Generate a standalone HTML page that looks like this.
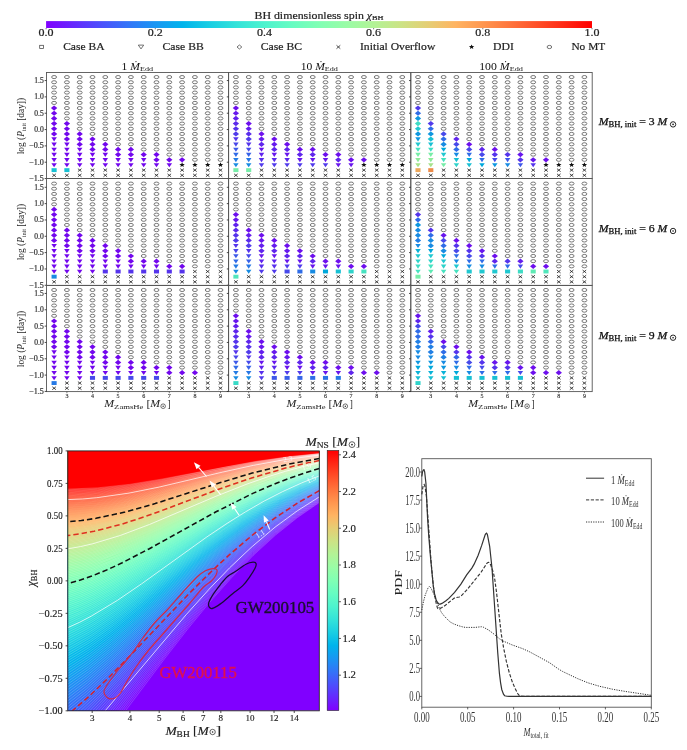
<!DOCTYPE html><html><head><meta charset="utf-8"><style>html,body{margin:0;padding:0;background:#fff;}svg{display:block;font-family:'Liberation Serif', serif;will-change:transform;} .hv text{stroke:#222;stroke-width:0.18;} .hv2 text{stroke:#222;stroke-width:0.15;}</style></head><body>
<svg width="687" height="750" viewBox="0 0 687 750">
<rect width="687" height="750" fill="#fff"/>
<g class="hv">
<defs><linearGradient id="rb" x1="0" x2="1" y1="0" y2="0">
<stop offset="0.000" stop-color="#8000ff"/>
<stop offset="0.050" stop-color="#6628fe"/>
<stop offset="0.100" stop-color="#4c4ffc"/>
<stop offset="0.150" stop-color="#3374f8"/>
<stop offset="0.200" stop-color="#1996f3"/>
<stop offset="0.250" stop-color="#00b4ec"/>
<stop offset="0.300" stop-color="#19cee3"/>
<stop offset="0.350" stop-color="#33e3d9"/>
<stop offset="0.400" stop-color="#4df3ce"/>
<stop offset="0.450" stop-color="#66fcc2"/>
<stop offset="0.500" stop-color="#80ffb4"/>
<stop offset="0.550" stop-color="#99fca6"/>
<stop offset="0.600" stop-color="#b2f396"/>
<stop offset="0.650" stop-color="#cce385"/>
<stop offset="0.700" stop-color="#e5ce74"/>
<stop offset="0.750" stop-color="#ffb462"/>
<stop offset="0.800" stop-color="#ff964f"/>
<stop offset="0.850" stop-color="#ff743c"/>
<stop offset="0.900" stop-color="#ff4f28"/>
<stop offset="0.950" stop-color="#ff2814"/>
<stop offset="1.000" stop-color="#ff0000"/>
</linearGradient></defs>
<rect x="46.10" y="21.1" width="545.90" height="6.9" fill="url(#rb)"/>
<line x1="46.10" y1="28" x2="46.10" y2="29.3" stroke="#222" stroke-width="0.6"/>
<text x="46.10" y="36.30" font-size="9.30" text-anchor="middle" fill="#222" font-weight="normal" textLength="15.00" lengthAdjust="spacingAndGlyphs">0.0</text>
<line x1="155.28" y1="28" x2="155.28" y2="29.3" stroke="#222" stroke-width="0.6"/>
<text x="155.28" y="36.30" font-size="9.30" text-anchor="middle" fill="#222" font-weight="normal" textLength="15.00" lengthAdjust="spacingAndGlyphs">0.2</text>
<line x1="264.46" y1="28" x2="264.46" y2="29.3" stroke="#222" stroke-width="0.6"/>
<text x="264.46" y="36.30" font-size="9.30" text-anchor="middle" fill="#222" font-weight="normal" textLength="15.00" lengthAdjust="spacingAndGlyphs">0.4</text>
<line x1="373.64" y1="28" x2="373.64" y2="29.3" stroke="#222" stroke-width="0.6"/>
<text x="373.64" y="36.30" font-size="9.30" text-anchor="middle" fill="#222" font-weight="normal" textLength="15.00" lengthAdjust="spacingAndGlyphs">0.6</text>
<line x1="482.82" y1="28" x2="482.82" y2="29.3" stroke="#222" stroke-width="0.6"/>
<text x="482.82" y="36.30" font-size="9.30" text-anchor="middle" fill="#222" font-weight="normal" textLength="15.00" lengthAdjust="spacingAndGlyphs">0.8</text>
<line x1="592.00" y1="28" x2="592.00" y2="29.3" stroke="#222" stroke-width="0.6"/>
<text x="592.00" y="36.30" font-size="9.30" text-anchor="middle" fill="#222" font-weight="normal" textLength="15.00" lengthAdjust="spacingAndGlyphs">1.0</text>
<text x="254.50" y="18.70" font-size="9.80" text-anchor="start" fill="#222" font-weight="normal" textLength="129.00" lengthAdjust="spacingAndGlyphs">BH dimensionless spin <tspan font-style="italic">χ</tspan><tspan font-size="6.8" dy="1.6">BH</tspan></text>
<rect x="39.7" y="45.3" width="3.8" height="3.3" fill="none" stroke="#444" stroke-width="0.75"/>
<path d="M138.3,45.1 L143.7,45.1 L141,48.9 Z" fill="none" stroke="#444" stroke-width="0.75"/>
<path d="M237.0,47 L239.4,45.0 L241.8,47 L239.4,49.0 Z" fill="none" stroke="#444" stroke-width="0.75"/>
<path d="M336.5,45.3 L340.3,48.7 M340.3,45.3 L336.5,48.7" stroke="#222" stroke-width="0.8"/>
<path d="M471.60,44.40 L472.36,45.99 L474.33,46.13 L472.83,47.25 L473.29,48.92 L471.60,48.02 L469.91,48.92 L470.37,47.25 L468.87,46.13 L470.84,45.99Z" fill="#111"/>
<ellipse cx="549.4" cy="47" rx="2.3" ry="1.6" fill="none" stroke="#444" stroke-width="0.75"/>
<text x="63.20" y="49.80" font-size="9.90" text-anchor="start" fill="#222" font-weight="normal" textLength="41.30" lengthAdjust="spacingAndGlyphs">Case BA</text>
<text x="162.60" y="49.80" font-size="9.90" text-anchor="start" fill="#222" font-weight="normal" textLength="41.10" lengthAdjust="spacingAndGlyphs">Case BB</text>
<text x="260.80" y="49.80" font-size="9.90" text-anchor="start" fill="#222" font-weight="normal" textLength="41.20" lengthAdjust="spacingAndGlyphs">Case BC</text>
<text x="360.00" y="49.80" font-size="9.90" text-anchor="start" fill="#222" font-weight="normal" textLength="75.30" lengthAdjust="spacingAndGlyphs">Initial Overflow</text>
<text x="493.00" y="49.80" font-size="9.90" text-anchor="start" fill="#222" font-weight="normal" textLength="20.80" lengthAdjust="spacingAndGlyphs">DDI</text>
<text x="571.40" y="49.80" font-size="9.90" text-anchor="start" fill="#222" font-weight="normal" textLength="33.80" lengthAdjust="spacingAndGlyphs">No MT</text>
</g>
<defs>
<ellipse id="mc" rx="2.45" ry="1.55" fill="none" stroke="#555" stroke-width="0.8"/>
<path id="md" d="M-3.15,0 L0,-2.6 L3.15,0 L0,2.6 Z"/>
<path id="mt" d="M-2.75,-1.75 L2.75,-1.75 L0,2.35 Z"/>
<path id="ms" d="M-2.55,-1.95 h5.1 v3.9 h-5.1 Z"/>
<path id="mx" d="M-1.8,-1.45 L1.8,1.45 M1.8,-1.45 L-1.8,1.45" stroke="#1a1a1a" stroke-width="0.8" fill="none"/>
</defs>
<use href="#mc" x="54.1" y="77.07"/>
<use href="#mc" x="54.1" y="82.24"/>
<use href="#mc" x="54.1" y="87.41"/>
<use href="#mc" x="54.1" y="92.58"/>
<use href="#mc" x="54.1" y="97.75"/>
<use href="#mc" x="54.1" y="102.92"/>
<use href="#mc" x="66.9" y="77.07"/>
<use href="#mc" x="66.9" y="82.24"/>
<use href="#mc" x="66.9" y="87.41"/>
<use href="#mc" x="66.9" y="92.58"/>
<use href="#mc" x="66.9" y="97.75"/>
<use href="#mc" x="66.9" y="102.92"/>
<use href="#mc" x="66.9" y="108.09"/>
<use href="#mc" x="66.9" y="113.26"/>
<use href="#mc" x="66.9" y="118.43"/>
<use href="#mc" x="79.7" y="77.07"/>
<use href="#mc" x="79.7" y="82.24"/>
<use href="#mc" x="79.7" y="87.41"/>
<use href="#mc" x="79.7" y="92.58"/>
<use href="#mc" x="79.7" y="97.75"/>
<use href="#mc" x="79.7" y="102.92"/>
<use href="#mc" x="79.7" y="108.09"/>
<use href="#mc" x="79.7" y="113.26"/>
<use href="#mc" x="79.7" y="118.43"/>
<use href="#mc" x="79.7" y="123.60"/>
<use href="#mc" x="79.7" y="128.77"/>
<use href="#mc" x="92.5" y="77.07"/>
<use href="#mc" x="92.5" y="82.24"/>
<use href="#mc" x="92.5" y="87.41"/>
<use href="#mc" x="92.5" y="92.58"/>
<use href="#mc" x="92.5" y="97.75"/>
<use href="#mc" x="92.5" y="102.92"/>
<use href="#mc" x="92.5" y="108.09"/>
<use href="#mc" x="92.5" y="113.26"/>
<use href="#mc" x="92.5" y="118.43"/>
<use href="#mc" x="92.5" y="123.60"/>
<use href="#mc" x="92.5" y="128.77"/>
<use href="#mc" x="92.5" y="133.94"/>
<use href="#mc" x="105.3" y="77.07"/>
<use href="#mc" x="105.3" y="82.24"/>
<use href="#mc" x="105.3" y="87.41"/>
<use href="#mc" x="105.3" y="92.58"/>
<use href="#mc" x="105.3" y="97.75"/>
<use href="#mc" x="105.3" y="102.92"/>
<use href="#mc" x="105.3" y="108.09"/>
<use href="#mc" x="105.3" y="113.26"/>
<use href="#mc" x="105.3" y="118.43"/>
<use href="#mc" x="105.3" y="123.60"/>
<use href="#mc" x="105.3" y="128.77"/>
<use href="#mc" x="105.3" y="133.94"/>
<use href="#mc" x="105.3" y="139.11"/>
<use href="#mc" x="118.1" y="77.07"/>
<use href="#mc" x="118.1" y="82.24"/>
<use href="#mc" x="118.1" y="87.41"/>
<use href="#mc" x="118.1" y="92.58"/>
<use href="#mc" x="118.1" y="97.75"/>
<use href="#mc" x="118.1" y="102.92"/>
<use href="#mc" x="118.1" y="108.09"/>
<use href="#mc" x="118.1" y="113.26"/>
<use href="#mc" x="118.1" y="118.43"/>
<use href="#mc" x="118.1" y="123.60"/>
<use href="#mc" x="118.1" y="128.77"/>
<use href="#mc" x="118.1" y="133.94"/>
<use href="#mc" x="118.1" y="139.11"/>
<use href="#mc" x="118.1" y="144.28"/>
<use href="#mc" x="130.9" y="77.07"/>
<use href="#mc" x="130.9" y="82.24"/>
<use href="#mc" x="130.9" y="87.41"/>
<use href="#mc" x="130.9" y="92.58"/>
<use href="#mc" x="130.9" y="97.75"/>
<use href="#mc" x="130.9" y="102.92"/>
<use href="#mc" x="130.9" y="108.09"/>
<use href="#mc" x="130.9" y="113.26"/>
<use href="#mc" x="130.9" y="118.43"/>
<use href="#mc" x="130.9" y="123.60"/>
<use href="#mc" x="130.9" y="128.77"/>
<use href="#mc" x="130.9" y="133.94"/>
<use href="#mc" x="130.9" y="139.11"/>
<use href="#mc" x="130.9" y="144.28"/>
<use href="#mc" x="143.7" y="77.07"/>
<use href="#mc" x="143.7" y="82.24"/>
<use href="#mc" x="143.7" y="87.41"/>
<use href="#mc" x="143.7" y="92.58"/>
<use href="#mc" x="143.7" y="97.75"/>
<use href="#mc" x="143.7" y="102.92"/>
<use href="#mc" x="143.7" y="108.09"/>
<use href="#mc" x="143.7" y="113.26"/>
<use href="#mc" x="143.7" y="118.43"/>
<use href="#mc" x="143.7" y="123.60"/>
<use href="#mc" x="143.7" y="128.77"/>
<use href="#mc" x="143.7" y="133.94"/>
<use href="#mc" x="143.7" y="139.11"/>
<use href="#mc" x="143.7" y="144.28"/>
<use href="#mc" x="143.7" y="149.45"/>
<use href="#mc" x="156.5" y="77.07"/>
<use href="#mc" x="156.5" y="82.24"/>
<use href="#mc" x="156.5" y="87.41"/>
<use href="#mc" x="156.5" y="92.58"/>
<use href="#mc" x="156.5" y="97.75"/>
<use href="#mc" x="156.5" y="102.92"/>
<use href="#mc" x="156.5" y="108.09"/>
<use href="#mc" x="156.5" y="113.26"/>
<use href="#mc" x="156.5" y="118.43"/>
<use href="#mc" x="156.5" y="123.60"/>
<use href="#mc" x="156.5" y="128.77"/>
<use href="#mc" x="156.5" y="133.94"/>
<use href="#mc" x="156.5" y="139.11"/>
<use href="#mc" x="156.5" y="144.28"/>
<use href="#mc" x="156.5" y="149.45"/>
<use href="#mc" x="169.3" y="77.07"/>
<use href="#mc" x="169.3" y="82.24"/>
<use href="#mc" x="169.3" y="87.41"/>
<use href="#mc" x="169.3" y="92.58"/>
<use href="#mc" x="169.3" y="97.75"/>
<use href="#mc" x="169.3" y="102.92"/>
<use href="#mc" x="169.3" y="108.09"/>
<use href="#mc" x="169.3" y="113.26"/>
<use href="#mc" x="169.3" y="118.43"/>
<use href="#mc" x="169.3" y="123.60"/>
<use href="#mc" x="169.3" y="128.77"/>
<use href="#mc" x="169.3" y="133.94"/>
<use href="#mc" x="169.3" y="139.11"/>
<use href="#mc" x="169.3" y="144.28"/>
<use href="#mc" x="169.3" y="149.45"/>
<use href="#mc" x="169.3" y="154.62"/>
<use href="#mc" x="182.1" y="77.07"/>
<use href="#mc" x="182.1" y="82.24"/>
<use href="#mc" x="182.1" y="87.41"/>
<use href="#mc" x="182.1" y="92.58"/>
<use href="#mc" x="182.1" y="97.75"/>
<use href="#mc" x="182.1" y="102.92"/>
<use href="#mc" x="182.1" y="108.09"/>
<use href="#mc" x="182.1" y="113.26"/>
<use href="#mc" x="182.1" y="118.43"/>
<use href="#mc" x="182.1" y="123.60"/>
<use href="#mc" x="182.1" y="128.77"/>
<use href="#mc" x="182.1" y="133.94"/>
<use href="#mc" x="182.1" y="139.11"/>
<use href="#mc" x="182.1" y="144.28"/>
<use href="#mc" x="182.1" y="149.45"/>
<use href="#mc" x="182.1" y="154.62"/>
<use href="#mc" x="194.9" y="77.07"/>
<use href="#mc" x="194.9" y="82.24"/>
<use href="#mc" x="194.9" y="87.41"/>
<use href="#mc" x="194.9" y="92.58"/>
<use href="#mc" x="194.9" y="97.75"/>
<use href="#mc" x="194.9" y="102.92"/>
<use href="#mc" x="194.9" y="108.09"/>
<use href="#mc" x="194.9" y="113.26"/>
<use href="#mc" x="194.9" y="118.43"/>
<use href="#mc" x="194.9" y="123.60"/>
<use href="#mc" x="194.9" y="128.77"/>
<use href="#mc" x="194.9" y="133.94"/>
<use href="#mc" x="194.9" y="139.11"/>
<use href="#mc" x="194.9" y="144.28"/>
<use href="#mc" x="194.9" y="149.45"/>
<use href="#mc" x="194.9" y="154.62"/>
<use href="#mc" x="194.9" y="159.79"/>
<use href="#mc" x="207.7" y="77.07"/>
<use href="#mc" x="207.7" y="82.24"/>
<use href="#mc" x="207.7" y="87.41"/>
<use href="#mc" x="207.7" y="92.58"/>
<use href="#mc" x="207.7" y="97.75"/>
<use href="#mc" x="207.7" y="102.92"/>
<use href="#mc" x="207.7" y="108.09"/>
<use href="#mc" x="207.7" y="113.26"/>
<use href="#mc" x="207.7" y="118.43"/>
<use href="#mc" x="207.7" y="123.60"/>
<use href="#mc" x="207.7" y="128.77"/>
<use href="#mc" x="207.7" y="133.94"/>
<use href="#mc" x="207.7" y="139.11"/>
<use href="#mc" x="207.7" y="144.28"/>
<use href="#mc" x="207.7" y="149.45"/>
<use href="#mc" x="207.7" y="154.62"/>
<use href="#mc" x="207.7" y="159.79"/>
<use href="#mc" x="220.5" y="77.07"/>
<use href="#mc" x="220.5" y="82.24"/>
<use href="#mc" x="220.5" y="87.41"/>
<use href="#mc" x="220.5" y="92.58"/>
<use href="#mc" x="220.5" y="97.75"/>
<use href="#mc" x="220.5" y="102.92"/>
<use href="#mc" x="220.5" y="108.09"/>
<use href="#mc" x="220.5" y="113.26"/>
<use href="#mc" x="220.5" y="118.43"/>
<use href="#mc" x="220.5" y="123.60"/>
<use href="#mc" x="220.5" y="128.77"/>
<use href="#mc" x="220.5" y="133.94"/>
<use href="#mc" x="220.5" y="139.11"/>
<use href="#mc" x="220.5" y="144.28"/>
<use href="#mc" x="220.5" y="149.45"/>
<use href="#mc" x="220.5" y="154.62"/>
<use href="#mc" x="220.5" y="159.79"/>
<use href="#md" x="54.1" y="108.09" fill="#7207ed"/>
<use href="#md" x="54.1" y="113.26" fill="#7207ed"/>
<use href="#md" x="54.1" y="118.43" fill="#7207ed"/>
<use href="#md" x="54.1" y="123.60" fill="#7207ed"/>
<use href="#md" x="54.1" y="128.77" fill="#7207ed"/>
<use href="#md" x="54.1" y="133.94" fill="#7207ed"/>
<use href="#mt" x="54.1" y="139.11" fill="#7207ed"/>
<use href="#mt" x="54.1" y="144.28" fill="#7207ed"/>
<use href="#mt" x="54.1" y="149.45" fill="#7207ed"/>
<use href="#mt" x="54.1" y="154.62" fill="#7207ed"/>
<use href="#mt" x="54.1" y="159.79" fill="#7207ed"/>
<use href="#mt" x="54.1" y="164.96" fill="#7207ed"/>
<use href="#ms" x="54.1" y="170.13" fill="#18c0d3"/>
<use href="#md" x="66.9" y="123.60" fill="#7207ed"/>
<use href="#md" x="66.9" y="128.77" fill="#7207ed"/>
<use href="#md" x="66.9" y="133.94" fill="#7207ed"/>
<use href="#md" x="66.9" y="139.11" fill="#7207ed"/>
<use href="#mt" x="66.9" y="144.28" fill="#7207ed"/>
<use href="#mt" x="66.9" y="149.45" fill="#7207ed"/>
<use href="#mt" x="66.9" y="154.62" fill="#7207ed"/>
<use href="#mt" x="66.9" y="159.79" fill="#7207ed"/>
<use href="#mt" x="66.9" y="164.96" fill="#7207ed"/>
<use href="#ms" x="66.9" y="170.13" fill="#18c0d3"/>
<use href="#md" x="79.7" y="133.94" fill="#7207ed"/>
<use href="#md" x="79.7" y="139.11" fill="#7207ed"/>
<use href="#md" x="79.7" y="144.28" fill="#7207ed"/>
<use href="#mt" x="79.7" y="149.45" fill="#7207ed"/>
<use href="#mt" x="79.7" y="154.62" fill="#7207ed"/>
<use href="#mt" x="79.7" y="159.79" fill="#7207ed"/>
<use href="#mt" x="79.7" y="164.96" fill="#7207ed"/>
<use href="#md" x="92.5" y="139.11" fill="#7207ed"/>
<use href="#md" x="92.5" y="144.28" fill="#7207ed"/>
<use href="#md" x="92.5" y="149.45" fill="#7207ed"/>
<use href="#mt" x="92.5" y="154.62" fill="#7207ed"/>
<use href="#mt" x="92.5" y="159.79" fill="#7207ed"/>
<use href="#mt" x="92.5" y="164.96" fill="#7207ed"/>
<use href="#md" x="105.3" y="144.28" fill="#7207ed"/>
<use href="#md" x="105.3" y="149.45" fill="#7207ed"/>
<use href="#mt" x="105.3" y="154.62" fill="#7207ed"/>
<use href="#mt" x="105.3" y="159.79" fill="#7207ed"/>
<use href="#mt" x="105.3" y="164.96" fill="#7207ed"/>
<use href="#md" x="118.1" y="149.45" fill="#7207ed"/>
<use href="#md" x="118.1" y="154.62" fill="#7207ed"/>
<use href="#mt" x="118.1" y="159.79" fill="#7207ed"/>
<use href="#mt" x="118.1" y="164.96" fill="#7207ed"/>
<use href="#md" x="130.9" y="149.45" fill="#7207ed"/>
<use href="#md" x="130.9" y="154.62" fill="#7207ed"/>
<use href="#mt" x="130.9" y="159.79" fill="#7207ed"/>
<use href="#mt" x="130.9" y="164.96" fill="#7207ed"/>
<use href="#md" x="143.7" y="154.62" fill="#7207ed"/>
<use href="#mt" x="143.7" y="159.79" fill="#7207ed"/>
<use href="#mt" x="143.7" y="164.96" fill="#7207ed"/>
<use href="#md" x="156.5" y="154.62" fill="#7207ed"/>
<use href="#md" x="156.5" y="159.79" fill="#7207ed"/>
<use href="#mt" x="156.5" y="164.96" fill="#7207ed"/>
<use href="#md" x="169.3" y="159.79" fill="#7207ed"/>
<use href="#mt" x="169.3" y="164.96" fill="#7207ed"/>
<use href="#md" x="182.1" y="159.79" fill="#7207ed"/>
<use href="#mx" x="54.1" y="175.30"/>
<use href="#mx" x="66.9" y="175.30"/>
<use href="#mx" x="79.7" y="170.13"/>
<use href="#mx" x="79.7" y="175.30"/>
<use href="#mx" x="92.5" y="170.13"/>
<use href="#mx" x="92.5" y="175.30"/>
<use href="#mx" x="105.3" y="170.13"/>
<use href="#mx" x="105.3" y="175.30"/>
<use href="#mx" x="118.1" y="170.13"/>
<use href="#mx" x="118.1" y="175.30"/>
<use href="#mx" x="130.9" y="170.13"/>
<use href="#mx" x="130.9" y="175.30"/>
<use href="#mx" x="143.7" y="170.13"/>
<use href="#mx" x="143.7" y="175.30"/>
<use href="#mx" x="156.5" y="170.13"/>
<use href="#mx" x="156.5" y="175.30"/>
<use href="#mx" x="169.3" y="170.13"/>
<use href="#mx" x="169.3" y="175.30"/>
<use href="#mx" x="182.1" y="170.13"/>
<use href="#mx" x="182.1" y="175.30"/>
<use href="#mx" x="194.9" y="170.13"/>
<use href="#mx" x="194.9" y="175.30"/>
<use href="#mx" x="207.7" y="170.13"/>
<use href="#mx" x="207.7" y="175.30"/>
<use href="#mx" x="220.5" y="170.13"/>
<use href="#mx" x="220.5" y="175.30"/>
<path d="M182.10,162.36 L182.86,163.95 L184.83,164.09 L183.33,165.21 L183.79,166.88 L182.10,165.98 L180.41,166.88 L180.87,165.21 L179.37,164.09 L181.34,163.95Z" fill="#111"/>
<path d="M194.90,162.36 L195.66,163.95 L197.63,164.09 L196.13,165.21 L196.59,166.88 L194.90,165.98 L193.21,166.88 L193.67,165.21 L192.17,164.09 L194.14,163.95Z" fill="#111"/>
<path d="M207.70,162.36 L208.46,163.95 L210.43,164.09 L208.93,165.21 L209.39,166.88 L207.70,165.98 L206.01,166.88 L206.47,165.21 L204.97,164.09 L206.94,163.95Z" fill="#111"/>
<path d="M220.50,162.36 L221.26,163.95 L223.23,164.09 L221.73,165.21 L222.19,166.88 L220.50,165.98 L218.81,166.88 L219.27,165.21 L217.77,164.09 L219.74,163.95Z" fill="#111"/>
<use href="#mc" x="235.9" y="77.07"/>
<use href="#mc" x="235.9" y="82.24"/>
<use href="#mc" x="235.9" y="87.41"/>
<use href="#mc" x="235.9" y="92.58"/>
<use href="#mc" x="235.9" y="97.75"/>
<use href="#mc" x="235.9" y="102.92"/>
<use href="#mc" x="248.7" y="77.07"/>
<use href="#mc" x="248.7" y="82.24"/>
<use href="#mc" x="248.7" y="87.41"/>
<use href="#mc" x="248.7" y="92.58"/>
<use href="#mc" x="248.7" y="97.75"/>
<use href="#mc" x="248.7" y="102.92"/>
<use href="#mc" x="248.7" y="108.09"/>
<use href="#mc" x="248.7" y="113.26"/>
<use href="#mc" x="248.7" y="118.43"/>
<use href="#mc" x="261.5" y="77.07"/>
<use href="#mc" x="261.5" y="82.24"/>
<use href="#mc" x="261.5" y="87.41"/>
<use href="#mc" x="261.5" y="92.58"/>
<use href="#mc" x="261.5" y="97.75"/>
<use href="#mc" x="261.5" y="102.92"/>
<use href="#mc" x="261.5" y="108.09"/>
<use href="#mc" x="261.5" y="113.26"/>
<use href="#mc" x="261.5" y="118.43"/>
<use href="#mc" x="261.5" y="123.60"/>
<use href="#mc" x="261.5" y="128.77"/>
<use href="#mc" x="274.3" y="77.07"/>
<use href="#mc" x="274.3" y="82.24"/>
<use href="#mc" x="274.3" y="87.41"/>
<use href="#mc" x="274.3" y="92.58"/>
<use href="#mc" x="274.3" y="97.75"/>
<use href="#mc" x="274.3" y="102.92"/>
<use href="#mc" x="274.3" y="108.09"/>
<use href="#mc" x="274.3" y="113.26"/>
<use href="#mc" x="274.3" y="118.43"/>
<use href="#mc" x="274.3" y="123.60"/>
<use href="#mc" x="274.3" y="128.77"/>
<use href="#mc" x="274.3" y="133.94"/>
<use href="#mc" x="287.1" y="77.07"/>
<use href="#mc" x="287.1" y="82.24"/>
<use href="#mc" x="287.1" y="87.41"/>
<use href="#mc" x="287.1" y="92.58"/>
<use href="#mc" x="287.1" y="97.75"/>
<use href="#mc" x="287.1" y="102.92"/>
<use href="#mc" x="287.1" y="108.09"/>
<use href="#mc" x="287.1" y="113.26"/>
<use href="#mc" x="287.1" y="118.43"/>
<use href="#mc" x="287.1" y="123.60"/>
<use href="#mc" x="287.1" y="128.77"/>
<use href="#mc" x="287.1" y="133.94"/>
<use href="#mc" x="287.1" y="139.11"/>
<use href="#mc" x="299.9" y="77.07"/>
<use href="#mc" x="299.9" y="82.24"/>
<use href="#mc" x="299.9" y="87.41"/>
<use href="#mc" x="299.9" y="92.58"/>
<use href="#mc" x="299.9" y="97.75"/>
<use href="#mc" x="299.9" y="102.92"/>
<use href="#mc" x="299.9" y="108.09"/>
<use href="#mc" x="299.9" y="113.26"/>
<use href="#mc" x="299.9" y="118.43"/>
<use href="#mc" x="299.9" y="123.60"/>
<use href="#mc" x="299.9" y="128.77"/>
<use href="#mc" x="299.9" y="133.94"/>
<use href="#mc" x="299.9" y="139.11"/>
<use href="#mc" x="299.9" y="144.28"/>
<use href="#mc" x="312.7" y="77.07"/>
<use href="#mc" x="312.7" y="82.24"/>
<use href="#mc" x="312.7" y="87.41"/>
<use href="#mc" x="312.7" y="92.58"/>
<use href="#mc" x="312.7" y="97.75"/>
<use href="#mc" x="312.7" y="102.92"/>
<use href="#mc" x="312.7" y="108.09"/>
<use href="#mc" x="312.7" y="113.26"/>
<use href="#mc" x="312.7" y="118.43"/>
<use href="#mc" x="312.7" y="123.60"/>
<use href="#mc" x="312.7" y="128.77"/>
<use href="#mc" x="312.7" y="133.94"/>
<use href="#mc" x="312.7" y="139.11"/>
<use href="#mc" x="312.7" y="144.28"/>
<use href="#mc" x="325.5" y="77.07"/>
<use href="#mc" x="325.5" y="82.24"/>
<use href="#mc" x="325.5" y="87.41"/>
<use href="#mc" x="325.5" y="92.58"/>
<use href="#mc" x="325.5" y="97.75"/>
<use href="#mc" x="325.5" y="102.92"/>
<use href="#mc" x="325.5" y="108.09"/>
<use href="#mc" x="325.5" y="113.26"/>
<use href="#mc" x="325.5" y="118.43"/>
<use href="#mc" x="325.5" y="123.60"/>
<use href="#mc" x="325.5" y="128.77"/>
<use href="#mc" x="325.5" y="133.94"/>
<use href="#mc" x="325.5" y="139.11"/>
<use href="#mc" x="325.5" y="144.28"/>
<use href="#mc" x="325.5" y="149.45"/>
<use href="#mc" x="338.3" y="77.07"/>
<use href="#mc" x="338.3" y="82.24"/>
<use href="#mc" x="338.3" y="87.41"/>
<use href="#mc" x="338.3" y="92.58"/>
<use href="#mc" x="338.3" y="97.75"/>
<use href="#mc" x="338.3" y="102.92"/>
<use href="#mc" x="338.3" y="108.09"/>
<use href="#mc" x="338.3" y="113.26"/>
<use href="#mc" x="338.3" y="118.43"/>
<use href="#mc" x="338.3" y="123.60"/>
<use href="#mc" x="338.3" y="128.77"/>
<use href="#mc" x="338.3" y="133.94"/>
<use href="#mc" x="338.3" y="139.11"/>
<use href="#mc" x="338.3" y="144.28"/>
<use href="#mc" x="338.3" y="149.45"/>
<use href="#mc" x="351.1" y="77.07"/>
<use href="#mc" x="351.1" y="82.24"/>
<use href="#mc" x="351.1" y="87.41"/>
<use href="#mc" x="351.1" y="92.58"/>
<use href="#mc" x="351.1" y="97.75"/>
<use href="#mc" x="351.1" y="102.92"/>
<use href="#mc" x="351.1" y="108.09"/>
<use href="#mc" x="351.1" y="113.26"/>
<use href="#mc" x="351.1" y="118.43"/>
<use href="#mc" x="351.1" y="123.60"/>
<use href="#mc" x="351.1" y="128.77"/>
<use href="#mc" x="351.1" y="133.94"/>
<use href="#mc" x="351.1" y="139.11"/>
<use href="#mc" x="351.1" y="144.28"/>
<use href="#mc" x="351.1" y="149.45"/>
<use href="#mc" x="351.1" y="154.62"/>
<use href="#mc" x="363.9" y="77.07"/>
<use href="#mc" x="363.9" y="82.24"/>
<use href="#mc" x="363.9" y="87.41"/>
<use href="#mc" x="363.9" y="92.58"/>
<use href="#mc" x="363.9" y="97.75"/>
<use href="#mc" x="363.9" y="102.92"/>
<use href="#mc" x="363.9" y="108.09"/>
<use href="#mc" x="363.9" y="113.26"/>
<use href="#mc" x="363.9" y="118.43"/>
<use href="#mc" x="363.9" y="123.60"/>
<use href="#mc" x="363.9" y="128.77"/>
<use href="#mc" x="363.9" y="133.94"/>
<use href="#mc" x="363.9" y="139.11"/>
<use href="#mc" x="363.9" y="144.28"/>
<use href="#mc" x="363.9" y="149.45"/>
<use href="#mc" x="363.9" y="154.62"/>
<use href="#mc" x="376.7" y="77.07"/>
<use href="#mc" x="376.7" y="82.24"/>
<use href="#mc" x="376.7" y="87.41"/>
<use href="#mc" x="376.7" y="92.58"/>
<use href="#mc" x="376.7" y="97.75"/>
<use href="#mc" x="376.7" y="102.92"/>
<use href="#mc" x="376.7" y="108.09"/>
<use href="#mc" x="376.7" y="113.26"/>
<use href="#mc" x="376.7" y="118.43"/>
<use href="#mc" x="376.7" y="123.60"/>
<use href="#mc" x="376.7" y="128.77"/>
<use href="#mc" x="376.7" y="133.94"/>
<use href="#mc" x="376.7" y="139.11"/>
<use href="#mc" x="376.7" y="144.28"/>
<use href="#mc" x="376.7" y="149.45"/>
<use href="#mc" x="376.7" y="154.62"/>
<use href="#mc" x="376.7" y="159.79"/>
<use href="#mc" x="389.5" y="77.07"/>
<use href="#mc" x="389.5" y="82.24"/>
<use href="#mc" x="389.5" y="87.41"/>
<use href="#mc" x="389.5" y="92.58"/>
<use href="#mc" x="389.5" y="97.75"/>
<use href="#mc" x="389.5" y="102.92"/>
<use href="#mc" x="389.5" y="108.09"/>
<use href="#mc" x="389.5" y="113.26"/>
<use href="#mc" x="389.5" y="118.43"/>
<use href="#mc" x="389.5" y="123.60"/>
<use href="#mc" x="389.5" y="128.77"/>
<use href="#mc" x="389.5" y="133.94"/>
<use href="#mc" x="389.5" y="139.11"/>
<use href="#mc" x="389.5" y="144.28"/>
<use href="#mc" x="389.5" y="149.45"/>
<use href="#mc" x="389.5" y="154.62"/>
<use href="#mc" x="389.5" y="159.79"/>
<use href="#mc" x="402.3" y="77.07"/>
<use href="#mc" x="402.3" y="82.24"/>
<use href="#mc" x="402.3" y="87.41"/>
<use href="#mc" x="402.3" y="92.58"/>
<use href="#mc" x="402.3" y="97.75"/>
<use href="#mc" x="402.3" y="102.92"/>
<use href="#mc" x="402.3" y="108.09"/>
<use href="#mc" x="402.3" y="113.26"/>
<use href="#mc" x="402.3" y="118.43"/>
<use href="#mc" x="402.3" y="123.60"/>
<use href="#mc" x="402.3" y="128.77"/>
<use href="#mc" x="402.3" y="133.94"/>
<use href="#mc" x="402.3" y="139.11"/>
<use href="#mc" x="402.3" y="144.28"/>
<use href="#mc" x="402.3" y="149.45"/>
<use href="#mc" x="402.3" y="154.62"/>
<use href="#mc" x="402.3" y="159.79"/>
<use href="#md" x="235.9" y="108.09" fill="#6d0fed"/>
<use href="#md" x="235.9" y="113.26" fill="#6718ed"/>
<use href="#md" x="235.9" y="118.43" fill="#6221ed"/>
<use href="#md" x="235.9" y="123.60" fill="#5c2aec"/>
<use href="#md" x="235.9" y="128.77" fill="#5632ec"/>
<use href="#md" x="235.9" y="133.94" fill="#513beb"/>
<use href="#mt" x="235.9" y="139.11" fill="#5534ec"/>
<use href="#mt" x="235.9" y="144.28" fill="#4946ea"/>
<use href="#mt" x="235.9" y="149.45" fill="#3d59e9"/>
<use href="#mt" x="235.9" y="154.62" fill="#306ae7"/>
<use href="#mt" x="235.9" y="159.79" fill="#247be4"/>
<use href="#mt" x="235.9" y="164.96" fill="#188be2"/>
<use href="#ms" x="235.9" y="170.13" fill="#77eda8"/>
<use href="#md" x="248.7" y="123.60" fill="#6d0fed"/>
<use href="#md" x="248.7" y="128.77" fill="#641eed"/>
<use href="#md" x="248.7" y="133.94" fill="#5a2cec"/>
<use href="#md" x="248.7" y="139.11" fill="#513beb"/>
<use href="#mt" x="248.7" y="144.28" fill="#5534ec"/>
<use href="#mt" x="248.7" y="149.45" fill="#464bea"/>
<use href="#mt" x="248.7" y="154.62" fill="#3762e8"/>
<use href="#mt" x="248.7" y="159.79" fill="#2777e5"/>
<use href="#mt" x="248.7" y="164.96" fill="#188be2"/>
<use href="#ms" x="248.7" y="170.13" fill="#77eda8"/>
<use href="#md" x="261.5" y="133.94" fill="#6d0fed"/>
<use href="#md" x="261.5" y="139.11" fill="#661aed"/>
<use href="#md" x="261.5" y="144.28" fill="#5f25ec"/>
<use href="#mt" x="261.5" y="149.45" fill="#6816ed"/>
<use href="#mt" x="261.5" y="154.62" fill="#6023ed"/>
<use href="#mt" x="261.5" y="159.79" fill="#592fec"/>
<use href="#mt" x="261.5" y="164.96" fill="#513beb"/>
<use href="#md" x="274.3" y="139.11" fill="#6d0fed"/>
<use href="#md" x="274.3" y="144.28" fill="#661aed"/>
<use href="#md" x="274.3" y="149.45" fill="#5f25ec"/>
<use href="#mt" x="274.3" y="154.62" fill="#6816ed"/>
<use href="#mt" x="274.3" y="159.79" fill="#5c29ec"/>
<use href="#mt" x="274.3" y="164.96" fill="#513beb"/>
<use href="#md" x="287.1" y="144.28" fill="#6d0fed"/>
<use href="#md" x="287.1" y="149.45" fill="#5f25ec"/>
<use href="#mt" x="287.1" y="154.62" fill="#6816ed"/>
<use href="#mt" x="287.1" y="159.79" fill="#5c29ec"/>
<use href="#mt" x="287.1" y="164.96" fill="#513beb"/>
<use href="#md" x="299.9" y="149.45" fill="#6d0fed"/>
<use href="#md" x="299.9" y="154.62" fill="#5f25ec"/>
<use href="#mt" x="299.9" y="159.79" fill="#6816ed"/>
<use href="#mt" x="299.9" y="164.96" fill="#513beb"/>
<use href="#md" x="312.7" y="149.45" fill="#6d0fed"/>
<use href="#md" x="312.7" y="154.62" fill="#5f25ec"/>
<use href="#mt" x="312.7" y="159.79" fill="#6816ed"/>
<use href="#mt" x="312.7" y="164.96" fill="#513beb"/>
<use href="#md" x="325.5" y="154.62" fill="#6d0fed"/>
<use href="#mt" x="325.5" y="159.79" fill="#6816ed"/>
<use href="#mt" x="325.5" y="164.96" fill="#513beb"/>
<use href="#md" x="338.3" y="154.62" fill="#6d0fed"/>
<use href="#md" x="338.3" y="159.79" fill="#5f25ec"/>
<use href="#mt" x="338.3" y="164.96" fill="#6816ed"/>
<use href="#md" x="351.1" y="159.79" fill="#6d0fed"/>
<use href="#mt" x="351.1" y="164.96" fill="#6816ed"/>
<use href="#md" x="363.9" y="159.79" fill="#6d0fed"/>
<use href="#mx" x="235.9" y="175.30"/>
<use href="#mx" x="248.7" y="175.30"/>
<use href="#mx" x="261.5" y="170.13"/>
<use href="#mx" x="261.5" y="175.30"/>
<use href="#mx" x="274.3" y="170.13"/>
<use href="#mx" x="274.3" y="175.30"/>
<use href="#mx" x="287.1" y="170.13"/>
<use href="#mx" x="287.1" y="175.30"/>
<use href="#mx" x="299.9" y="170.13"/>
<use href="#mx" x="299.9" y="175.30"/>
<use href="#mx" x="312.7" y="170.13"/>
<use href="#mx" x="312.7" y="175.30"/>
<use href="#mx" x="325.5" y="170.13"/>
<use href="#mx" x="325.5" y="175.30"/>
<use href="#mx" x="338.3" y="170.13"/>
<use href="#mx" x="338.3" y="175.30"/>
<use href="#mx" x="351.1" y="170.13"/>
<use href="#mx" x="351.1" y="175.30"/>
<use href="#mx" x="363.9" y="170.13"/>
<use href="#mx" x="363.9" y="175.30"/>
<use href="#mx" x="376.7" y="170.13"/>
<use href="#mx" x="376.7" y="175.30"/>
<use href="#mx" x="389.5" y="170.13"/>
<use href="#mx" x="389.5" y="175.30"/>
<use href="#mx" x="402.3" y="170.13"/>
<use href="#mx" x="402.3" y="175.30"/>
<path d="M363.90,162.36 L364.66,163.95 L366.63,164.09 L365.13,165.21 L365.59,166.88 L363.90,165.98 L362.21,166.88 L362.67,165.21 L361.17,164.09 L363.14,163.95Z" fill="#111"/>
<path d="M376.70,162.36 L377.46,163.95 L379.43,164.09 L377.93,165.21 L378.39,166.88 L376.70,165.98 L375.01,166.88 L375.47,165.21 L373.97,164.09 L375.94,163.95Z" fill="#111"/>
<path d="M389.50,162.36 L390.26,163.95 L392.23,164.09 L390.73,165.21 L391.19,166.88 L389.50,165.98 L387.81,166.88 L388.27,165.21 L386.77,164.09 L388.74,163.95Z" fill="#111"/>
<path d="M402.30,162.36 L403.06,163.95 L405.03,164.09 L403.53,165.21 L403.99,166.88 L402.30,165.98 L400.61,166.88 L401.07,165.21 L399.57,164.09 L401.54,163.95Z" fill="#111"/>
<use href="#mc" x="418.0" y="77.07"/>
<use href="#mc" x="418.0" y="82.24"/>
<use href="#mc" x="418.0" y="87.41"/>
<use href="#mc" x="418.0" y="92.58"/>
<use href="#mc" x="418.0" y="97.75"/>
<use href="#mc" x="418.0" y="102.92"/>
<use href="#mc" x="430.8" y="77.07"/>
<use href="#mc" x="430.8" y="82.24"/>
<use href="#mc" x="430.8" y="87.41"/>
<use href="#mc" x="430.8" y="92.58"/>
<use href="#mc" x="430.8" y="97.75"/>
<use href="#mc" x="430.8" y="102.92"/>
<use href="#mc" x="430.8" y="108.09"/>
<use href="#mc" x="430.8" y="113.26"/>
<use href="#mc" x="430.8" y="118.43"/>
<use href="#mc" x="443.6" y="77.07"/>
<use href="#mc" x="443.6" y="82.24"/>
<use href="#mc" x="443.6" y="87.41"/>
<use href="#mc" x="443.6" y="92.58"/>
<use href="#mc" x="443.6" y="97.75"/>
<use href="#mc" x="443.6" y="102.92"/>
<use href="#mc" x="443.6" y="108.09"/>
<use href="#mc" x="443.6" y="113.26"/>
<use href="#mc" x="443.6" y="118.43"/>
<use href="#mc" x="443.6" y="123.60"/>
<use href="#mc" x="443.6" y="128.77"/>
<use href="#mc" x="456.4" y="77.07"/>
<use href="#mc" x="456.4" y="82.24"/>
<use href="#mc" x="456.4" y="87.41"/>
<use href="#mc" x="456.4" y="92.58"/>
<use href="#mc" x="456.4" y="97.75"/>
<use href="#mc" x="456.4" y="102.92"/>
<use href="#mc" x="456.4" y="108.09"/>
<use href="#mc" x="456.4" y="113.26"/>
<use href="#mc" x="456.4" y="118.43"/>
<use href="#mc" x="456.4" y="123.60"/>
<use href="#mc" x="456.4" y="128.77"/>
<use href="#mc" x="456.4" y="133.94"/>
<use href="#mc" x="469.2" y="77.07"/>
<use href="#mc" x="469.2" y="82.24"/>
<use href="#mc" x="469.2" y="87.41"/>
<use href="#mc" x="469.2" y="92.58"/>
<use href="#mc" x="469.2" y="97.75"/>
<use href="#mc" x="469.2" y="102.92"/>
<use href="#mc" x="469.2" y="108.09"/>
<use href="#mc" x="469.2" y="113.26"/>
<use href="#mc" x="469.2" y="118.43"/>
<use href="#mc" x="469.2" y="123.60"/>
<use href="#mc" x="469.2" y="128.77"/>
<use href="#mc" x="469.2" y="133.94"/>
<use href="#mc" x="469.2" y="139.11"/>
<use href="#mc" x="482.0" y="77.07"/>
<use href="#mc" x="482.0" y="82.24"/>
<use href="#mc" x="482.0" y="87.41"/>
<use href="#mc" x="482.0" y="92.58"/>
<use href="#mc" x="482.0" y="97.75"/>
<use href="#mc" x="482.0" y="102.92"/>
<use href="#mc" x="482.0" y="108.09"/>
<use href="#mc" x="482.0" y="113.26"/>
<use href="#mc" x="482.0" y="118.43"/>
<use href="#mc" x="482.0" y="123.60"/>
<use href="#mc" x="482.0" y="128.77"/>
<use href="#mc" x="482.0" y="133.94"/>
<use href="#mc" x="482.0" y="139.11"/>
<use href="#mc" x="482.0" y="144.28"/>
<use href="#mc" x="494.8" y="77.07"/>
<use href="#mc" x="494.8" y="82.24"/>
<use href="#mc" x="494.8" y="87.41"/>
<use href="#mc" x="494.8" y="92.58"/>
<use href="#mc" x="494.8" y="97.75"/>
<use href="#mc" x="494.8" y="102.92"/>
<use href="#mc" x="494.8" y="108.09"/>
<use href="#mc" x="494.8" y="113.26"/>
<use href="#mc" x="494.8" y="118.43"/>
<use href="#mc" x="494.8" y="123.60"/>
<use href="#mc" x="494.8" y="128.77"/>
<use href="#mc" x="494.8" y="133.94"/>
<use href="#mc" x="494.8" y="139.11"/>
<use href="#mc" x="494.8" y="144.28"/>
<use href="#mc" x="507.6" y="77.07"/>
<use href="#mc" x="507.6" y="82.24"/>
<use href="#mc" x="507.6" y="87.41"/>
<use href="#mc" x="507.6" y="92.58"/>
<use href="#mc" x="507.6" y="97.75"/>
<use href="#mc" x="507.6" y="102.92"/>
<use href="#mc" x="507.6" y="108.09"/>
<use href="#mc" x="507.6" y="113.26"/>
<use href="#mc" x="507.6" y="118.43"/>
<use href="#mc" x="507.6" y="123.60"/>
<use href="#mc" x="507.6" y="128.77"/>
<use href="#mc" x="507.6" y="133.94"/>
<use href="#mc" x="507.6" y="139.11"/>
<use href="#mc" x="507.6" y="144.28"/>
<use href="#mc" x="507.6" y="149.45"/>
<use href="#mc" x="520.4" y="77.07"/>
<use href="#mc" x="520.4" y="82.24"/>
<use href="#mc" x="520.4" y="87.41"/>
<use href="#mc" x="520.4" y="92.58"/>
<use href="#mc" x="520.4" y="97.75"/>
<use href="#mc" x="520.4" y="102.92"/>
<use href="#mc" x="520.4" y="108.09"/>
<use href="#mc" x="520.4" y="113.26"/>
<use href="#mc" x="520.4" y="118.43"/>
<use href="#mc" x="520.4" y="123.60"/>
<use href="#mc" x="520.4" y="128.77"/>
<use href="#mc" x="520.4" y="133.94"/>
<use href="#mc" x="520.4" y="139.11"/>
<use href="#mc" x="520.4" y="144.28"/>
<use href="#mc" x="520.4" y="149.45"/>
<use href="#mc" x="533.2" y="77.07"/>
<use href="#mc" x="533.2" y="82.24"/>
<use href="#mc" x="533.2" y="87.41"/>
<use href="#mc" x="533.2" y="92.58"/>
<use href="#mc" x="533.2" y="97.75"/>
<use href="#mc" x="533.2" y="102.92"/>
<use href="#mc" x="533.2" y="108.09"/>
<use href="#mc" x="533.2" y="113.26"/>
<use href="#mc" x="533.2" y="118.43"/>
<use href="#mc" x="533.2" y="123.60"/>
<use href="#mc" x="533.2" y="128.77"/>
<use href="#mc" x="533.2" y="133.94"/>
<use href="#mc" x="533.2" y="139.11"/>
<use href="#mc" x="533.2" y="144.28"/>
<use href="#mc" x="533.2" y="149.45"/>
<use href="#mc" x="533.2" y="154.62"/>
<use href="#mc" x="546.0" y="77.07"/>
<use href="#mc" x="546.0" y="82.24"/>
<use href="#mc" x="546.0" y="87.41"/>
<use href="#mc" x="546.0" y="92.58"/>
<use href="#mc" x="546.0" y="97.75"/>
<use href="#mc" x="546.0" y="102.92"/>
<use href="#mc" x="546.0" y="108.09"/>
<use href="#mc" x="546.0" y="113.26"/>
<use href="#mc" x="546.0" y="118.43"/>
<use href="#mc" x="546.0" y="123.60"/>
<use href="#mc" x="546.0" y="128.77"/>
<use href="#mc" x="546.0" y="133.94"/>
<use href="#mc" x="546.0" y="139.11"/>
<use href="#mc" x="546.0" y="144.28"/>
<use href="#mc" x="546.0" y="149.45"/>
<use href="#mc" x="546.0" y="154.62"/>
<use href="#mc" x="558.8" y="77.07"/>
<use href="#mc" x="558.8" y="82.24"/>
<use href="#mc" x="558.8" y="87.41"/>
<use href="#mc" x="558.8" y="92.58"/>
<use href="#mc" x="558.8" y="97.75"/>
<use href="#mc" x="558.8" y="102.92"/>
<use href="#mc" x="558.8" y="108.09"/>
<use href="#mc" x="558.8" y="113.26"/>
<use href="#mc" x="558.8" y="118.43"/>
<use href="#mc" x="558.8" y="123.60"/>
<use href="#mc" x="558.8" y="128.77"/>
<use href="#mc" x="558.8" y="133.94"/>
<use href="#mc" x="558.8" y="139.11"/>
<use href="#mc" x="558.8" y="144.28"/>
<use href="#mc" x="558.8" y="149.45"/>
<use href="#mc" x="558.8" y="154.62"/>
<use href="#mc" x="558.8" y="159.79"/>
<use href="#mc" x="571.6" y="77.07"/>
<use href="#mc" x="571.6" y="82.24"/>
<use href="#mc" x="571.6" y="87.41"/>
<use href="#mc" x="571.6" y="92.58"/>
<use href="#mc" x="571.6" y="97.75"/>
<use href="#mc" x="571.6" y="102.92"/>
<use href="#mc" x="571.6" y="108.09"/>
<use href="#mc" x="571.6" y="113.26"/>
<use href="#mc" x="571.6" y="118.43"/>
<use href="#mc" x="571.6" y="123.60"/>
<use href="#mc" x="571.6" y="128.77"/>
<use href="#mc" x="571.6" y="133.94"/>
<use href="#mc" x="571.6" y="139.11"/>
<use href="#mc" x="571.6" y="144.28"/>
<use href="#mc" x="571.6" y="149.45"/>
<use href="#mc" x="571.6" y="154.62"/>
<use href="#mc" x="571.6" y="159.79"/>
<use href="#mc" x="584.4" y="77.07"/>
<use href="#mc" x="584.4" y="82.24"/>
<use href="#mc" x="584.4" y="87.41"/>
<use href="#mc" x="584.4" y="92.58"/>
<use href="#mc" x="584.4" y="97.75"/>
<use href="#mc" x="584.4" y="102.92"/>
<use href="#mc" x="584.4" y="108.09"/>
<use href="#mc" x="584.4" y="113.26"/>
<use href="#mc" x="584.4" y="118.43"/>
<use href="#mc" x="584.4" y="123.60"/>
<use href="#mc" x="584.4" y="128.77"/>
<use href="#mc" x="584.4" y="133.94"/>
<use href="#mc" x="584.4" y="139.11"/>
<use href="#mc" x="584.4" y="144.28"/>
<use href="#mc" x="584.4" y="149.45"/>
<use href="#mc" x="584.4" y="154.62"/>
<use href="#mc" x="584.4" y="159.79"/>
<use href="#md" x="418.0" y="108.09" fill="#513beb"/>
<use href="#md" x="418.0" y="113.26" fill="#2f6ce7"/>
<use href="#md" x="418.0" y="118.43" fill="#0e97df"/>
<use href="#md" x="418.0" y="123.60" fill="#3edcc4"/>
<use href="#md" x="418.0" y="128.77" fill="#21c8d0"/>
<use href="#md" x="418.0" y="133.94" fill="#0e97df"/>
<use href="#mt" x="418.0" y="139.11" fill="#0e97df"/>
<use href="#mt" x="418.0" y="144.28" fill="#21c8d0"/>
<use href="#mt" x="418.0" y="149.45" fill="#47e2c0"/>
<use href="#mt" x="418.0" y="154.62" fill="#77eda8"/>
<use href="#mt" x="418.0" y="159.79" fill="#8eea9a"/>
<use href="#mt" x="418.0" y="164.96" fill="#a6e28b"/>
<use href="#ms" x="418.0" y="170.13" fill="#eda85b"/>
<use href="#md" x="430.8" y="123.60" fill="#513beb"/>
<use href="#md" x="430.8" y="128.77" fill="#2f6ce7"/>
<use href="#md" x="430.8" y="133.94" fill="#0e97df"/>
<use href="#md" x="430.8" y="139.11" fill="#18c0d3"/>
<use href="#mt" x="430.8" y="144.28" fill="#18c0d3"/>
<use href="#mt" x="430.8" y="149.45" fill="#3edcc4"/>
<use href="#mt" x="430.8" y="154.62" fill="#77eda8"/>
<use href="#mt" x="430.8" y="159.79" fill="#8eea9a"/>
<use href="#mt" x="430.8" y="164.96" fill="#a6e28b"/>
<use href="#ms" x="430.8" y="170.13" fill="#ed8b49"/>
<use href="#md" x="443.6" y="133.94" fill="#4749ea"/>
<use href="#md" x="443.6" y="139.11" fill="#2f6ce7"/>
<use href="#md" x="443.6" y="144.28" fill="#188be2"/>
<use href="#mt" x="443.6" y="149.45" fill="#00a8db"/>
<use href="#mt" x="443.6" y="154.62" fill="#21c8d0"/>
<use href="#mt" x="443.6" y="159.79" fill="#47e2c0"/>
<use href="#mt" x="443.6" y="164.96" fill="#77eda8"/>
<use href="#md" x="456.4" y="139.11" fill="#5f25ec"/>
<use href="#md" x="456.4" y="144.28" fill="#4749ea"/>
<use href="#md" x="456.4" y="149.45" fill="#2f6ce7"/>
<use href="#mt" x="456.4" y="154.62" fill="#188be2"/>
<use href="#mt" x="456.4" y="159.79" fill="#18c0d3"/>
<use href="#mt" x="456.4" y="164.96" fill="#2fd3ca"/>
<use href="#md" x="469.2" y="144.28" fill="#6d0fed"/>
<use href="#md" x="469.2" y="149.45" fill="#4749ea"/>
<use href="#mt" x="469.2" y="154.62" fill="#2f6ce7"/>
<use href="#mt" x="469.2" y="159.79" fill="#00a8db"/>
<use href="#mt" x="469.2" y="164.96" fill="#18c0d3"/>
<use href="#md" x="482.0" y="149.45" fill="#5f25ec"/>
<use href="#md" x="482.0" y="154.62" fill="#4749ea"/>
<use href="#mt" x="482.0" y="159.79" fill="#2f6ce7"/>
<use href="#mt" x="482.0" y="164.96" fill="#00a8db"/>
<use href="#md" x="494.8" y="149.45" fill="#6d0fed"/>
<use href="#md" x="494.8" y="154.62" fill="#5534ec"/>
<use href="#mt" x="494.8" y="159.79" fill="#4749ea"/>
<use href="#mt" x="494.8" y="164.96" fill="#0e97df"/>
<use href="#md" x="507.6" y="154.62" fill="#5534ec"/>
<use href="#mt" x="507.6" y="159.79" fill="#3e57e9"/>
<use href="#mt" x="507.6" y="164.96" fill="#188be2"/>
<use href="#md" x="520.4" y="154.62" fill="#6816ed"/>
<use href="#md" x="520.4" y="159.79" fill="#5534ec"/>
<use href="#mt" x="520.4" y="164.96" fill="#3e57e9"/>
<use href="#md" x="533.2" y="159.79" fill="#6816ed"/>
<use href="#mt" x="533.2" y="164.96" fill="#5534ec"/>
<use href="#md" x="546.0" y="159.79" fill="#6d0fed"/>
<use href="#mx" x="418.0" y="175.30"/>
<use href="#mx" x="430.8" y="175.30"/>
<use href="#mx" x="443.6" y="170.13"/>
<use href="#mx" x="443.6" y="175.30"/>
<use href="#mx" x="456.4" y="170.13"/>
<use href="#mx" x="456.4" y="175.30"/>
<use href="#mx" x="469.2" y="170.13"/>
<use href="#mx" x="469.2" y="175.30"/>
<use href="#mx" x="482.0" y="170.13"/>
<use href="#mx" x="482.0" y="175.30"/>
<use href="#mx" x="494.8" y="170.13"/>
<use href="#mx" x="494.8" y="175.30"/>
<use href="#mx" x="507.6" y="170.13"/>
<use href="#mx" x="507.6" y="175.30"/>
<use href="#mx" x="520.4" y="170.13"/>
<use href="#mx" x="520.4" y="175.30"/>
<use href="#mx" x="533.2" y="170.13"/>
<use href="#mx" x="533.2" y="175.30"/>
<use href="#mx" x="546.0" y="170.13"/>
<use href="#mx" x="546.0" y="175.30"/>
<use href="#mx" x="558.8" y="170.13"/>
<use href="#mx" x="558.8" y="175.30"/>
<use href="#mx" x="571.6" y="170.13"/>
<use href="#mx" x="571.6" y="175.30"/>
<use href="#mx" x="584.4" y="170.13"/>
<use href="#mx" x="584.4" y="175.30"/>
<path d="M546.00,162.36 L546.76,163.95 L548.73,164.09 L547.23,165.21 L547.69,166.88 L546.00,165.98 L544.31,166.88 L544.77,165.21 L543.27,164.09 L545.24,163.95Z" fill="#111"/>
<path d="M558.80,162.36 L559.56,163.95 L561.53,164.09 L560.03,165.21 L560.49,166.88 L558.80,165.98 L557.11,166.88 L557.57,165.21 L556.07,164.09 L558.04,163.95Z" fill="#111"/>
<path d="M571.60,162.36 L572.36,163.95 L574.33,164.09 L572.83,165.21 L573.29,166.88 L571.60,165.98 L569.91,166.88 L570.37,165.21 L568.87,164.09 L570.84,163.95Z" fill="#111"/>
<path d="M584.40,162.36 L585.16,163.95 L587.13,164.09 L585.63,165.21 L586.09,166.88 L584.40,165.98 L582.71,166.88 L583.17,165.21 L581.67,164.09 L583.64,163.95Z" fill="#111"/>
<use href="#mc" x="54.1" y="183.60"/>
<use href="#mc" x="54.1" y="188.77"/>
<use href="#mc" x="54.1" y="193.94"/>
<use href="#mc" x="54.1" y="199.11"/>
<use href="#mc" x="54.1" y="204.28"/>
<use href="#mc" x="66.9" y="183.60"/>
<use href="#mc" x="66.9" y="188.77"/>
<use href="#mc" x="66.9" y="193.94"/>
<use href="#mc" x="66.9" y="199.11"/>
<use href="#mc" x="66.9" y="204.28"/>
<use href="#mc" x="66.9" y="209.45"/>
<use href="#mc" x="66.9" y="214.62"/>
<use href="#mc" x="66.9" y="219.79"/>
<use href="#mc" x="66.9" y="224.96"/>
<use href="#mc" x="79.7" y="183.60"/>
<use href="#mc" x="79.7" y="188.77"/>
<use href="#mc" x="79.7" y="193.94"/>
<use href="#mc" x="79.7" y="199.11"/>
<use href="#mc" x="79.7" y="204.28"/>
<use href="#mc" x="79.7" y="209.45"/>
<use href="#mc" x="79.7" y="214.62"/>
<use href="#mc" x="79.7" y="219.79"/>
<use href="#mc" x="79.7" y="224.96"/>
<use href="#mc" x="79.7" y="230.13"/>
<use href="#mc" x="92.5" y="183.60"/>
<use href="#mc" x="92.5" y="188.77"/>
<use href="#mc" x="92.5" y="193.94"/>
<use href="#mc" x="92.5" y="199.11"/>
<use href="#mc" x="92.5" y="204.28"/>
<use href="#mc" x="92.5" y="209.45"/>
<use href="#mc" x="92.5" y="214.62"/>
<use href="#mc" x="92.5" y="219.79"/>
<use href="#mc" x="92.5" y="224.96"/>
<use href="#mc" x="92.5" y="230.13"/>
<use href="#mc" x="92.5" y="235.30"/>
<use href="#mc" x="105.3" y="183.60"/>
<use href="#mc" x="105.3" y="188.77"/>
<use href="#mc" x="105.3" y="193.94"/>
<use href="#mc" x="105.3" y="199.11"/>
<use href="#mc" x="105.3" y="204.28"/>
<use href="#mc" x="105.3" y="209.45"/>
<use href="#mc" x="105.3" y="214.62"/>
<use href="#mc" x="105.3" y="219.79"/>
<use href="#mc" x="105.3" y="224.96"/>
<use href="#mc" x="105.3" y="230.13"/>
<use href="#mc" x="105.3" y="235.30"/>
<use href="#mc" x="105.3" y="240.47"/>
<use href="#mc" x="118.1" y="183.60"/>
<use href="#mc" x="118.1" y="188.77"/>
<use href="#mc" x="118.1" y="193.94"/>
<use href="#mc" x="118.1" y="199.11"/>
<use href="#mc" x="118.1" y="204.28"/>
<use href="#mc" x="118.1" y="209.45"/>
<use href="#mc" x="118.1" y="214.62"/>
<use href="#mc" x="118.1" y="219.79"/>
<use href="#mc" x="118.1" y="224.96"/>
<use href="#mc" x="118.1" y="230.13"/>
<use href="#mc" x="118.1" y="235.30"/>
<use href="#mc" x="118.1" y="240.47"/>
<use href="#mc" x="118.1" y="245.64"/>
<use href="#mc" x="130.9" y="183.60"/>
<use href="#mc" x="130.9" y="188.77"/>
<use href="#mc" x="130.9" y="193.94"/>
<use href="#mc" x="130.9" y="199.11"/>
<use href="#mc" x="130.9" y="204.28"/>
<use href="#mc" x="130.9" y="209.45"/>
<use href="#mc" x="130.9" y="214.62"/>
<use href="#mc" x="130.9" y="219.79"/>
<use href="#mc" x="130.9" y="224.96"/>
<use href="#mc" x="130.9" y="230.13"/>
<use href="#mc" x="130.9" y="235.30"/>
<use href="#mc" x="130.9" y="240.47"/>
<use href="#mc" x="130.9" y="245.64"/>
<use href="#mc" x="130.9" y="250.81"/>
<use href="#mc" x="143.7" y="183.60"/>
<use href="#mc" x="143.7" y="188.77"/>
<use href="#mc" x="143.7" y="193.94"/>
<use href="#mc" x="143.7" y="199.11"/>
<use href="#mc" x="143.7" y="204.28"/>
<use href="#mc" x="143.7" y="209.45"/>
<use href="#mc" x="143.7" y="214.62"/>
<use href="#mc" x="143.7" y="219.79"/>
<use href="#mc" x="143.7" y="224.96"/>
<use href="#mc" x="143.7" y="230.13"/>
<use href="#mc" x="143.7" y="235.30"/>
<use href="#mc" x="143.7" y="240.47"/>
<use href="#mc" x="143.7" y="245.64"/>
<use href="#mc" x="143.7" y="250.81"/>
<use href="#mc" x="143.7" y="255.98"/>
<use href="#mc" x="156.5" y="183.60"/>
<use href="#mc" x="156.5" y="188.77"/>
<use href="#mc" x="156.5" y="193.94"/>
<use href="#mc" x="156.5" y="199.11"/>
<use href="#mc" x="156.5" y="204.28"/>
<use href="#mc" x="156.5" y="209.45"/>
<use href="#mc" x="156.5" y="214.62"/>
<use href="#mc" x="156.5" y="219.79"/>
<use href="#mc" x="156.5" y="224.96"/>
<use href="#mc" x="156.5" y="230.13"/>
<use href="#mc" x="156.5" y="235.30"/>
<use href="#mc" x="156.5" y="240.47"/>
<use href="#mc" x="156.5" y="245.64"/>
<use href="#mc" x="156.5" y="250.81"/>
<use href="#mc" x="156.5" y="255.98"/>
<use href="#mc" x="169.3" y="183.60"/>
<use href="#mc" x="169.3" y="188.77"/>
<use href="#mc" x="169.3" y="193.94"/>
<use href="#mc" x="169.3" y="199.11"/>
<use href="#mc" x="169.3" y="204.28"/>
<use href="#mc" x="169.3" y="209.45"/>
<use href="#mc" x="169.3" y="214.62"/>
<use href="#mc" x="169.3" y="219.79"/>
<use href="#mc" x="169.3" y="224.96"/>
<use href="#mc" x="169.3" y="230.13"/>
<use href="#mc" x="169.3" y="235.30"/>
<use href="#mc" x="169.3" y="240.47"/>
<use href="#mc" x="169.3" y="245.64"/>
<use href="#mc" x="169.3" y="250.81"/>
<use href="#mc" x="169.3" y="255.98"/>
<use href="#mc" x="169.3" y="261.15"/>
<use href="#mc" x="182.1" y="183.60"/>
<use href="#mc" x="182.1" y="188.77"/>
<use href="#mc" x="182.1" y="193.94"/>
<use href="#mc" x="182.1" y="199.11"/>
<use href="#mc" x="182.1" y="204.28"/>
<use href="#mc" x="182.1" y="209.45"/>
<use href="#mc" x="182.1" y="214.62"/>
<use href="#mc" x="182.1" y="219.79"/>
<use href="#mc" x="182.1" y="224.96"/>
<use href="#mc" x="182.1" y="230.13"/>
<use href="#mc" x="182.1" y="235.30"/>
<use href="#mc" x="182.1" y="240.47"/>
<use href="#mc" x="182.1" y="245.64"/>
<use href="#mc" x="182.1" y="250.81"/>
<use href="#mc" x="182.1" y="255.98"/>
<use href="#mc" x="182.1" y="261.15"/>
<use href="#mc" x="194.9" y="183.60"/>
<use href="#mc" x="194.9" y="188.77"/>
<use href="#mc" x="194.9" y="193.94"/>
<use href="#mc" x="194.9" y="199.11"/>
<use href="#mc" x="194.9" y="204.28"/>
<use href="#mc" x="194.9" y="209.45"/>
<use href="#mc" x="194.9" y="214.62"/>
<use href="#mc" x="194.9" y="219.79"/>
<use href="#mc" x="194.9" y="224.96"/>
<use href="#mc" x="194.9" y="230.13"/>
<use href="#mc" x="194.9" y="235.30"/>
<use href="#mc" x="194.9" y="240.47"/>
<use href="#mc" x="194.9" y="245.64"/>
<use href="#mc" x="194.9" y="250.81"/>
<use href="#mc" x="194.9" y="255.98"/>
<use href="#mc" x="194.9" y="261.15"/>
<use href="#mc" x="194.9" y="266.32"/>
<use href="#mc" x="207.7" y="183.60"/>
<use href="#mc" x="207.7" y="188.77"/>
<use href="#mc" x="207.7" y="193.94"/>
<use href="#mc" x="207.7" y="199.11"/>
<use href="#mc" x="207.7" y="204.28"/>
<use href="#mc" x="207.7" y="209.45"/>
<use href="#mc" x="207.7" y="214.62"/>
<use href="#mc" x="207.7" y="219.79"/>
<use href="#mc" x="207.7" y="224.96"/>
<use href="#mc" x="207.7" y="230.13"/>
<use href="#mc" x="207.7" y="235.30"/>
<use href="#mc" x="207.7" y="240.47"/>
<use href="#mc" x="207.7" y="245.64"/>
<use href="#mc" x="207.7" y="250.81"/>
<use href="#mc" x="207.7" y="255.98"/>
<use href="#mc" x="207.7" y="261.15"/>
<use href="#mc" x="207.7" y="266.32"/>
<use href="#mc" x="220.5" y="183.60"/>
<use href="#mc" x="220.5" y="188.77"/>
<use href="#mc" x="220.5" y="193.94"/>
<use href="#mc" x="220.5" y="199.11"/>
<use href="#mc" x="220.5" y="204.28"/>
<use href="#mc" x="220.5" y="209.45"/>
<use href="#mc" x="220.5" y="214.62"/>
<use href="#mc" x="220.5" y="219.79"/>
<use href="#mc" x="220.5" y="224.96"/>
<use href="#mc" x="220.5" y="230.13"/>
<use href="#mc" x="220.5" y="235.30"/>
<use href="#mc" x="220.5" y="240.47"/>
<use href="#mc" x="220.5" y="245.64"/>
<use href="#mc" x="220.5" y="250.81"/>
<use href="#mc" x="220.5" y="255.98"/>
<use href="#mc" x="220.5" y="261.15"/>
<use href="#mc" x="220.5" y="266.32"/>
<use href="#md" x="54.1" y="209.45" fill="#7207ed"/>
<use href="#md" x="54.1" y="214.62" fill="#7207ed"/>
<use href="#md" x="54.1" y="219.79" fill="#7207ed"/>
<use href="#md" x="54.1" y="224.96" fill="#7207ed"/>
<use href="#md" x="54.1" y="230.13" fill="#7207ed"/>
<use href="#md" x="54.1" y="235.30" fill="#7207ed"/>
<use href="#md" x="54.1" y="240.47" fill="#7207ed"/>
<use href="#mt" x="54.1" y="245.64" fill="#7207ed"/>
<use href="#mt" x="54.1" y="250.81" fill="#7207ed"/>
<use href="#mt" x="54.1" y="255.98" fill="#7207ed"/>
<use href="#mt" x="54.1" y="261.15" fill="#7207ed"/>
<use href="#mt" x="54.1" y="266.32" fill="#7207ed"/>
<use href="#mt" x="54.1" y="271.49" fill="#7207ed"/>
<use href="#ms" x="54.1" y="276.66" fill="#188be2"/>
<use href="#md" x="66.9" y="230.13" fill="#7207ed"/>
<use href="#md" x="66.9" y="235.30" fill="#7207ed"/>
<use href="#md" x="66.9" y="240.47" fill="#7207ed"/>
<use href="#md" x="66.9" y="245.64" fill="#7207ed"/>
<use href="#mt" x="66.9" y="250.81" fill="#7207ed"/>
<use href="#mt" x="66.9" y="255.98" fill="#7207ed"/>
<use href="#mt" x="66.9" y="261.15" fill="#7207ed"/>
<use href="#mt" x="66.9" y="266.32" fill="#7207ed"/>
<use href="#mt" x="66.9" y="271.49" fill="#7207ed"/>
<use href="#md" x="79.7" y="235.30" fill="#7207ed"/>
<use href="#md" x="79.7" y="240.47" fill="#7207ed"/>
<use href="#md" x="79.7" y="245.64" fill="#7207ed"/>
<use href="#md" x="79.7" y="250.81" fill="#7207ed"/>
<use href="#mt" x="79.7" y="255.98" fill="#7207ed"/>
<use href="#mt" x="79.7" y="261.15" fill="#7207ed"/>
<use href="#mt" x="79.7" y="266.32" fill="#7207ed"/>
<use href="#mt" x="79.7" y="271.49" fill="#7207ed"/>
<use href="#md" x="92.5" y="240.47" fill="#7207ed"/>
<use href="#md" x="92.5" y="245.64" fill="#7207ed"/>
<use href="#md" x="92.5" y="250.81" fill="#7207ed"/>
<use href="#mt" x="92.5" y="255.98" fill="#7207ed"/>
<use href="#mt" x="92.5" y="261.15" fill="#7207ed"/>
<use href="#mt" x="92.5" y="266.32" fill="#7207ed"/>
<use href="#mt" x="92.5" y="271.49" fill="#7207ed"/>
<use href="#md" x="105.3" y="245.64" fill="#7207ed"/>
<use href="#md" x="105.3" y="250.81" fill="#7207ed"/>
<use href="#md" x="105.3" y="255.98" fill="#7207ed"/>
<use href="#mt" x="105.3" y="261.15" fill="#7207ed"/>
<use href="#mt" x="105.3" y="266.32" fill="#7207ed"/>
<use href="#ms" x="105.3" y="271.49" fill="#5534ec"/>
<use href="#md" x="118.1" y="250.81" fill="#7207ed"/>
<use href="#md" x="118.1" y="255.98" fill="#7207ed"/>
<use href="#mt" x="118.1" y="261.15" fill="#7207ed"/>
<use href="#mt" x="118.1" y="266.32" fill="#7207ed"/>
<use href="#ms" x="118.1" y="271.49" fill="#5534ec"/>
<use href="#md" x="130.9" y="255.98" fill="#7207ed"/>
<use href="#md" x="130.9" y="261.15" fill="#7207ed"/>
<use href="#mt" x="130.9" y="266.32" fill="#7207ed"/>
<use href="#ms" x="130.9" y="271.49" fill="#5534ec"/>
<use href="#md" x="143.7" y="261.15" fill="#7207ed"/>
<use href="#mt" x="143.7" y="266.32" fill="#7207ed"/>
<use href="#ms" x="143.7" y="271.49" fill="#5534ec"/>
<use href="#md" x="156.5" y="261.15" fill="#7207ed"/>
<use href="#mt" x="156.5" y="266.32" fill="#7207ed"/>
<use href="#ms" x="156.5" y="271.49" fill="#5534ec"/>
<use href="#md" x="169.3" y="266.32" fill="#7207ed"/>
<use href="#ms" x="169.3" y="271.49" fill="#5534ec"/>
<use href="#md" x="182.1" y="266.32" fill="#7207ed"/>
<use href="#ms" x="182.1" y="271.49" fill="#5534ec"/>
<use href="#mx" x="54.1" y="281.83"/>
<use href="#mx" x="66.9" y="276.66"/>
<use href="#mx" x="66.9" y="281.83"/>
<use href="#mx" x="79.7" y="276.66"/>
<use href="#mx" x="79.7" y="281.83"/>
<use href="#mx" x="92.5" y="276.66"/>
<use href="#mx" x="92.5" y="281.83"/>
<use href="#mx" x="105.3" y="276.66"/>
<use href="#mx" x="105.3" y="281.83"/>
<use href="#mx" x="118.1" y="276.66"/>
<use href="#mx" x="118.1" y="281.83"/>
<use href="#mx" x="130.9" y="276.66"/>
<use href="#mx" x="130.9" y="281.83"/>
<use href="#mx" x="143.7" y="276.66"/>
<use href="#mx" x="143.7" y="281.83"/>
<use href="#mx" x="156.5" y="276.66"/>
<use href="#mx" x="156.5" y="281.83"/>
<use href="#mx" x="169.3" y="276.66"/>
<use href="#mx" x="169.3" y="281.83"/>
<use href="#mx" x="182.1" y="276.66"/>
<use href="#mx" x="182.1" y="281.83"/>
<use href="#mx" x="194.9" y="271.49"/>
<use href="#mx" x="194.9" y="276.66"/>
<use href="#mx" x="194.9" y="281.83"/>
<use href="#mx" x="207.7" y="271.49"/>
<use href="#mx" x="207.7" y="276.66"/>
<use href="#mx" x="207.7" y="281.83"/>
<use href="#mx" x="220.5" y="271.49"/>
<use href="#mx" x="220.5" y="276.66"/>
<use href="#mx" x="220.5" y="281.83"/>
<use href="#mc" x="235.9" y="183.60"/>
<use href="#mc" x="235.9" y="188.77"/>
<use href="#mc" x="235.9" y="193.94"/>
<use href="#mc" x="235.9" y="199.11"/>
<use href="#mc" x="235.9" y="204.28"/>
<use href="#mc" x="235.9" y="209.45"/>
<use href="#mc" x="248.7" y="183.60"/>
<use href="#mc" x="248.7" y="188.77"/>
<use href="#mc" x="248.7" y="193.94"/>
<use href="#mc" x="248.7" y="199.11"/>
<use href="#mc" x="248.7" y="204.28"/>
<use href="#mc" x="248.7" y="209.45"/>
<use href="#mc" x="248.7" y="214.62"/>
<use href="#mc" x="248.7" y="219.79"/>
<use href="#mc" x="248.7" y="224.96"/>
<use href="#mc" x="261.5" y="183.60"/>
<use href="#mc" x="261.5" y="188.77"/>
<use href="#mc" x="261.5" y="193.94"/>
<use href="#mc" x="261.5" y="199.11"/>
<use href="#mc" x="261.5" y="204.28"/>
<use href="#mc" x="261.5" y="209.45"/>
<use href="#mc" x="261.5" y="214.62"/>
<use href="#mc" x="261.5" y="219.79"/>
<use href="#mc" x="261.5" y="224.96"/>
<use href="#mc" x="261.5" y="230.13"/>
<use href="#mc" x="274.3" y="183.60"/>
<use href="#mc" x="274.3" y="188.77"/>
<use href="#mc" x="274.3" y="193.94"/>
<use href="#mc" x="274.3" y="199.11"/>
<use href="#mc" x="274.3" y="204.28"/>
<use href="#mc" x="274.3" y="209.45"/>
<use href="#mc" x="274.3" y="214.62"/>
<use href="#mc" x="274.3" y="219.79"/>
<use href="#mc" x="274.3" y="224.96"/>
<use href="#mc" x="274.3" y="230.13"/>
<use href="#mc" x="274.3" y="235.30"/>
<use href="#mc" x="287.1" y="183.60"/>
<use href="#mc" x="287.1" y="188.77"/>
<use href="#mc" x="287.1" y="193.94"/>
<use href="#mc" x="287.1" y="199.11"/>
<use href="#mc" x="287.1" y="204.28"/>
<use href="#mc" x="287.1" y="209.45"/>
<use href="#mc" x="287.1" y="214.62"/>
<use href="#mc" x="287.1" y="219.79"/>
<use href="#mc" x="287.1" y="224.96"/>
<use href="#mc" x="287.1" y="230.13"/>
<use href="#mc" x="287.1" y="235.30"/>
<use href="#mc" x="287.1" y="240.47"/>
<use href="#mc" x="299.9" y="183.60"/>
<use href="#mc" x="299.9" y="188.77"/>
<use href="#mc" x="299.9" y="193.94"/>
<use href="#mc" x="299.9" y="199.11"/>
<use href="#mc" x="299.9" y="204.28"/>
<use href="#mc" x="299.9" y="209.45"/>
<use href="#mc" x="299.9" y="214.62"/>
<use href="#mc" x="299.9" y="219.79"/>
<use href="#mc" x="299.9" y="224.96"/>
<use href="#mc" x="299.9" y="230.13"/>
<use href="#mc" x="299.9" y="235.30"/>
<use href="#mc" x="299.9" y="240.47"/>
<use href="#mc" x="299.9" y="245.64"/>
<use href="#mc" x="312.7" y="183.60"/>
<use href="#mc" x="312.7" y="188.77"/>
<use href="#mc" x="312.7" y="193.94"/>
<use href="#mc" x="312.7" y="199.11"/>
<use href="#mc" x="312.7" y="204.28"/>
<use href="#mc" x="312.7" y="209.45"/>
<use href="#mc" x="312.7" y="214.62"/>
<use href="#mc" x="312.7" y="219.79"/>
<use href="#mc" x="312.7" y="224.96"/>
<use href="#mc" x="312.7" y="230.13"/>
<use href="#mc" x="312.7" y="235.30"/>
<use href="#mc" x="312.7" y="240.47"/>
<use href="#mc" x="312.7" y="245.64"/>
<use href="#mc" x="312.7" y="250.81"/>
<use href="#mc" x="325.5" y="183.60"/>
<use href="#mc" x="325.5" y="188.77"/>
<use href="#mc" x="325.5" y="193.94"/>
<use href="#mc" x="325.5" y="199.11"/>
<use href="#mc" x="325.5" y="204.28"/>
<use href="#mc" x="325.5" y="209.45"/>
<use href="#mc" x="325.5" y="214.62"/>
<use href="#mc" x="325.5" y="219.79"/>
<use href="#mc" x="325.5" y="224.96"/>
<use href="#mc" x="325.5" y="230.13"/>
<use href="#mc" x="325.5" y="235.30"/>
<use href="#mc" x="325.5" y="240.47"/>
<use href="#mc" x="325.5" y="245.64"/>
<use href="#mc" x="325.5" y="250.81"/>
<use href="#mc" x="325.5" y="255.98"/>
<use href="#mc" x="338.3" y="183.60"/>
<use href="#mc" x="338.3" y="188.77"/>
<use href="#mc" x="338.3" y="193.94"/>
<use href="#mc" x="338.3" y="199.11"/>
<use href="#mc" x="338.3" y="204.28"/>
<use href="#mc" x="338.3" y="209.45"/>
<use href="#mc" x="338.3" y="214.62"/>
<use href="#mc" x="338.3" y="219.79"/>
<use href="#mc" x="338.3" y="224.96"/>
<use href="#mc" x="338.3" y="230.13"/>
<use href="#mc" x="338.3" y="235.30"/>
<use href="#mc" x="338.3" y="240.47"/>
<use href="#mc" x="338.3" y="245.64"/>
<use href="#mc" x="338.3" y="250.81"/>
<use href="#mc" x="338.3" y="255.98"/>
<use href="#mc" x="351.1" y="183.60"/>
<use href="#mc" x="351.1" y="188.77"/>
<use href="#mc" x="351.1" y="193.94"/>
<use href="#mc" x="351.1" y="199.11"/>
<use href="#mc" x="351.1" y="204.28"/>
<use href="#mc" x="351.1" y="209.45"/>
<use href="#mc" x="351.1" y="214.62"/>
<use href="#mc" x="351.1" y="219.79"/>
<use href="#mc" x="351.1" y="224.96"/>
<use href="#mc" x="351.1" y="230.13"/>
<use href="#mc" x="351.1" y="235.30"/>
<use href="#mc" x="351.1" y="240.47"/>
<use href="#mc" x="351.1" y="245.64"/>
<use href="#mc" x="351.1" y="250.81"/>
<use href="#mc" x="351.1" y="255.98"/>
<use href="#mc" x="351.1" y="261.15"/>
<use href="#mc" x="363.9" y="183.60"/>
<use href="#mc" x="363.9" y="188.77"/>
<use href="#mc" x="363.9" y="193.94"/>
<use href="#mc" x="363.9" y="199.11"/>
<use href="#mc" x="363.9" y="204.28"/>
<use href="#mc" x="363.9" y="209.45"/>
<use href="#mc" x="363.9" y="214.62"/>
<use href="#mc" x="363.9" y="219.79"/>
<use href="#mc" x="363.9" y="224.96"/>
<use href="#mc" x="363.9" y="230.13"/>
<use href="#mc" x="363.9" y="235.30"/>
<use href="#mc" x="363.9" y="240.47"/>
<use href="#mc" x="363.9" y="245.64"/>
<use href="#mc" x="363.9" y="250.81"/>
<use href="#mc" x="363.9" y="255.98"/>
<use href="#mc" x="363.9" y="261.15"/>
<use href="#mc" x="376.7" y="183.60"/>
<use href="#mc" x="376.7" y="188.77"/>
<use href="#mc" x="376.7" y="193.94"/>
<use href="#mc" x="376.7" y="199.11"/>
<use href="#mc" x="376.7" y="204.28"/>
<use href="#mc" x="376.7" y="209.45"/>
<use href="#mc" x="376.7" y="214.62"/>
<use href="#mc" x="376.7" y="219.79"/>
<use href="#mc" x="376.7" y="224.96"/>
<use href="#mc" x="376.7" y="230.13"/>
<use href="#mc" x="376.7" y="235.30"/>
<use href="#mc" x="376.7" y="240.47"/>
<use href="#mc" x="376.7" y="245.64"/>
<use href="#mc" x="376.7" y="250.81"/>
<use href="#mc" x="376.7" y="255.98"/>
<use href="#mc" x="376.7" y="261.15"/>
<use href="#mc" x="376.7" y="266.32"/>
<use href="#mc" x="389.5" y="183.60"/>
<use href="#mc" x="389.5" y="188.77"/>
<use href="#mc" x="389.5" y="193.94"/>
<use href="#mc" x="389.5" y="199.11"/>
<use href="#mc" x="389.5" y="204.28"/>
<use href="#mc" x="389.5" y="209.45"/>
<use href="#mc" x="389.5" y="214.62"/>
<use href="#mc" x="389.5" y="219.79"/>
<use href="#mc" x="389.5" y="224.96"/>
<use href="#mc" x="389.5" y="230.13"/>
<use href="#mc" x="389.5" y="235.30"/>
<use href="#mc" x="389.5" y="240.47"/>
<use href="#mc" x="389.5" y="245.64"/>
<use href="#mc" x="389.5" y="250.81"/>
<use href="#mc" x="389.5" y="255.98"/>
<use href="#mc" x="389.5" y="261.15"/>
<use href="#mc" x="389.5" y="266.32"/>
<use href="#mc" x="402.3" y="183.60"/>
<use href="#mc" x="402.3" y="188.77"/>
<use href="#mc" x="402.3" y="193.94"/>
<use href="#mc" x="402.3" y="199.11"/>
<use href="#mc" x="402.3" y="204.28"/>
<use href="#mc" x="402.3" y="209.45"/>
<use href="#mc" x="402.3" y="214.62"/>
<use href="#mc" x="402.3" y="219.79"/>
<use href="#mc" x="402.3" y="224.96"/>
<use href="#mc" x="402.3" y="230.13"/>
<use href="#mc" x="402.3" y="235.30"/>
<use href="#mc" x="402.3" y="240.47"/>
<use href="#mc" x="402.3" y="245.64"/>
<use href="#mc" x="402.3" y="250.81"/>
<use href="#mc" x="402.3" y="255.98"/>
<use href="#mc" x="402.3" y="261.15"/>
<use href="#mc" x="402.3" y="266.32"/>
<use href="#md" x="235.9" y="214.62" fill="#6d0fed"/>
<use href="#md" x="235.9" y="219.79" fill="#6718ed"/>
<use href="#md" x="235.9" y="224.96" fill="#6221ed"/>
<use href="#md" x="235.9" y="230.13" fill="#5c2aec"/>
<use href="#md" x="235.9" y="235.30" fill="#5632ec"/>
<use href="#md" x="235.9" y="240.47" fill="#513beb"/>
<use href="#mt" x="235.9" y="245.64" fill="#5534ec"/>
<use href="#mt" x="235.9" y="250.81" fill="#4946ea"/>
<use href="#mt" x="235.9" y="255.98" fill="#3d59e9"/>
<use href="#mt" x="235.9" y="261.15" fill="#306ae7"/>
<use href="#mt" x="235.9" y="266.32" fill="#247be4"/>
<use href="#mt" x="235.9" y="271.49" fill="#188be2"/>
<use href="#ms" x="235.9" y="276.66" fill="#51e6bb"/>
<use href="#md" x="248.7" y="230.13" fill="#6d0fed"/>
<use href="#md" x="248.7" y="235.30" fill="#641eed"/>
<use href="#md" x="248.7" y="240.47" fill="#5a2cec"/>
<use href="#md" x="248.7" y="245.64" fill="#513beb"/>
<use href="#mt" x="248.7" y="250.81" fill="#5534ec"/>
<use href="#mt" x="248.7" y="255.98" fill="#464bea"/>
<use href="#mt" x="248.7" y="261.15" fill="#3762e8"/>
<use href="#mt" x="248.7" y="266.32" fill="#2777e5"/>
<use href="#mt" x="248.7" y="271.49" fill="#188be2"/>
<use href="#md" x="261.5" y="235.30" fill="#6d0fed"/>
<use href="#md" x="261.5" y="240.47" fill="#6816ed"/>
<use href="#md" x="261.5" y="245.64" fill="#641eed"/>
<use href="#md" x="261.5" y="250.81" fill="#5f25ec"/>
<use href="#mt" x="261.5" y="255.98" fill="#6816ed"/>
<use href="#mt" x="261.5" y="261.15" fill="#6023ed"/>
<use href="#mt" x="261.5" y="266.32" fill="#592fec"/>
<use href="#mt" x="261.5" y="271.49" fill="#513beb"/>
<use href="#md" x="274.3" y="240.47" fill="#6d0fed"/>
<use href="#md" x="274.3" y="245.64" fill="#661aed"/>
<use href="#md" x="274.3" y="250.81" fill="#5f25ec"/>
<use href="#mt" x="274.3" y="255.98" fill="#6816ed"/>
<use href="#mt" x="274.3" y="261.15" fill="#6023ed"/>
<use href="#mt" x="274.3" y="266.32" fill="#592fec"/>
<use href="#mt" x="274.3" y="271.49" fill="#513beb"/>
<use href="#md" x="287.1" y="245.64" fill="#6d0fed"/>
<use href="#md" x="287.1" y="250.81" fill="#661aed"/>
<use href="#md" x="287.1" y="255.98" fill="#5f25ec"/>
<use href="#mt" x="287.1" y="261.15" fill="#6816ed"/>
<use href="#mt" x="287.1" y="266.32" fill="#513beb"/>
<use href="#ms" x="287.1" y="271.49" fill="#4749ea"/>
<use href="#md" x="299.9" y="250.81" fill="#6d0fed"/>
<use href="#md" x="299.9" y="255.98" fill="#5f25ec"/>
<use href="#mt" x="299.9" y="261.15" fill="#6816ed"/>
<use href="#mt" x="299.9" y="266.32" fill="#513beb"/>
<use href="#ms" x="299.9" y="271.49" fill="#2f6ce7"/>
<use href="#md" x="312.7" y="255.98" fill="#6d0fed"/>
<use href="#md" x="312.7" y="261.15" fill="#5f25ec"/>
<use href="#mt" x="312.7" y="266.32" fill="#6816ed"/>
<use href="#ms" x="312.7" y="271.49" fill="#188be2"/>
<use href="#md" x="325.5" y="261.15" fill="#6d0fed"/>
<use href="#mt" x="325.5" y="266.32" fill="#6816ed"/>
<use href="#ms" x="325.5" y="271.49" fill="#00a8db"/>
<use href="#md" x="338.3" y="261.15" fill="#6d0fed"/>
<use href="#mt" x="338.3" y="266.32" fill="#6816ed"/>
<use href="#ms" x="338.3" y="271.49" fill="#18c0d3"/>
<use href="#md" x="351.1" y="266.32" fill="#6d0fed"/>
<use href="#ms" x="351.1" y="271.49" fill="#2fd3ca"/>
<use href="#md" x="363.9" y="266.32" fill="#6d0fed"/>
<use href="#ms" x="363.9" y="271.49" fill="#47e2c0"/>
<use href="#mx" x="235.9" y="281.83"/>
<use href="#mx" x="248.7" y="276.66"/>
<use href="#mx" x="248.7" y="281.83"/>
<use href="#mx" x="261.5" y="276.66"/>
<use href="#mx" x="261.5" y="281.83"/>
<use href="#mx" x="274.3" y="276.66"/>
<use href="#mx" x="274.3" y="281.83"/>
<use href="#mx" x="287.1" y="276.66"/>
<use href="#mx" x="287.1" y="281.83"/>
<use href="#mx" x="299.9" y="276.66"/>
<use href="#mx" x="299.9" y="281.83"/>
<use href="#mx" x="312.7" y="276.66"/>
<use href="#mx" x="312.7" y="281.83"/>
<use href="#mx" x="325.5" y="276.66"/>
<use href="#mx" x="325.5" y="281.83"/>
<use href="#mx" x="338.3" y="276.66"/>
<use href="#mx" x="338.3" y="281.83"/>
<use href="#mx" x="351.1" y="276.66"/>
<use href="#mx" x="351.1" y="281.83"/>
<use href="#mx" x="363.9" y="276.66"/>
<use href="#mx" x="363.9" y="281.83"/>
<use href="#mx" x="376.7" y="271.49"/>
<use href="#mx" x="376.7" y="276.66"/>
<use href="#mx" x="376.7" y="281.83"/>
<use href="#mx" x="389.5" y="271.49"/>
<use href="#mx" x="389.5" y="276.66"/>
<use href="#mx" x="389.5" y="281.83"/>
<use href="#mx" x="402.3" y="271.49"/>
<use href="#mx" x="402.3" y="276.66"/>
<use href="#mx" x="402.3" y="281.83"/>
<use href="#mc" x="418.0" y="183.60"/>
<use href="#mc" x="418.0" y="188.77"/>
<use href="#mc" x="418.0" y="193.94"/>
<use href="#mc" x="418.0" y="199.11"/>
<use href="#mc" x="418.0" y="204.28"/>
<use href="#mc" x="418.0" y="209.45"/>
<use href="#mc" x="430.8" y="183.60"/>
<use href="#mc" x="430.8" y="188.77"/>
<use href="#mc" x="430.8" y="193.94"/>
<use href="#mc" x="430.8" y="199.11"/>
<use href="#mc" x="430.8" y="204.28"/>
<use href="#mc" x="430.8" y="209.45"/>
<use href="#mc" x="430.8" y="214.62"/>
<use href="#mc" x="430.8" y="219.79"/>
<use href="#mc" x="430.8" y="224.96"/>
<use href="#mc" x="443.6" y="183.60"/>
<use href="#mc" x="443.6" y="188.77"/>
<use href="#mc" x="443.6" y="193.94"/>
<use href="#mc" x="443.6" y="199.11"/>
<use href="#mc" x="443.6" y="204.28"/>
<use href="#mc" x="443.6" y="209.45"/>
<use href="#mc" x="443.6" y="214.62"/>
<use href="#mc" x="443.6" y="219.79"/>
<use href="#mc" x="443.6" y="224.96"/>
<use href="#mc" x="443.6" y="230.13"/>
<use href="#mc" x="456.4" y="183.60"/>
<use href="#mc" x="456.4" y="188.77"/>
<use href="#mc" x="456.4" y="193.94"/>
<use href="#mc" x="456.4" y="199.11"/>
<use href="#mc" x="456.4" y="204.28"/>
<use href="#mc" x="456.4" y="209.45"/>
<use href="#mc" x="456.4" y="214.62"/>
<use href="#mc" x="456.4" y="219.79"/>
<use href="#mc" x="456.4" y="224.96"/>
<use href="#mc" x="456.4" y="230.13"/>
<use href="#mc" x="456.4" y="235.30"/>
<use href="#mc" x="469.2" y="183.60"/>
<use href="#mc" x="469.2" y="188.77"/>
<use href="#mc" x="469.2" y="193.94"/>
<use href="#mc" x="469.2" y="199.11"/>
<use href="#mc" x="469.2" y="204.28"/>
<use href="#mc" x="469.2" y="209.45"/>
<use href="#mc" x="469.2" y="214.62"/>
<use href="#mc" x="469.2" y="219.79"/>
<use href="#mc" x="469.2" y="224.96"/>
<use href="#mc" x="469.2" y="230.13"/>
<use href="#mc" x="469.2" y="235.30"/>
<use href="#mc" x="469.2" y="240.47"/>
<use href="#mc" x="482.0" y="183.60"/>
<use href="#mc" x="482.0" y="188.77"/>
<use href="#mc" x="482.0" y="193.94"/>
<use href="#mc" x="482.0" y="199.11"/>
<use href="#mc" x="482.0" y="204.28"/>
<use href="#mc" x="482.0" y="209.45"/>
<use href="#mc" x="482.0" y="214.62"/>
<use href="#mc" x="482.0" y="219.79"/>
<use href="#mc" x="482.0" y="224.96"/>
<use href="#mc" x="482.0" y="230.13"/>
<use href="#mc" x="482.0" y="235.30"/>
<use href="#mc" x="482.0" y="240.47"/>
<use href="#mc" x="482.0" y="245.64"/>
<use href="#mc" x="494.8" y="183.60"/>
<use href="#mc" x="494.8" y="188.77"/>
<use href="#mc" x="494.8" y="193.94"/>
<use href="#mc" x="494.8" y="199.11"/>
<use href="#mc" x="494.8" y="204.28"/>
<use href="#mc" x="494.8" y="209.45"/>
<use href="#mc" x="494.8" y="214.62"/>
<use href="#mc" x="494.8" y="219.79"/>
<use href="#mc" x="494.8" y="224.96"/>
<use href="#mc" x="494.8" y="230.13"/>
<use href="#mc" x="494.8" y="235.30"/>
<use href="#mc" x="494.8" y="240.47"/>
<use href="#mc" x="494.8" y="245.64"/>
<use href="#mc" x="494.8" y="250.81"/>
<use href="#mc" x="507.6" y="183.60"/>
<use href="#mc" x="507.6" y="188.77"/>
<use href="#mc" x="507.6" y="193.94"/>
<use href="#mc" x="507.6" y="199.11"/>
<use href="#mc" x="507.6" y="204.28"/>
<use href="#mc" x="507.6" y="209.45"/>
<use href="#mc" x="507.6" y="214.62"/>
<use href="#mc" x="507.6" y="219.79"/>
<use href="#mc" x="507.6" y="224.96"/>
<use href="#mc" x="507.6" y="230.13"/>
<use href="#mc" x="507.6" y="235.30"/>
<use href="#mc" x="507.6" y="240.47"/>
<use href="#mc" x="507.6" y="245.64"/>
<use href="#mc" x="507.6" y="250.81"/>
<use href="#mc" x="507.6" y="255.98"/>
<use href="#mc" x="520.4" y="183.60"/>
<use href="#mc" x="520.4" y="188.77"/>
<use href="#mc" x="520.4" y="193.94"/>
<use href="#mc" x="520.4" y="199.11"/>
<use href="#mc" x="520.4" y="204.28"/>
<use href="#mc" x="520.4" y="209.45"/>
<use href="#mc" x="520.4" y="214.62"/>
<use href="#mc" x="520.4" y="219.79"/>
<use href="#mc" x="520.4" y="224.96"/>
<use href="#mc" x="520.4" y="230.13"/>
<use href="#mc" x="520.4" y="235.30"/>
<use href="#mc" x="520.4" y="240.47"/>
<use href="#mc" x="520.4" y="245.64"/>
<use href="#mc" x="520.4" y="250.81"/>
<use href="#mc" x="520.4" y="255.98"/>
<use href="#mc" x="533.2" y="183.60"/>
<use href="#mc" x="533.2" y="188.77"/>
<use href="#mc" x="533.2" y="193.94"/>
<use href="#mc" x="533.2" y="199.11"/>
<use href="#mc" x="533.2" y="204.28"/>
<use href="#mc" x="533.2" y="209.45"/>
<use href="#mc" x="533.2" y="214.62"/>
<use href="#mc" x="533.2" y="219.79"/>
<use href="#mc" x="533.2" y="224.96"/>
<use href="#mc" x="533.2" y="230.13"/>
<use href="#mc" x="533.2" y="235.30"/>
<use href="#mc" x="533.2" y="240.47"/>
<use href="#mc" x="533.2" y="245.64"/>
<use href="#mc" x="533.2" y="250.81"/>
<use href="#mc" x="533.2" y="255.98"/>
<use href="#mc" x="533.2" y="261.15"/>
<use href="#mc" x="546.0" y="183.60"/>
<use href="#mc" x="546.0" y="188.77"/>
<use href="#mc" x="546.0" y="193.94"/>
<use href="#mc" x="546.0" y="199.11"/>
<use href="#mc" x="546.0" y="204.28"/>
<use href="#mc" x="546.0" y="209.45"/>
<use href="#mc" x="546.0" y="214.62"/>
<use href="#mc" x="546.0" y="219.79"/>
<use href="#mc" x="546.0" y="224.96"/>
<use href="#mc" x="546.0" y="230.13"/>
<use href="#mc" x="546.0" y="235.30"/>
<use href="#mc" x="546.0" y="240.47"/>
<use href="#mc" x="546.0" y="245.64"/>
<use href="#mc" x="546.0" y="250.81"/>
<use href="#mc" x="546.0" y="255.98"/>
<use href="#mc" x="546.0" y="261.15"/>
<use href="#mc" x="558.8" y="183.60"/>
<use href="#mc" x="558.8" y="188.77"/>
<use href="#mc" x="558.8" y="193.94"/>
<use href="#mc" x="558.8" y="199.11"/>
<use href="#mc" x="558.8" y="204.28"/>
<use href="#mc" x="558.8" y="209.45"/>
<use href="#mc" x="558.8" y="214.62"/>
<use href="#mc" x="558.8" y="219.79"/>
<use href="#mc" x="558.8" y="224.96"/>
<use href="#mc" x="558.8" y="230.13"/>
<use href="#mc" x="558.8" y="235.30"/>
<use href="#mc" x="558.8" y="240.47"/>
<use href="#mc" x="558.8" y="245.64"/>
<use href="#mc" x="558.8" y="250.81"/>
<use href="#mc" x="558.8" y="255.98"/>
<use href="#mc" x="558.8" y="261.15"/>
<use href="#mc" x="558.8" y="266.32"/>
<use href="#mc" x="571.6" y="183.60"/>
<use href="#mc" x="571.6" y="188.77"/>
<use href="#mc" x="571.6" y="193.94"/>
<use href="#mc" x="571.6" y="199.11"/>
<use href="#mc" x="571.6" y="204.28"/>
<use href="#mc" x="571.6" y="209.45"/>
<use href="#mc" x="571.6" y="214.62"/>
<use href="#mc" x="571.6" y="219.79"/>
<use href="#mc" x="571.6" y="224.96"/>
<use href="#mc" x="571.6" y="230.13"/>
<use href="#mc" x="571.6" y="235.30"/>
<use href="#mc" x="571.6" y="240.47"/>
<use href="#mc" x="571.6" y="245.64"/>
<use href="#mc" x="571.6" y="250.81"/>
<use href="#mc" x="571.6" y="255.98"/>
<use href="#mc" x="571.6" y="261.15"/>
<use href="#mc" x="571.6" y="266.32"/>
<use href="#mc" x="584.4" y="183.60"/>
<use href="#mc" x="584.4" y="188.77"/>
<use href="#mc" x="584.4" y="193.94"/>
<use href="#mc" x="584.4" y="199.11"/>
<use href="#mc" x="584.4" y="204.28"/>
<use href="#mc" x="584.4" y="209.45"/>
<use href="#mc" x="584.4" y="214.62"/>
<use href="#mc" x="584.4" y="219.79"/>
<use href="#mc" x="584.4" y="224.96"/>
<use href="#mc" x="584.4" y="230.13"/>
<use href="#mc" x="584.4" y="235.30"/>
<use href="#mc" x="584.4" y="240.47"/>
<use href="#mc" x="584.4" y="245.64"/>
<use href="#mc" x="584.4" y="250.81"/>
<use href="#mc" x="584.4" y="255.98"/>
<use href="#mc" x="584.4" y="261.15"/>
<use href="#mc" x="584.4" y="266.32"/>
<use href="#md" x="418.0" y="214.62" fill="#5534ec"/>
<use href="#md" x="418.0" y="219.79" fill="#2f6ce7"/>
<use href="#md" x="418.0" y="224.96" fill="#0e97df"/>
<use href="#md" x="418.0" y="230.13" fill="#188be2"/>
<use href="#md" x="418.0" y="235.30" fill="#188be2"/>
<use href="#md" x="418.0" y="240.47" fill="#217fe4"/>
<use href="#mt" x="418.0" y="245.64" fill="#188be2"/>
<use href="#mt" x="418.0" y="250.81" fill="#09b2d8"/>
<use href="#mt" x="418.0" y="255.98" fill="#21c8d0"/>
<use href="#mt" x="418.0" y="261.15" fill="#2fd3ca"/>
<use href="#mt" x="418.0" y="266.32" fill="#3edcc4"/>
<use href="#mt" x="418.0" y="271.49" fill="#47e2c0"/>
<use href="#ms" x="418.0" y="276.66" fill="#77eda8"/>
<use href="#md" x="430.8" y="230.13" fill="#5534ec"/>
<use href="#md" x="430.8" y="235.30" fill="#2f6ce7"/>
<use href="#md" x="430.8" y="240.47" fill="#188be2"/>
<use href="#md" x="430.8" y="245.64" fill="#188be2"/>
<use href="#mt" x="430.8" y="250.81" fill="#00a8db"/>
<use href="#mt" x="430.8" y="255.98" fill="#21c8d0"/>
<use href="#mt" x="430.8" y="261.15" fill="#2fd3ca"/>
<use href="#mt" x="430.8" y="266.32" fill="#47e2c0"/>
<use href="#mt" x="430.8" y="271.49" fill="#5feab4"/>
<use href="#md" x="443.6" y="235.30" fill="#6816ed"/>
<use href="#md" x="443.6" y="240.47" fill="#4749ea"/>
<use href="#md" x="443.6" y="245.64" fill="#2f6ce7"/>
<use href="#md" x="443.6" y="250.81" fill="#188be2"/>
<use href="#mt" x="443.6" y="255.98" fill="#00a8db"/>
<use href="#mt" x="443.6" y="261.15" fill="#21c8d0"/>
<use href="#mt" x="443.6" y="266.32" fill="#2fd3ca"/>
<use href="#mt" x="443.6" y="271.49" fill="#47e2c0"/>
<use href="#md" x="456.4" y="240.47" fill="#6d0fed"/>
<use href="#md" x="456.4" y="245.64" fill="#5534ec"/>
<use href="#md" x="456.4" y="250.81" fill="#4749ea"/>
<use href="#mt" x="456.4" y="255.98" fill="#2f6ce7"/>
<use href="#mt" x="456.4" y="261.15" fill="#188be2"/>
<use href="#mt" x="456.4" y="266.32" fill="#21c8d0"/>
<use href="#mt" x="456.4" y="271.49" fill="#47e2c0"/>
<use href="#md" x="469.2" y="245.64" fill="#6d0fed"/>
<use href="#md" x="469.2" y="250.81" fill="#5534ec"/>
<use href="#md" x="469.2" y="255.98" fill="#4749ea"/>
<use href="#mt" x="469.2" y="261.15" fill="#2f6ce7"/>
<use href="#mt" x="469.2" y="266.32" fill="#188be2"/>
<use href="#ms" x="469.2" y="271.49" fill="#21c8d0"/>
<use href="#md" x="482.0" y="250.81" fill="#6816ed"/>
<use href="#md" x="482.0" y="255.98" fill="#5534ec"/>
<use href="#mt" x="482.0" y="261.15" fill="#2f6ce7"/>
<use href="#mt" x="482.0" y="266.32" fill="#188be2"/>
<use href="#ms" x="482.0" y="271.49" fill="#21c8d0"/>
<use href="#md" x="494.8" y="255.98" fill="#6d0fed"/>
<use href="#md" x="494.8" y="261.15" fill="#5f25ec"/>
<use href="#mt" x="494.8" y="266.32" fill="#2f6ce7"/>
<use href="#ms" x="494.8" y="271.49" fill="#21c8d0"/>
<use href="#md" x="507.6" y="261.15" fill="#5534ec"/>
<use href="#mt" x="507.6" y="266.32" fill="#2f6ce7"/>
<use href="#ms" x="507.6" y="271.49" fill="#21c8d0"/>
<use href="#md" x="520.4" y="261.15" fill="#641eed"/>
<use href="#mt" x="520.4" y="266.32" fill="#4749ea"/>
<use href="#ms" x="520.4" y="271.49" fill="#3edcc4"/>
<use href="#md" x="533.2" y="266.32" fill="#6d0fed"/>
<use href="#ms" x="533.2" y="271.49" fill="#5feab4"/>
<use href="#md" x="546.0" y="266.32" fill="#6d0fed"/>
<use href="#ms" x="546.0" y="271.49" fill="#51e6bb"/>
<use href="#mx" x="418.0" y="281.83"/>
<use href="#mx" x="430.8" y="276.66"/>
<use href="#mx" x="430.8" y="281.83"/>
<use href="#mx" x="443.6" y="276.66"/>
<use href="#mx" x="443.6" y="281.83"/>
<use href="#mx" x="456.4" y="276.66"/>
<use href="#mx" x="456.4" y="281.83"/>
<use href="#mx" x="469.2" y="276.66"/>
<use href="#mx" x="469.2" y="281.83"/>
<use href="#mx" x="482.0" y="276.66"/>
<use href="#mx" x="482.0" y="281.83"/>
<use href="#mx" x="494.8" y="276.66"/>
<use href="#mx" x="494.8" y="281.83"/>
<use href="#mx" x="507.6" y="276.66"/>
<use href="#mx" x="507.6" y="281.83"/>
<use href="#mx" x="520.4" y="276.66"/>
<use href="#mx" x="520.4" y="281.83"/>
<use href="#mx" x="533.2" y="276.66"/>
<use href="#mx" x="533.2" y="281.83"/>
<use href="#mx" x="546.0" y="276.66"/>
<use href="#mx" x="546.0" y="281.83"/>
<use href="#mx" x="558.8" y="271.49"/>
<use href="#mx" x="558.8" y="276.66"/>
<use href="#mx" x="558.8" y="281.83"/>
<use href="#mx" x="571.6" y="271.49"/>
<use href="#mx" x="571.6" y="276.66"/>
<use href="#mx" x="571.6" y="281.83"/>
<use href="#mx" x="584.4" y="271.49"/>
<use href="#mx" x="584.4" y="276.66"/>
<use href="#mx" x="584.4" y="281.83"/>
<use href="#mc" x="54.1" y="290.00"/>
<use href="#mc" x="54.1" y="295.17"/>
<use href="#mc" x="54.1" y="300.34"/>
<use href="#mc" x="54.1" y="305.51"/>
<use href="#mc" x="54.1" y="310.68"/>
<use href="#mc" x="54.1" y="315.85"/>
<use href="#mc" x="66.9" y="290.00"/>
<use href="#mc" x="66.9" y="295.17"/>
<use href="#mc" x="66.9" y="300.34"/>
<use href="#mc" x="66.9" y="305.51"/>
<use href="#mc" x="66.9" y="310.68"/>
<use href="#mc" x="66.9" y="315.85"/>
<use href="#mc" x="66.9" y="321.02"/>
<use href="#mc" x="66.9" y="326.19"/>
<use href="#mc" x="79.7" y="290.00"/>
<use href="#mc" x="79.7" y="295.17"/>
<use href="#mc" x="79.7" y="300.34"/>
<use href="#mc" x="79.7" y="305.51"/>
<use href="#mc" x="79.7" y="310.68"/>
<use href="#mc" x="79.7" y="315.85"/>
<use href="#mc" x="79.7" y="321.02"/>
<use href="#mc" x="79.7" y="326.19"/>
<use href="#mc" x="79.7" y="331.36"/>
<use href="#mc" x="79.7" y="336.53"/>
<use href="#mc" x="92.5" y="290.00"/>
<use href="#mc" x="92.5" y="295.17"/>
<use href="#mc" x="92.5" y="300.34"/>
<use href="#mc" x="92.5" y="305.51"/>
<use href="#mc" x="92.5" y="310.68"/>
<use href="#mc" x="92.5" y="315.85"/>
<use href="#mc" x="92.5" y="321.02"/>
<use href="#mc" x="92.5" y="326.19"/>
<use href="#mc" x="92.5" y="331.36"/>
<use href="#mc" x="92.5" y="336.53"/>
<use href="#mc" x="92.5" y="341.70"/>
<use href="#mc" x="105.3" y="290.00"/>
<use href="#mc" x="105.3" y="295.17"/>
<use href="#mc" x="105.3" y="300.34"/>
<use href="#mc" x="105.3" y="305.51"/>
<use href="#mc" x="105.3" y="310.68"/>
<use href="#mc" x="105.3" y="315.85"/>
<use href="#mc" x="105.3" y="321.02"/>
<use href="#mc" x="105.3" y="326.19"/>
<use href="#mc" x="105.3" y="331.36"/>
<use href="#mc" x="105.3" y="336.53"/>
<use href="#mc" x="105.3" y="341.70"/>
<use href="#mc" x="105.3" y="346.87"/>
<use href="#mc" x="118.1" y="290.00"/>
<use href="#mc" x="118.1" y="295.17"/>
<use href="#mc" x="118.1" y="300.34"/>
<use href="#mc" x="118.1" y="305.51"/>
<use href="#mc" x="118.1" y="310.68"/>
<use href="#mc" x="118.1" y="315.85"/>
<use href="#mc" x="118.1" y="321.02"/>
<use href="#mc" x="118.1" y="326.19"/>
<use href="#mc" x="118.1" y="331.36"/>
<use href="#mc" x="118.1" y="336.53"/>
<use href="#mc" x="118.1" y="341.70"/>
<use href="#mc" x="118.1" y="346.87"/>
<use href="#mc" x="118.1" y="352.04"/>
<use href="#mc" x="130.9" y="290.00"/>
<use href="#mc" x="130.9" y="295.17"/>
<use href="#mc" x="130.9" y="300.34"/>
<use href="#mc" x="130.9" y="305.51"/>
<use href="#mc" x="130.9" y="310.68"/>
<use href="#mc" x="130.9" y="315.85"/>
<use href="#mc" x="130.9" y="321.02"/>
<use href="#mc" x="130.9" y="326.19"/>
<use href="#mc" x="130.9" y="331.36"/>
<use href="#mc" x="130.9" y="336.53"/>
<use href="#mc" x="130.9" y="341.70"/>
<use href="#mc" x="130.9" y="346.87"/>
<use href="#mc" x="130.9" y="352.04"/>
<use href="#mc" x="130.9" y="357.21"/>
<use href="#mc" x="143.7" y="290.00"/>
<use href="#mc" x="143.7" y="295.17"/>
<use href="#mc" x="143.7" y="300.34"/>
<use href="#mc" x="143.7" y="305.51"/>
<use href="#mc" x="143.7" y="310.68"/>
<use href="#mc" x="143.7" y="315.85"/>
<use href="#mc" x="143.7" y="321.02"/>
<use href="#mc" x="143.7" y="326.19"/>
<use href="#mc" x="143.7" y="331.36"/>
<use href="#mc" x="143.7" y="336.53"/>
<use href="#mc" x="143.7" y="341.70"/>
<use href="#mc" x="143.7" y="346.87"/>
<use href="#mc" x="143.7" y="352.04"/>
<use href="#mc" x="143.7" y="357.21"/>
<use href="#mc" x="156.5" y="290.00"/>
<use href="#mc" x="156.5" y="295.17"/>
<use href="#mc" x="156.5" y="300.34"/>
<use href="#mc" x="156.5" y="305.51"/>
<use href="#mc" x="156.5" y="310.68"/>
<use href="#mc" x="156.5" y="315.85"/>
<use href="#mc" x="156.5" y="321.02"/>
<use href="#mc" x="156.5" y="326.19"/>
<use href="#mc" x="156.5" y="331.36"/>
<use href="#mc" x="156.5" y="336.53"/>
<use href="#mc" x="156.5" y="341.70"/>
<use href="#mc" x="156.5" y="346.87"/>
<use href="#mc" x="156.5" y="352.04"/>
<use href="#mc" x="156.5" y="357.21"/>
<use href="#mc" x="156.5" y="362.38"/>
<use href="#mc" x="169.3" y="290.00"/>
<use href="#mc" x="169.3" y="295.17"/>
<use href="#mc" x="169.3" y="300.34"/>
<use href="#mc" x="169.3" y="305.51"/>
<use href="#mc" x="169.3" y="310.68"/>
<use href="#mc" x="169.3" y="315.85"/>
<use href="#mc" x="169.3" y="321.02"/>
<use href="#mc" x="169.3" y="326.19"/>
<use href="#mc" x="169.3" y="331.36"/>
<use href="#mc" x="169.3" y="336.53"/>
<use href="#mc" x="169.3" y="341.70"/>
<use href="#mc" x="169.3" y="346.87"/>
<use href="#mc" x="169.3" y="352.04"/>
<use href="#mc" x="169.3" y="357.21"/>
<use href="#mc" x="169.3" y="362.38"/>
<use href="#mc" x="182.1" y="290.00"/>
<use href="#mc" x="182.1" y="295.17"/>
<use href="#mc" x="182.1" y="300.34"/>
<use href="#mc" x="182.1" y="305.51"/>
<use href="#mc" x="182.1" y="310.68"/>
<use href="#mc" x="182.1" y="315.85"/>
<use href="#mc" x="182.1" y="321.02"/>
<use href="#mc" x="182.1" y="326.19"/>
<use href="#mc" x="182.1" y="331.36"/>
<use href="#mc" x="182.1" y="336.53"/>
<use href="#mc" x="182.1" y="341.70"/>
<use href="#mc" x="182.1" y="346.87"/>
<use href="#mc" x="182.1" y="352.04"/>
<use href="#mc" x="182.1" y="357.21"/>
<use href="#mc" x="182.1" y="362.38"/>
<use href="#mc" x="182.1" y="367.55"/>
<use href="#mc" x="194.9" y="290.00"/>
<use href="#mc" x="194.9" y="295.17"/>
<use href="#mc" x="194.9" y="300.34"/>
<use href="#mc" x="194.9" y="305.51"/>
<use href="#mc" x="194.9" y="310.68"/>
<use href="#mc" x="194.9" y="315.85"/>
<use href="#mc" x="194.9" y="321.02"/>
<use href="#mc" x="194.9" y="326.19"/>
<use href="#mc" x="194.9" y="331.36"/>
<use href="#mc" x="194.9" y="336.53"/>
<use href="#mc" x="194.9" y="341.70"/>
<use href="#mc" x="194.9" y="346.87"/>
<use href="#mc" x="194.9" y="352.04"/>
<use href="#mc" x="194.9" y="357.21"/>
<use href="#mc" x="194.9" y="362.38"/>
<use href="#mc" x="194.9" y="367.55"/>
<use href="#mc" x="207.7" y="290.00"/>
<use href="#mc" x="207.7" y="295.17"/>
<use href="#mc" x="207.7" y="300.34"/>
<use href="#mc" x="207.7" y="305.51"/>
<use href="#mc" x="207.7" y="310.68"/>
<use href="#mc" x="207.7" y="315.85"/>
<use href="#mc" x="207.7" y="321.02"/>
<use href="#mc" x="207.7" y="326.19"/>
<use href="#mc" x="207.7" y="331.36"/>
<use href="#mc" x="207.7" y="336.53"/>
<use href="#mc" x="207.7" y="341.70"/>
<use href="#mc" x="207.7" y="346.87"/>
<use href="#mc" x="207.7" y="352.04"/>
<use href="#mc" x="207.7" y="357.21"/>
<use href="#mc" x="207.7" y="362.38"/>
<use href="#mc" x="207.7" y="367.55"/>
<use href="#mc" x="207.7" y="372.72"/>
<use href="#mc" x="220.5" y="290.00"/>
<use href="#mc" x="220.5" y="295.17"/>
<use href="#mc" x="220.5" y="300.34"/>
<use href="#mc" x="220.5" y="305.51"/>
<use href="#mc" x="220.5" y="310.68"/>
<use href="#mc" x="220.5" y="315.85"/>
<use href="#mc" x="220.5" y="321.02"/>
<use href="#mc" x="220.5" y="326.19"/>
<use href="#mc" x="220.5" y="331.36"/>
<use href="#mc" x="220.5" y="336.53"/>
<use href="#mc" x="220.5" y="341.70"/>
<use href="#mc" x="220.5" y="346.87"/>
<use href="#mc" x="220.5" y="352.04"/>
<use href="#mc" x="220.5" y="357.21"/>
<use href="#mc" x="220.5" y="362.38"/>
<use href="#mc" x="220.5" y="367.55"/>
<use href="#mc" x="220.5" y="372.72"/>
<use href="#md" x="54.1" y="321.02" fill="#7207ed"/>
<use href="#md" x="54.1" y="326.19" fill="#7207ed"/>
<use href="#md" x="54.1" y="331.36" fill="#7207ed"/>
<use href="#md" x="54.1" y="336.53" fill="#7207ed"/>
<use href="#md" x="54.1" y="341.70" fill="#7207ed"/>
<use href="#md" x="54.1" y="346.87" fill="#7207ed"/>
<use href="#mt" x="54.1" y="352.04" fill="#7207ed"/>
<use href="#mt" x="54.1" y="357.21" fill="#7207ed"/>
<use href="#mt" x="54.1" y="362.38" fill="#7207ed"/>
<use href="#mt" x="54.1" y="367.55" fill="#7207ed"/>
<use href="#mt" x="54.1" y="372.72" fill="#7207ed"/>
<use href="#mt" x="54.1" y="377.89" fill="#7207ed"/>
<use href="#ms" x="54.1" y="383.06" fill="#2679e5"/>
<use href="#md" x="66.9" y="331.36" fill="#7207ed"/>
<use href="#md" x="66.9" y="336.53" fill="#7207ed"/>
<use href="#md" x="66.9" y="341.70" fill="#7207ed"/>
<use href="#md" x="66.9" y="346.87" fill="#7207ed"/>
<use href="#md" x="66.9" y="352.04" fill="#7207ed"/>
<use href="#mt" x="66.9" y="357.21" fill="#7207ed"/>
<use href="#mt" x="66.9" y="362.38" fill="#7207ed"/>
<use href="#mt" x="66.9" y="367.55" fill="#7207ed"/>
<use href="#mt" x="66.9" y="372.72" fill="#7207ed"/>
<use href="#mt" x="66.9" y="377.89" fill="#7207ed"/>
<use href="#md" x="79.7" y="341.70" fill="#7207ed"/>
<use href="#md" x="79.7" y="346.87" fill="#7207ed"/>
<use href="#md" x="79.7" y="352.04" fill="#7207ed"/>
<use href="#md" x="79.7" y="357.21" fill="#7207ed"/>
<use href="#mt" x="79.7" y="362.38" fill="#7207ed"/>
<use href="#mt" x="79.7" y="367.55" fill="#7207ed"/>
<use href="#mt" x="79.7" y="372.72" fill="#7207ed"/>
<use href="#mt" x="79.7" y="377.89" fill="#7207ed"/>
<use href="#md" x="92.5" y="346.87" fill="#7207ed"/>
<use href="#md" x="92.5" y="352.04" fill="#7207ed"/>
<use href="#md" x="92.5" y="357.21" fill="#7207ed"/>
<use href="#mt" x="92.5" y="362.38" fill="#7207ed"/>
<use href="#mt" x="92.5" y="367.55" fill="#7207ed"/>
<use href="#mt" x="92.5" y="372.72" fill="#7207ed"/>
<use href="#ms" x="92.5" y="377.89" fill="#4749ea"/>
<use href="#md" x="105.3" y="352.04" fill="#7207ed"/>
<use href="#md" x="105.3" y="357.21" fill="#7207ed"/>
<use href="#md" x="105.3" y="362.38" fill="#7207ed"/>
<use href="#mt" x="105.3" y="367.55" fill="#7207ed"/>
<use href="#mt" x="105.3" y="372.72" fill="#7207ed"/>
<use href="#ms" x="105.3" y="377.89" fill="#4749ea"/>
<use href="#md" x="118.1" y="357.21" fill="#7207ed"/>
<use href="#md" x="118.1" y="362.38" fill="#7207ed"/>
<use href="#mt" x="118.1" y="367.55" fill="#7207ed"/>
<use href="#mt" x="118.1" y="372.72" fill="#7207ed"/>
<use href="#ms" x="118.1" y="377.89" fill="#4749ea"/>
<use href="#md" x="130.9" y="362.38" fill="#7207ed"/>
<use href="#md" x="130.9" y="367.55" fill="#7207ed"/>
<use href="#mt" x="130.9" y="372.72" fill="#7207ed"/>
<use href="#ms" x="130.9" y="377.89" fill="#4749ea"/>
<use href="#md" x="143.7" y="362.38" fill="#7207ed"/>
<use href="#md" x="143.7" y="367.55" fill="#7207ed"/>
<use href="#mt" x="143.7" y="372.72" fill="#7207ed"/>
<use href="#ms" x="143.7" y="377.89" fill="#4749ea"/>
<use href="#md" x="156.5" y="367.55" fill="#7207ed"/>
<use href="#mt" x="156.5" y="372.72" fill="#7207ed"/>
<use href="#ms" x="156.5" y="377.89" fill="#4749ea"/>
<use href="#md" x="169.3" y="367.55" fill="#7207ed"/>
<use href="#md" x="169.3" y="372.72" fill="#7207ed"/>
<use href="#md" x="182.1" y="372.72" fill="#7207ed"/>
<use href="#md" x="194.9" y="372.72" fill="#7207ed"/>
<use href="#mx" x="54.1" y="388.23"/>
<use href="#mx" x="66.9" y="383.06"/>
<use href="#mx" x="66.9" y="388.23"/>
<use href="#mx" x="79.7" y="383.06"/>
<use href="#mx" x="79.7" y="388.23"/>
<use href="#mx" x="92.5" y="383.06"/>
<use href="#mx" x="92.5" y="388.23"/>
<use href="#mx" x="105.3" y="383.06"/>
<use href="#mx" x="105.3" y="388.23"/>
<use href="#mx" x="118.1" y="383.06"/>
<use href="#mx" x="118.1" y="388.23"/>
<use href="#mx" x="130.9" y="383.06"/>
<use href="#mx" x="130.9" y="388.23"/>
<use href="#mx" x="143.7" y="383.06"/>
<use href="#mx" x="143.7" y="388.23"/>
<use href="#mx" x="156.5" y="383.06"/>
<use href="#mx" x="156.5" y="388.23"/>
<use href="#mx" x="169.3" y="377.89"/>
<use href="#mx" x="169.3" y="383.06"/>
<use href="#mx" x="169.3" y="388.23"/>
<use href="#mx" x="182.1" y="377.89"/>
<use href="#mx" x="182.1" y="383.06"/>
<use href="#mx" x="182.1" y="388.23"/>
<use href="#mx" x="194.9" y="377.89"/>
<use href="#mx" x="194.9" y="383.06"/>
<use href="#mx" x="194.9" y="388.23"/>
<use href="#mx" x="207.7" y="377.89"/>
<use href="#mx" x="207.7" y="383.06"/>
<use href="#mx" x="207.7" y="388.23"/>
<use href="#mx" x="220.5" y="377.89"/>
<use href="#mx" x="220.5" y="383.06"/>
<use href="#mx" x="220.5" y="388.23"/>
<use href="#mc" x="235.9" y="290.00"/>
<use href="#mc" x="235.9" y="295.17"/>
<use href="#mc" x="235.9" y="300.34"/>
<use href="#mc" x="235.9" y="305.51"/>
<use href="#mc" x="235.9" y="310.68"/>
<use href="#mc" x="248.7" y="290.00"/>
<use href="#mc" x="248.7" y="295.17"/>
<use href="#mc" x="248.7" y="300.34"/>
<use href="#mc" x="248.7" y="305.51"/>
<use href="#mc" x="248.7" y="310.68"/>
<use href="#mc" x="248.7" y="315.85"/>
<use href="#mc" x="248.7" y="321.02"/>
<use href="#mc" x="248.7" y="326.19"/>
<use href="#mc" x="261.5" y="290.00"/>
<use href="#mc" x="261.5" y="295.17"/>
<use href="#mc" x="261.5" y="300.34"/>
<use href="#mc" x="261.5" y="305.51"/>
<use href="#mc" x="261.5" y="310.68"/>
<use href="#mc" x="261.5" y="315.85"/>
<use href="#mc" x="261.5" y="321.02"/>
<use href="#mc" x="261.5" y="326.19"/>
<use href="#mc" x="261.5" y="331.36"/>
<use href="#mc" x="261.5" y="336.53"/>
<use href="#mc" x="274.3" y="290.00"/>
<use href="#mc" x="274.3" y="295.17"/>
<use href="#mc" x="274.3" y="300.34"/>
<use href="#mc" x="274.3" y="305.51"/>
<use href="#mc" x="274.3" y="310.68"/>
<use href="#mc" x="274.3" y="315.85"/>
<use href="#mc" x="274.3" y="321.02"/>
<use href="#mc" x="274.3" y="326.19"/>
<use href="#mc" x="274.3" y="331.36"/>
<use href="#mc" x="274.3" y="336.53"/>
<use href="#mc" x="274.3" y="341.70"/>
<use href="#mc" x="287.1" y="290.00"/>
<use href="#mc" x="287.1" y="295.17"/>
<use href="#mc" x="287.1" y="300.34"/>
<use href="#mc" x="287.1" y="305.51"/>
<use href="#mc" x="287.1" y="310.68"/>
<use href="#mc" x="287.1" y="315.85"/>
<use href="#mc" x="287.1" y="321.02"/>
<use href="#mc" x="287.1" y="326.19"/>
<use href="#mc" x="287.1" y="331.36"/>
<use href="#mc" x="287.1" y="336.53"/>
<use href="#mc" x="287.1" y="341.70"/>
<use href="#mc" x="287.1" y="346.87"/>
<use href="#mc" x="299.9" y="290.00"/>
<use href="#mc" x="299.9" y="295.17"/>
<use href="#mc" x="299.9" y="300.34"/>
<use href="#mc" x="299.9" y="305.51"/>
<use href="#mc" x="299.9" y="310.68"/>
<use href="#mc" x="299.9" y="315.85"/>
<use href="#mc" x="299.9" y="321.02"/>
<use href="#mc" x="299.9" y="326.19"/>
<use href="#mc" x="299.9" y="331.36"/>
<use href="#mc" x="299.9" y="336.53"/>
<use href="#mc" x="299.9" y="341.70"/>
<use href="#mc" x="299.9" y="346.87"/>
<use href="#mc" x="299.9" y="352.04"/>
<use href="#mc" x="312.7" y="290.00"/>
<use href="#mc" x="312.7" y="295.17"/>
<use href="#mc" x="312.7" y="300.34"/>
<use href="#mc" x="312.7" y="305.51"/>
<use href="#mc" x="312.7" y="310.68"/>
<use href="#mc" x="312.7" y="315.85"/>
<use href="#mc" x="312.7" y="321.02"/>
<use href="#mc" x="312.7" y="326.19"/>
<use href="#mc" x="312.7" y="331.36"/>
<use href="#mc" x="312.7" y="336.53"/>
<use href="#mc" x="312.7" y="341.70"/>
<use href="#mc" x="312.7" y="346.87"/>
<use href="#mc" x="312.7" y="352.04"/>
<use href="#mc" x="312.7" y="357.21"/>
<use href="#mc" x="325.5" y="290.00"/>
<use href="#mc" x="325.5" y="295.17"/>
<use href="#mc" x="325.5" y="300.34"/>
<use href="#mc" x="325.5" y="305.51"/>
<use href="#mc" x="325.5" y="310.68"/>
<use href="#mc" x="325.5" y="315.85"/>
<use href="#mc" x="325.5" y="321.02"/>
<use href="#mc" x="325.5" y="326.19"/>
<use href="#mc" x="325.5" y="331.36"/>
<use href="#mc" x="325.5" y="336.53"/>
<use href="#mc" x="325.5" y="341.70"/>
<use href="#mc" x="325.5" y="346.87"/>
<use href="#mc" x="325.5" y="352.04"/>
<use href="#mc" x="325.5" y="357.21"/>
<use href="#mc" x="338.3" y="290.00"/>
<use href="#mc" x="338.3" y="295.17"/>
<use href="#mc" x="338.3" y="300.34"/>
<use href="#mc" x="338.3" y="305.51"/>
<use href="#mc" x="338.3" y="310.68"/>
<use href="#mc" x="338.3" y="315.85"/>
<use href="#mc" x="338.3" y="321.02"/>
<use href="#mc" x="338.3" y="326.19"/>
<use href="#mc" x="338.3" y="331.36"/>
<use href="#mc" x="338.3" y="336.53"/>
<use href="#mc" x="338.3" y="341.70"/>
<use href="#mc" x="338.3" y="346.87"/>
<use href="#mc" x="338.3" y="352.04"/>
<use href="#mc" x="338.3" y="357.21"/>
<use href="#mc" x="338.3" y="362.38"/>
<use href="#mc" x="351.1" y="290.00"/>
<use href="#mc" x="351.1" y="295.17"/>
<use href="#mc" x="351.1" y="300.34"/>
<use href="#mc" x="351.1" y="305.51"/>
<use href="#mc" x="351.1" y="310.68"/>
<use href="#mc" x="351.1" y="315.85"/>
<use href="#mc" x="351.1" y="321.02"/>
<use href="#mc" x="351.1" y="326.19"/>
<use href="#mc" x="351.1" y="331.36"/>
<use href="#mc" x="351.1" y="336.53"/>
<use href="#mc" x="351.1" y="341.70"/>
<use href="#mc" x="351.1" y="346.87"/>
<use href="#mc" x="351.1" y="352.04"/>
<use href="#mc" x="351.1" y="357.21"/>
<use href="#mc" x="351.1" y="362.38"/>
<use href="#mc" x="363.9" y="290.00"/>
<use href="#mc" x="363.9" y="295.17"/>
<use href="#mc" x="363.9" y="300.34"/>
<use href="#mc" x="363.9" y="305.51"/>
<use href="#mc" x="363.9" y="310.68"/>
<use href="#mc" x="363.9" y="315.85"/>
<use href="#mc" x="363.9" y="321.02"/>
<use href="#mc" x="363.9" y="326.19"/>
<use href="#mc" x="363.9" y="331.36"/>
<use href="#mc" x="363.9" y="336.53"/>
<use href="#mc" x="363.9" y="341.70"/>
<use href="#mc" x="363.9" y="346.87"/>
<use href="#mc" x="363.9" y="352.04"/>
<use href="#mc" x="363.9" y="357.21"/>
<use href="#mc" x="363.9" y="362.38"/>
<use href="#mc" x="363.9" y="367.55"/>
<use href="#mc" x="376.7" y="290.00"/>
<use href="#mc" x="376.7" y="295.17"/>
<use href="#mc" x="376.7" y="300.34"/>
<use href="#mc" x="376.7" y="305.51"/>
<use href="#mc" x="376.7" y="310.68"/>
<use href="#mc" x="376.7" y="315.85"/>
<use href="#mc" x="376.7" y="321.02"/>
<use href="#mc" x="376.7" y="326.19"/>
<use href="#mc" x="376.7" y="331.36"/>
<use href="#mc" x="376.7" y="336.53"/>
<use href="#mc" x="376.7" y="341.70"/>
<use href="#mc" x="376.7" y="346.87"/>
<use href="#mc" x="376.7" y="352.04"/>
<use href="#mc" x="376.7" y="357.21"/>
<use href="#mc" x="376.7" y="362.38"/>
<use href="#mc" x="376.7" y="367.55"/>
<use href="#mc" x="389.5" y="290.00"/>
<use href="#mc" x="389.5" y="295.17"/>
<use href="#mc" x="389.5" y="300.34"/>
<use href="#mc" x="389.5" y="305.51"/>
<use href="#mc" x="389.5" y="310.68"/>
<use href="#mc" x="389.5" y="315.85"/>
<use href="#mc" x="389.5" y="321.02"/>
<use href="#mc" x="389.5" y="326.19"/>
<use href="#mc" x="389.5" y="331.36"/>
<use href="#mc" x="389.5" y="336.53"/>
<use href="#mc" x="389.5" y="341.70"/>
<use href="#mc" x="389.5" y="346.87"/>
<use href="#mc" x="389.5" y="352.04"/>
<use href="#mc" x="389.5" y="357.21"/>
<use href="#mc" x="389.5" y="362.38"/>
<use href="#mc" x="389.5" y="367.55"/>
<use href="#mc" x="389.5" y="372.72"/>
<use href="#mc" x="402.3" y="290.00"/>
<use href="#mc" x="402.3" y="295.17"/>
<use href="#mc" x="402.3" y="300.34"/>
<use href="#mc" x="402.3" y="305.51"/>
<use href="#mc" x="402.3" y="310.68"/>
<use href="#mc" x="402.3" y="315.85"/>
<use href="#mc" x="402.3" y="321.02"/>
<use href="#mc" x="402.3" y="326.19"/>
<use href="#mc" x="402.3" y="331.36"/>
<use href="#mc" x="402.3" y="336.53"/>
<use href="#mc" x="402.3" y="341.70"/>
<use href="#mc" x="402.3" y="346.87"/>
<use href="#mc" x="402.3" y="352.04"/>
<use href="#mc" x="402.3" y="357.21"/>
<use href="#mc" x="402.3" y="362.38"/>
<use href="#mc" x="402.3" y="367.55"/>
<use href="#mc" x="402.3" y="372.72"/>
<use href="#md" x="235.9" y="315.85" fill="#6d0fed"/>
<use href="#md" x="235.9" y="321.02" fill="#6816ed"/>
<use href="#md" x="235.9" y="326.19" fill="#641eed"/>
<use href="#md" x="235.9" y="331.36" fill="#5f25ec"/>
<use href="#md" x="235.9" y="336.53" fill="#5a2cec"/>
<use href="#md" x="235.9" y="341.70" fill="#5534ec"/>
<use href="#md" x="235.9" y="346.87" fill="#513beb"/>
<use href="#mt" x="235.9" y="352.04" fill="#5534ec"/>
<use href="#mt" x="235.9" y="357.21" fill="#4946ea"/>
<use href="#mt" x="235.9" y="362.38" fill="#3d59e9"/>
<use href="#mt" x="235.9" y="367.55" fill="#306ae7"/>
<use href="#mt" x="235.9" y="372.72" fill="#247be4"/>
<use href="#mt" x="235.9" y="377.89" fill="#188be2"/>
<use href="#ms" x="235.9" y="383.06" fill="#39dac6"/>
<use href="#md" x="248.7" y="331.36" fill="#6d0fed"/>
<use href="#md" x="248.7" y="336.53" fill="#661aed"/>
<use href="#md" x="248.7" y="341.70" fill="#5f25ec"/>
<use href="#md" x="248.7" y="346.87" fill="#5830ec"/>
<use href="#md" x="248.7" y="352.04" fill="#513beb"/>
<use href="#mt" x="248.7" y="357.21" fill="#5534ec"/>
<use href="#mt" x="248.7" y="362.38" fill="#464bea"/>
<use href="#mt" x="248.7" y="367.55" fill="#3762e8"/>
<use href="#mt" x="248.7" y="372.72" fill="#2777e5"/>
<use href="#mt" x="248.7" y="377.89" fill="#188be2"/>
<use href="#md" x="261.5" y="341.70" fill="#6d0fed"/>
<use href="#md" x="261.5" y="346.87" fill="#6816ed"/>
<use href="#md" x="261.5" y="352.04" fill="#641eed"/>
<use href="#md" x="261.5" y="357.21" fill="#5f25ec"/>
<use href="#mt" x="261.5" y="362.38" fill="#6816ed"/>
<use href="#mt" x="261.5" y="367.55" fill="#6023ed"/>
<use href="#mt" x="261.5" y="372.72" fill="#592fec"/>
<use href="#mt" x="261.5" y="377.89" fill="#513beb"/>
<use href="#md" x="274.3" y="346.87" fill="#6d0fed"/>
<use href="#md" x="274.3" y="352.04" fill="#661aed"/>
<use href="#md" x="274.3" y="357.21" fill="#5f25ec"/>
<use href="#mt" x="274.3" y="362.38" fill="#6816ed"/>
<use href="#mt" x="274.3" y="367.55" fill="#5c29ec"/>
<use href="#mt" x="274.3" y="372.72" fill="#513beb"/>
<use href="#ms" x="274.3" y="377.89" fill="#3e57e9"/>
<use href="#md" x="287.1" y="352.04" fill="#6d0fed"/>
<use href="#md" x="287.1" y="357.21" fill="#661aed"/>
<use href="#md" x="287.1" y="362.38" fill="#5f25ec"/>
<use href="#mt" x="287.1" y="367.55" fill="#6816ed"/>
<use href="#mt" x="287.1" y="372.72" fill="#513beb"/>
<use href="#ms" x="287.1" y="377.89" fill="#395ee8"/>
<use href="#md" x="299.9" y="357.21" fill="#6d0fed"/>
<use href="#md" x="299.9" y="362.38" fill="#5f25ec"/>
<use href="#mt" x="299.9" y="367.55" fill="#6816ed"/>
<use href="#mt" x="299.9" y="372.72" fill="#513beb"/>
<use href="#ms" x="299.9" y="377.89" fill="#3465e7"/>
<use href="#md" x="312.7" y="362.38" fill="#6d0fed"/>
<use href="#md" x="312.7" y="367.55" fill="#5f25ec"/>
<use href="#mt" x="312.7" y="372.72" fill="#6816ed"/>
<use href="#ms" x="312.7" y="377.89" fill="#2f6ce7"/>
<use href="#md" x="325.5" y="362.38" fill="#6d0fed"/>
<use href="#md" x="325.5" y="367.55" fill="#5f25ec"/>
<use href="#mt" x="325.5" y="372.72" fill="#6816ed"/>
<use href="#ms" x="325.5" y="377.89" fill="#2b72e6"/>
<use href="#md" x="338.3" y="367.55" fill="#6d0fed"/>
<use href="#mt" x="338.3" y="372.72" fill="#6816ed"/>
<use href="#ms" x="338.3" y="377.89" fill="#2679e5"/>
<use href="#md" x="351.1" y="367.55" fill="#6d0fed"/>
<use href="#md" x="351.1" y="372.72" fill="#5f25ec"/>
<use href="#md" x="363.9" y="372.72" fill="#6d0fed"/>
<use href="#md" x="376.7" y="372.72" fill="#6d0fed"/>
<use href="#mx" x="235.9" y="388.23"/>
<use href="#mx" x="248.7" y="383.06"/>
<use href="#mx" x="248.7" y="388.23"/>
<use href="#mx" x="261.5" y="383.06"/>
<use href="#mx" x="261.5" y="388.23"/>
<use href="#mx" x="274.3" y="383.06"/>
<use href="#mx" x="274.3" y="388.23"/>
<use href="#mx" x="287.1" y="383.06"/>
<use href="#mx" x="287.1" y="388.23"/>
<use href="#mx" x="299.9" y="383.06"/>
<use href="#mx" x="299.9" y="388.23"/>
<use href="#mx" x="312.7" y="383.06"/>
<use href="#mx" x="312.7" y="388.23"/>
<use href="#mx" x="325.5" y="383.06"/>
<use href="#mx" x="325.5" y="388.23"/>
<use href="#mx" x="338.3" y="383.06"/>
<use href="#mx" x="338.3" y="388.23"/>
<use href="#mx" x="351.1" y="377.89"/>
<use href="#mx" x="351.1" y="383.06"/>
<use href="#mx" x="351.1" y="388.23"/>
<use href="#mx" x="363.9" y="377.89"/>
<use href="#mx" x="363.9" y="383.06"/>
<use href="#mx" x="363.9" y="388.23"/>
<use href="#mx" x="376.7" y="377.89"/>
<use href="#mx" x="376.7" y="383.06"/>
<use href="#mx" x="376.7" y="388.23"/>
<use href="#mx" x="389.5" y="377.89"/>
<use href="#mx" x="389.5" y="383.06"/>
<use href="#mx" x="389.5" y="388.23"/>
<use href="#mx" x="402.3" y="377.89"/>
<use href="#mx" x="402.3" y="383.06"/>
<use href="#mx" x="402.3" y="388.23"/>
<use href="#mc" x="418.0" y="290.00"/>
<use href="#mc" x="418.0" y="295.17"/>
<use href="#mc" x="418.0" y="300.34"/>
<use href="#mc" x="418.0" y="305.51"/>
<use href="#mc" x="418.0" y="310.68"/>
<use href="#mc" x="430.8" y="290.00"/>
<use href="#mc" x="430.8" y="295.17"/>
<use href="#mc" x="430.8" y="300.34"/>
<use href="#mc" x="430.8" y="305.51"/>
<use href="#mc" x="430.8" y="310.68"/>
<use href="#mc" x="430.8" y="315.85"/>
<use href="#mc" x="430.8" y="321.02"/>
<use href="#mc" x="430.8" y="326.19"/>
<use href="#mc" x="443.6" y="290.00"/>
<use href="#mc" x="443.6" y="295.17"/>
<use href="#mc" x="443.6" y="300.34"/>
<use href="#mc" x="443.6" y="305.51"/>
<use href="#mc" x="443.6" y="310.68"/>
<use href="#mc" x="443.6" y="315.85"/>
<use href="#mc" x="443.6" y="321.02"/>
<use href="#mc" x="443.6" y="326.19"/>
<use href="#mc" x="443.6" y="331.36"/>
<use href="#mc" x="443.6" y="336.53"/>
<use href="#mc" x="456.4" y="290.00"/>
<use href="#mc" x="456.4" y="295.17"/>
<use href="#mc" x="456.4" y="300.34"/>
<use href="#mc" x="456.4" y="305.51"/>
<use href="#mc" x="456.4" y="310.68"/>
<use href="#mc" x="456.4" y="315.85"/>
<use href="#mc" x="456.4" y="321.02"/>
<use href="#mc" x="456.4" y="326.19"/>
<use href="#mc" x="456.4" y="331.36"/>
<use href="#mc" x="456.4" y="336.53"/>
<use href="#mc" x="456.4" y="341.70"/>
<use href="#mc" x="469.2" y="290.00"/>
<use href="#mc" x="469.2" y="295.17"/>
<use href="#mc" x="469.2" y="300.34"/>
<use href="#mc" x="469.2" y="305.51"/>
<use href="#mc" x="469.2" y="310.68"/>
<use href="#mc" x="469.2" y="315.85"/>
<use href="#mc" x="469.2" y="321.02"/>
<use href="#mc" x="469.2" y="326.19"/>
<use href="#mc" x="469.2" y="331.36"/>
<use href="#mc" x="469.2" y="336.53"/>
<use href="#mc" x="469.2" y="341.70"/>
<use href="#mc" x="469.2" y="346.87"/>
<use href="#mc" x="482.0" y="290.00"/>
<use href="#mc" x="482.0" y="295.17"/>
<use href="#mc" x="482.0" y="300.34"/>
<use href="#mc" x="482.0" y="305.51"/>
<use href="#mc" x="482.0" y="310.68"/>
<use href="#mc" x="482.0" y="315.85"/>
<use href="#mc" x="482.0" y="321.02"/>
<use href="#mc" x="482.0" y="326.19"/>
<use href="#mc" x="482.0" y="331.36"/>
<use href="#mc" x="482.0" y="336.53"/>
<use href="#mc" x="482.0" y="341.70"/>
<use href="#mc" x="482.0" y="346.87"/>
<use href="#mc" x="482.0" y="352.04"/>
<use href="#mc" x="494.8" y="290.00"/>
<use href="#mc" x="494.8" y="295.17"/>
<use href="#mc" x="494.8" y="300.34"/>
<use href="#mc" x="494.8" y="305.51"/>
<use href="#mc" x="494.8" y="310.68"/>
<use href="#mc" x="494.8" y="315.85"/>
<use href="#mc" x="494.8" y="321.02"/>
<use href="#mc" x="494.8" y="326.19"/>
<use href="#mc" x="494.8" y="331.36"/>
<use href="#mc" x="494.8" y="336.53"/>
<use href="#mc" x="494.8" y="341.70"/>
<use href="#mc" x="494.8" y="346.87"/>
<use href="#mc" x="494.8" y="352.04"/>
<use href="#mc" x="494.8" y="357.21"/>
<use href="#mc" x="507.6" y="290.00"/>
<use href="#mc" x="507.6" y="295.17"/>
<use href="#mc" x="507.6" y="300.34"/>
<use href="#mc" x="507.6" y="305.51"/>
<use href="#mc" x="507.6" y="310.68"/>
<use href="#mc" x="507.6" y="315.85"/>
<use href="#mc" x="507.6" y="321.02"/>
<use href="#mc" x="507.6" y="326.19"/>
<use href="#mc" x="507.6" y="331.36"/>
<use href="#mc" x="507.6" y="336.53"/>
<use href="#mc" x="507.6" y="341.70"/>
<use href="#mc" x="507.6" y="346.87"/>
<use href="#mc" x="507.6" y="352.04"/>
<use href="#mc" x="507.6" y="357.21"/>
<use href="#mc" x="520.4" y="290.00"/>
<use href="#mc" x="520.4" y="295.17"/>
<use href="#mc" x="520.4" y="300.34"/>
<use href="#mc" x="520.4" y="305.51"/>
<use href="#mc" x="520.4" y="310.68"/>
<use href="#mc" x="520.4" y="315.85"/>
<use href="#mc" x="520.4" y="321.02"/>
<use href="#mc" x="520.4" y="326.19"/>
<use href="#mc" x="520.4" y="331.36"/>
<use href="#mc" x="520.4" y="336.53"/>
<use href="#mc" x="520.4" y="341.70"/>
<use href="#mc" x="520.4" y="346.87"/>
<use href="#mc" x="520.4" y="352.04"/>
<use href="#mc" x="520.4" y="357.21"/>
<use href="#mc" x="520.4" y="362.38"/>
<use href="#mc" x="533.2" y="290.00"/>
<use href="#mc" x="533.2" y="295.17"/>
<use href="#mc" x="533.2" y="300.34"/>
<use href="#mc" x="533.2" y="305.51"/>
<use href="#mc" x="533.2" y="310.68"/>
<use href="#mc" x="533.2" y="315.85"/>
<use href="#mc" x="533.2" y="321.02"/>
<use href="#mc" x="533.2" y="326.19"/>
<use href="#mc" x="533.2" y="331.36"/>
<use href="#mc" x="533.2" y="336.53"/>
<use href="#mc" x="533.2" y="341.70"/>
<use href="#mc" x="533.2" y="346.87"/>
<use href="#mc" x="533.2" y="352.04"/>
<use href="#mc" x="533.2" y="357.21"/>
<use href="#mc" x="533.2" y="362.38"/>
<use href="#mc" x="546.0" y="290.00"/>
<use href="#mc" x="546.0" y="295.17"/>
<use href="#mc" x="546.0" y="300.34"/>
<use href="#mc" x="546.0" y="305.51"/>
<use href="#mc" x="546.0" y="310.68"/>
<use href="#mc" x="546.0" y="315.85"/>
<use href="#mc" x="546.0" y="321.02"/>
<use href="#mc" x="546.0" y="326.19"/>
<use href="#mc" x="546.0" y="331.36"/>
<use href="#mc" x="546.0" y="336.53"/>
<use href="#mc" x="546.0" y="341.70"/>
<use href="#mc" x="546.0" y="346.87"/>
<use href="#mc" x="546.0" y="352.04"/>
<use href="#mc" x="546.0" y="357.21"/>
<use href="#mc" x="546.0" y="362.38"/>
<use href="#mc" x="546.0" y="367.55"/>
<use href="#mc" x="558.8" y="290.00"/>
<use href="#mc" x="558.8" y="295.17"/>
<use href="#mc" x="558.8" y="300.34"/>
<use href="#mc" x="558.8" y="305.51"/>
<use href="#mc" x="558.8" y="310.68"/>
<use href="#mc" x="558.8" y="315.85"/>
<use href="#mc" x="558.8" y="321.02"/>
<use href="#mc" x="558.8" y="326.19"/>
<use href="#mc" x="558.8" y="331.36"/>
<use href="#mc" x="558.8" y="336.53"/>
<use href="#mc" x="558.8" y="341.70"/>
<use href="#mc" x="558.8" y="346.87"/>
<use href="#mc" x="558.8" y="352.04"/>
<use href="#mc" x="558.8" y="357.21"/>
<use href="#mc" x="558.8" y="362.38"/>
<use href="#mc" x="558.8" y="367.55"/>
<use href="#mc" x="571.6" y="290.00"/>
<use href="#mc" x="571.6" y="295.17"/>
<use href="#mc" x="571.6" y="300.34"/>
<use href="#mc" x="571.6" y="305.51"/>
<use href="#mc" x="571.6" y="310.68"/>
<use href="#mc" x="571.6" y="315.85"/>
<use href="#mc" x="571.6" y="321.02"/>
<use href="#mc" x="571.6" y="326.19"/>
<use href="#mc" x="571.6" y="331.36"/>
<use href="#mc" x="571.6" y="336.53"/>
<use href="#mc" x="571.6" y="341.70"/>
<use href="#mc" x="571.6" y="346.87"/>
<use href="#mc" x="571.6" y="352.04"/>
<use href="#mc" x="571.6" y="357.21"/>
<use href="#mc" x="571.6" y="362.38"/>
<use href="#mc" x="571.6" y="367.55"/>
<use href="#mc" x="571.6" y="372.72"/>
<use href="#mc" x="584.4" y="290.00"/>
<use href="#mc" x="584.4" y="295.17"/>
<use href="#mc" x="584.4" y="300.34"/>
<use href="#mc" x="584.4" y="305.51"/>
<use href="#mc" x="584.4" y="310.68"/>
<use href="#mc" x="584.4" y="315.85"/>
<use href="#mc" x="584.4" y="321.02"/>
<use href="#mc" x="584.4" y="326.19"/>
<use href="#mc" x="584.4" y="331.36"/>
<use href="#mc" x="584.4" y="336.53"/>
<use href="#mc" x="584.4" y="341.70"/>
<use href="#mc" x="584.4" y="346.87"/>
<use href="#mc" x="584.4" y="352.04"/>
<use href="#mc" x="584.4" y="357.21"/>
<use href="#mc" x="584.4" y="362.38"/>
<use href="#mc" x="584.4" y="367.55"/>
<use href="#mc" x="584.4" y="372.72"/>
<use href="#md" x="418.0" y="315.85" fill="#6816ed"/>
<use href="#md" x="418.0" y="321.02" fill="#5f25ec"/>
<use href="#md" x="418.0" y="326.19" fill="#4749ea"/>
<use href="#md" x="418.0" y="331.36" fill="#2f6ce7"/>
<use href="#md" x="418.0" y="336.53" fill="#2f6ce7"/>
<use href="#md" x="418.0" y="341.70" fill="#217fe4"/>
<use href="#md" x="418.0" y="346.87" fill="#217fe4"/>
<use href="#mt" x="418.0" y="352.04" fill="#188be2"/>
<use href="#mt" x="418.0" y="357.21" fill="#188be2"/>
<use href="#mt" x="418.0" y="362.38" fill="#0e97df"/>
<use href="#mt" x="418.0" y="367.55" fill="#00a8db"/>
<use href="#mt" x="418.0" y="372.72" fill="#09b2d8"/>
<use href="#mt" x="418.0" y="377.89" fill="#18c0d3"/>
<use href="#ms" x="418.0" y="383.06" fill="#2fd3ca"/>
<use href="#md" x="430.8" y="331.36" fill="#641eed"/>
<use href="#md" x="430.8" y="336.53" fill="#5534ec"/>
<use href="#md" x="430.8" y="341.70" fill="#2f6ce7"/>
<use href="#md" x="430.8" y="346.87" fill="#217fe4"/>
<use href="#md" x="430.8" y="352.04" fill="#217fe4"/>
<use href="#mt" x="430.8" y="357.21" fill="#188be2"/>
<use href="#mt" x="430.8" y="362.38" fill="#0e97df"/>
<use href="#mt" x="430.8" y="367.55" fill="#00a8db"/>
<use href="#mt" x="430.8" y="372.72" fill="#09b2d8"/>
<use href="#mt" x="430.8" y="377.89" fill="#18c0d3"/>
<use href="#md" x="443.6" y="341.70" fill="#6d0fed"/>
<use href="#md" x="443.6" y="346.87" fill="#4749ea"/>
<use href="#md" x="443.6" y="352.04" fill="#2f6ce7"/>
<use href="#md" x="443.6" y="357.21" fill="#217fe4"/>
<use href="#mt" x="443.6" y="362.38" fill="#188be2"/>
<use href="#mt" x="443.6" y="367.55" fill="#0e97df"/>
<use href="#mt" x="443.6" y="372.72" fill="#09b2d8"/>
<use href="#mt" x="443.6" y="377.89" fill="#18c0d3"/>
<use href="#md" x="456.4" y="346.87" fill="#6d0fed"/>
<use href="#md" x="456.4" y="352.04" fill="#5534ec"/>
<use href="#md" x="456.4" y="357.21" fill="#3465e7"/>
<use href="#mt" x="456.4" y="362.38" fill="#2f6ce7"/>
<use href="#mt" x="456.4" y="367.55" fill="#188be2"/>
<use href="#mt" x="456.4" y="372.72" fill="#00a8db"/>
<use href="#ms" x="456.4" y="377.89" fill="#18c0d3"/>
<use href="#md" x="469.2" y="352.04" fill="#6d0fed"/>
<use href="#md" x="469.2" y="357.21" fill="#5534ec"/>
<use href="#md" x="469.2" y="362.38" fill="#4749ea"/>
<use href="#mt" x="469.2" y="367.55" fill="#2f6ce7"/>
<use href="#mt" x="469.2" y="372.72" fill="#188be2"/>
<use href="#ms" x="469.2" y="377.89" fill="#18c0d3"/>
<use href="#md" x="482.0" y="357.21" fill="#6816ed"/>
<use href="#md" x="482.0" y="362.38" fill="#5534ec"/>
<use href="#mt" x="482.0" y="367.55" fill="#4749ea"/>
<use href="#mt" x="482.0" y="372.72" fill="#2f6ce7"/>
<use href="#ms" x="482.0" y="377.89" fill="#18c0d3"/>
<use href="#md" x="494.8" y="362.38" fill="#6816ed"/>
<use href="#md" x="494.8" y="367.55" fill="#5534ec"/>
<use href="#mt" x="494.8" y="372.72" fill="#2f6ce7"/>
<use href="#ms" x="494.8" y="377.89" fill="#18c0d3"/>
<use href="#md" x="507.6" y="362.38" fill="#6816ed"/>
<use href="#md" x="507.6" y="367.55" fill="#5534ec"/>
<use href="#mt" x="507.6" y="372.72" fill="#2f6ce7"/>
<use href="#ms" x="507.6" y="377.89" fill="#18c0d3"/>
<use href="#md" x="520.4" y="367.55" fill="#6816ed"/>
<use href="#mt" x="520.4" y="372.72" fill="#4749ea"/>
<use href="#ms" x="520.4" y="377.89" fill="#18c0d3"/>
<use href="#md" x="533.2" y="367.55" fill="#6d0fed"/>
<use href="#md" x="533.2" y="372.72" fill="#6d0fed"/>
<use href="#md" x="546.0" y="372.72" fill="#6d0fed"/>
<use href="#md" x="558.8" y="372.72" fill="#6d0fed"/>
<use href="#mx" x="418.0" y="388.23"/>
<use href="#mx" x="430.8" y="383.06"/>
<use href="#mx" x="430.8" y="388.23"/>
<use href="#mx" x="443.6" y="383.06"/>
<use href="#mx" x="443.6" y="388.23"/>
<use href="#mx" x="456.4" y="383.06"/>
<use href="#mx" x="456.4" y="388.23"/>
<use href="#mx" x="469.2" y="383.06"/>
<use href="#mx" x="469.2" y="388.23"/>
<use href="#mx" x="482.0" y="383.06"/>
<use href="#mx" x="482.0" y="388.23"/>
<use href="#mx" x="494.8" y="383.06"/>
<use href="#mx" x="494.8" y="388.23"/>
<use href="#mx" x="507.6" y="383.06"/>
<use href="#mx" x="507.6" y="388.23"/>
<use href="#mx" x="520.4" y="383.06"/>
<use href="#mx" x="520.4" y="388.23"/>
<use href="#mx" x="533.2" y="377.89"/>
<use href="#mx" x="533.2" y="383.06"/>
<use href="#mx" x="533.2" y="388.23"/>
<use href="#mx" x="546.0" y="377.89"/>
<use href="#mx" x="546.0" y="383.06"/>
<use href="#mx" x="546.0" y="388.23"/>
<use href="#mx" x="558.8" y="377.89"/>
<use href="#mx" x="558.8" y="383.06"/>
<use href="#mx" x="558.8" y="388.23"/>
<use href="#mx" x="571.6" y="377.89"/>
<use href="#mx" x="571.6" y="383.06"/>
<use href="#mx" x="571.6" y="388.23"/>
<use href="#mx" x="584.4" y="377.89"/>
<use href="#mx" x="584.4" y="383.06"/>
<use href="#mx" x="584.4" y="388.23"/>
<rect x="46.46" y="72.50" width="182.14" height="105.95" fill="none" stroke="#555" stroke-width="0.9"/>
<line x1="44.66" y1="80.56" x2="46.46" y2="80.56" stroke="#222" stroke-width="0.8"/>
<line x1="44.66" y1="96.89" x2="46.46" y2="96.89" stroke="#222" stroke-width="0.8"/>
<line x1="44.66" y1="113.22" x2="46.46" y2="113.22" stroke="#222" stroke-width="0.8"/>
<line x1="44.66" y1="129.55" x2="46.46" y2="129.55" stroke="#222" stroke-width="0.8"/>
<line x1="44.66" y1="145.88" x2="46.46" y2="145.88" stroke="#222" stroke-width="0.8"/>
<line x1="44.66" y1="162.21" x2="46.46" y2="162.21" stroke="#222" stroke-width="0.8"/>
<line x1="44.66" y1="178.54" x2="46.46" y2="178.54" stroke="#222" stroke-width="0.8"/>
<rect x="228.60" y="72.50" width="182.20" height="105.95" fill="none" stroke="#555" stroke-width="0.9"/>
<line x1="226.80" y1="80.56" x2="228.60" y2="80.56" stroke="#222" stroke-width="0.8"/>
<line x1="226.80" y1="96.89" x2="228.60" y2="96.89" stroke="#222" stroke-width="0.8"/>
<line x1="226.80" y1="113.22" x2="228.60" y2="113.22" stroke="#222" stroke-width="0.8"/>
<line x1="226.80" y1="129.55" x2="228.60" y2="129.55" stroke="#222" stroke-width="0.8"/>
<line x1="226.80" y1="145.88" x2="228.60" y2="145.88" stroke="#222" stroke-width="0.8"/>
<line x1="226.80" y1="162.21" x2="228.60" y2="162.21" stroke="#222" stroke-width="0.8"/>
<line x1="226.80" y1="178.54" x2="228.60" y2="178.54" stroke="#222" stroke-width="0.8"/>
<rect x="410.80" y="72.50" width="181.40" height="105.95" fill="none" stroke="#555" stroke-width="0.9"/>
<line x1="409.00" y1="80.56" x2="410.80" y2="80.56" stroke="#222" stroke-width="0.8"/>
<line x1="409.00" y1="96.89" x2="410.80" y2="96.89" stroke="#222" stroke-width="0.8"/>
<line x1="409.00" y1="113.22" x2="410.80" y2="113.22" stroke="#222" stroke-width="0.8"/>
<line x1="409.00" y1="129.55" x2="410.80" y2="129.55" stroke="#222" stroke-width="0.8"/>
<line x1="409.00" y1="145.88" x2="410.80" y2="145.88" stroke="#222" stroke-width="0.8"/>
<line x1="409.00" y1="162.21" x2="410.80" y2="162.21" stroke="#222" stroke-width="0.8"/>
<line x1="409.00" y1="178.54" x2="410.80" y2="178.54" stroke="#222" stroke-width="0.8"/>
<text x="43.80" y="83.06" font-size="7.30" text-anchor="end" fill="#333" font-weight="normal" textLength="9.50" lengthAdjust="spacingAndGlyphs" style="stroke:#333;stroke-width:0.2">1.5</text>
<text x="43.80" y="99.39" font-size="7.30" text-anchor="end" fill="#333" font-weight="normal" textLength="9.50" lengthAdjust="spacingAndGlyphs" style="stroke:#333;stroke-width:0.2">1.0</text>
<text x="43.80" y="115.72" font-size="7.30" text-anchor="end" fill="#333" font-weight="normal" textLength="9.50" lengthAdjust="spacingAndGlyphs" style="stroke:#333;stroke-width:0.2">0.5</text>
<text x="43.80" y="132.05" font-size="7.30" text-anchor="end" fill="#333" font-weight="normal" textLength="9.50" lengthAdjust="spacingAndGlyphs" style="stroke:#333;stroke-width:0.2">0.0</text>
<text x="43.80" y="148.38" font-size="7.30" text-anchor="end" fill="#333" font-weight="normal" textLength="14.70" lengthAdjust="spacingAndGlyphs" style="stroke:#333;stroke-width:0.2">−0.5</text>
<text x="43.80" y="164.71" font-size="7.30" text-anchor="end" fill="#333" font-weight="normal" textLength="14.70" lengthAdjust="spacingAndGlyphs" style="stroke:#333;stroke-width:0.2">−1.0</text>
<text x="43.80" y="181.04" font-size="7.30" text-anchor="end" fill="#333" font-weight="normal" textLength="14.70" lengthAdjust="spacingAndGlyphs" style="stroke:#333;stroke-width:0.2">−1.5</text>
<text transform="translate(23.9,126.10) rotate(-90)" font-size="10.4" text-anchor="middle" fill="#222" textLength="56.4" lengthAdjust="spacingAndGlyphs">log (<tspan font-style="italic">P</tspan><tspan font-size="6.5" dy="1.8">init</tspan><tspan dy="-1.8"> [day])</tspan></text>
<text x="598.80" y="125.30" font-size="9.80" fill="#111" textLength="68.60" lengthAdjust="spacingAndGlyphs" style="stroke:#111;stroke-width:0.25"><tspan font-style="italic">M</tspan><tspan font-size="7.20" dy="1.90">BH, init</tspan><tspan dy="-1.90"> = 3 </tspan><tspan font-style="italic">M</tspan></text>
<circle cx="673.05" cy="124.40" r="2.70" fill="none" stroke="#111" stroke-width="0.90"/><circle cx="673.05" cy="124.40" r="0.81" fill="#111"/>
<rect x="46.46" y="178.45" width="182.14" height="106.95" fill="none" stroke="#555" stroke-width="0.9"/>
<line x1="44.66" y1="187.30" x2="46.46" y2="187.30" stroke="#222" stroke-width="0.8"/>
<line x1="44.66" y1="203.63" x2="46.46" y2="203.63" stroke="#222" stroke-width="0.8"/>
<line x1="44.66" y1="219.96" x2="46.46" y2="219.96" stroke="#222" stroke-width="0.8"/>
<line x1="44.66" y1="236.29" x2="46.46" y2="236.29" stroke="#222" stroke-width="0.8"/>
<line x1="44.66" y1="252.62" x2="46.46" y2="252.62" stroke="#222" stroke-width="0.8"/>
<line x1="44.66" y1="268.95" x2="46.46" y2="268.95" stroke="#222" stroke-width="0.8"/>
<line x1="44.66" y1="285.28" x2="46.46" y2="285.28" stroke="#222" stroke-width="0.8"/>
<rect x="228.60" y="178.45" width="182.20" height="106.95" fill="none" stroke="#555" stroke-width="0.9"/>
<line x1="226.80" y1="187.30" x2="228.60" y2="187.30" stroke="#222" stroke-width="0.8"/>
<line x1="226.80" y1="203.63" x2="228.60" y2="203.63" stroke="#222" stroke-width="0.8"/>
<line x1="226.80" y1="219.96" x2="228.60" y2="219.96" stroke="#222" stroke-width="0.8"/>
<line x1="226.80" y1="236.29" x2="228.60" y2="236.29" stroke="#222" stroke-width="0.8"/>
<line x1="226.80" y1="252.62" x2="228.60" y2="252.62" stroke="#222" stroke-width="0.8"/>
<line x1="226.80" y1="268.95" x2="228.60" y2="268.95" stroke="#222" stroke-width="0.8"/>
<line x1="226.80" y1="285.28" x2="228.60" y2="285.28" stroke="#222" stroke-width="0.8"/>
<rect x="410.80" y="178.45" width="181.40" height="106.95" fill="none" stroke="#555" stroke-width="0.9"/>
<line x1="409.00" y1="187.30" x2="410.80" y2="187.30" stroke="#222" stroke-width="0.8"/>
<line x1="409.00" y1="203.63" x2="410.80" y2="203.63" stroke="#222" stroke-width="0.8"/>
<line x1="409.00" y1="219.96" x2="410.80" y2="219.96" stroke="#222" stroke-width="0.8"/>
<line x1="409.00" y1="236.29" x2="410.80" y2="236.29" stroke="#222" stroke-width="0.8"/>
<line x1="409.00" y1="252.62" x2="410.80" y2="252.62" stroke="#222" stroke-width="0.8"/>
<line x1="409.00" y1="268.95" x2="410.80" y2="268.95" stroke="#222" stroke-width="0.8"/>
<line x1="409.00" y1="285.28" x2="410.80" y2="285.28" stroke="#222" stroke-width="0.8"/>
<text x="43.80" y="189.80" font-size="7.30" text-anchor="end" fill="#333" font-weight="normal" textLength="9.50" lengthAdjust="spacingAndGlyphs" style="stroke:#333;stroke-width:0.2">1.5</text>
<text x="43.80" y="206.13" font-size="7.30" text-anchor="end" fill="#333" font-weight="normal" textLength="9.50" lengthAdjust="spacingAndGlyphs" style="stroke:#333;stroke-width:0.2">1.0</text>
<text x="43.80" y="222.46" font-size="7.30" text-anchor="end" fill="#333" font-weight="normal" textLength="9.50" lengthAdjust="spacingAndGlyphs" style="stroke:#333;stroke-width:0.2">0.5</text>
<text x="43.80" y="238.79" font-size="7.30" text-anchor="end" fill="#333" font-weight="normal" textLength="9.50" lengthAdjust="spacingAndGlyphs" style="stroke:#333;stroke-width:0.2">0.0</text>
<text x="43.80" y="255.12" font-size="7.30" text-anchor="end" fill="#333" font-weight="normal" textLength="14.70" lengthAdjust="spacingAndGlyphs" style="stroke:#333;stroke-width:0.2">−0.5</text>
<text x="43.80" y="271.45" font-size="7.30" text-anchor="end" fill="#333" font-weight="normal" textLength="14.70" lengthAdjust="spacingAndGlyphs" style="stroke:#333;stroke-width:0.2">−1.0</text>
<text x="43.80" y="287.78" font-size="7.30" text-anchor="end" fill="#333" font-weight="normal" textLength="14.70" lengthAdjust="spacingAndGlyphs" style="stroke:#333;stroke-width:0.2">−1.5</text>
<text transform="translate(23.9,232.05) rotate(-90)" font-size="10.4" text-anchor="middle" fill="#222" textLength="56.4" lengthAdjust="spacingAndGlyphs">log (<tspan font-style="italic">P</tspan><tspan font-size="6.5" dy="1.8">init</tspan><tspan dy="-1.8"> [day])</tspan></text>
<text x="598.80" y="231.90" font-size="9.80" fill="#111" textLength="68.60" lengthAdjust="spacingAndGlyphs" style="stroke:#111;stroke-width:0.25"><tspan font-style="italic">M</tspan><tspan font-size="7.20" dy="1.90">BH, init</tspan><tspan dy="-1.90"> = 6 </tspan><tspan font-style="italic">M</tspan></text>
<circle cx="673.05" cy="231.00" r="2.70" fill="none" stroke="#111" stroke-width="0.90"/><circle cx="673.05" cy="231.00" r="0.81" fill="#111"/>
<rect x="46.46" y="285.40" width="182.14" height="106.20" fill="none" stroke="#555" stroke-width="0.9"/>
<line x1="44.66" y1="293.45" x2="46.46" y2="293.45" stroke="#222" stroke-width="0.8"/>
<line x1="44.66" y1="309.78" x2="46.46" y2="309.78" stroke="#222" stroke-width="0.8"/>
<line x1="44.66" y1="326.11" x2="46.46" y2="326.11" stroke="#222" stroke-width="0.8"/>
<line x1="44.66" y1="342.44" x2="46.46" y2="342.44" stroke="#222" stroke-width="0.8"/>
<line x1="44.66" y1="358.77" x2="46.46" y2="358.77" stroke="#222" stroke-width="0.8"/>
<line x1="44.66" y1="375.10" x2="46.46" y2="375.10" stroke="#222" stroke-width="0.8"/>
<line x1="44.66" y1="391.43" x2="46.46" y2="391.43" stroke="#222" stroke-width="0.8"/>
<rect x="228.60" y="285.40" width="182.20" height="106.20" fill="none" stroke="#555" stroke-width="0.9"/>
<line x1="226.80" y1="293.45" x2="228.60" y2="293.45" stroke="#222" stroke-width="0.8"/>
<line x1="226.80" y1="309.78" x2="228.60" y2="309.78" stroke="#222" stroke-width="0.8"/>
<line x1="226.80" y1="326.11" x2="228.60" y2="326.11" stroke="#222" stroke-width="0.8"/>
<line x1="226.80" y1="342.44" x2="228.60" y2="342.44" stroke="#222" stroke-width="0.8"/>
<line x1="226.80" y1="358.77" x2="228.60" y2="358.77" stroke="#222" stroke-width="0.8"/>
<line x1="226.80" y1="375.10" x2="228.60" y2="375.10" stroke="#222" stroke-width="0.8"/>
<line x1="226.80" y1="391.43" x2="228.60" y2="391.43" stroke="#222" stroke-width="0.8"/>
<rect x="410.80" y="285.40" width="181.40" height="106.20" fill="none" stroke="#555" stroke-width="0.9"/>
<line x1="409.00" y1="293.45" x2="410.80" y2="293.45" stroke="#222" stroke-width="0.8"/>
<line x1="409.00" y1="309.78" x2="410.80" y2="309.78" stroke="#222" stroke-width="0.8"/>
<line x1="409.00" y1="326.11" x2="410.80" y2="326.11" stroke="#222" stroke-width="0.8"/>
<line x1="409.00" y1="342.44" x2="410.80" y2="342.44" stroke="#222" stroke-width="0.8"/>
<line x1="409.00" y1="358.77" x2="410.80" y2="358.77" stroke="#222" stroke-width="0.8"/>
<line x1="409.00" y1="375.10" x2="410.80" y2="375.10" stroke="#222" stroke-width="0.8"/>
<line x1="409.00" y1="391.43" x2="410.80" y2="391.43" stroke="#222" stroke-width="0.8"/>
<text x="43.80" y="295.95" font-size="7.30" text-anchor="end" fill="#333" font-weight="normal" textLength="9.50" lengthAdjust="spacingAndGlyphs" style="stroke:#333;stroke-width:0.2">1.5</text>
<text x="43.80" y="312.28" font-size="7.30" text-anchor="end" fill="#333" font-weight="normal" textLength="9.50" lengthAdjust="spacingAndGlyphs" style="stroke:#333;stroke-width:0.2">1.0</text>
<text x="43.80" y="328.61" font-size="7.30" text-anchor="end" fill="#333" font-weight="normal" textLength="9.50" lengthAdjust="spacingAndGlyphs" style="stroke:#333;stroke-width:0.2">0.5</text>
<text x="43.80" y="344.94" font-size="7.30" text-anchor="end" fill="#333" font-weight="normal" textLength="9.50" lengthAdjust="spacingAndGlyphs" style="stroke:#333;stroke-width:0.2">0.0</text>
<text x="43.80" y="361.27" font-size="7.30" text-anchor="end" fill="#333" font-weight="normal" textLength="14.70" lengthAdjust="spacingAndGlyphs" style="stroke:#333;stroke-width:0.2">−0.5</text>
<text x="43.80" y="377.60" font-size="7.30" text-anchor="end" fill="#333" font-weight="normal" textLength="14.70" lengthAdjust="spacingAndGlyphs" style="stroke:#333;stroke-width:0.2">−1.0</text>
<text x="43.80" y="393.93" font-size="7.30" text-anchor="end" fill="#333" font-weight="normal" textLength="14.70" lengthAdjust="spacingAndGlyphs" style="stroke:#333;stroke-width:0.2">−1.5</text>
<text transform="translate(23.9,339.00) rotate(-90)" font-size="10.4" text-anchor="middle" fill="#222" textLength="56.4" lengthAdjust="spacingAndGlyphs">log (<tspan font-style="italic">P</tspan><tspan font-size="6.5" dy="1.8">init</tspan><tspan dy="-1.8"> [day])</tspan></text>
<text x="598.80" y="338.60" font-size="9.80" fill="#111" textLength="68.60" lengthAdjust="spacingAndGlyphs" style="stroke:#111;stroke-width:0.25"><tspan font-style="italic">M</tspan><tspan font-size="7.20" dy="1.90">BH, init</tspan><tspan dy="-1.90"> = 9 </tspan><tspan font-style="italic">M</tspan></text>
<circle cx="673.05" cy="337.70" r="2.70" fill="none" stroke="#111" stroke-width="0.90"/><circle cx="673.05" cy="337.70" r="0.81" fill="#111"/>
<text x="121.60" y="70.1" font-size="9.6" fill="#111" textLength="31.40" lengthAdjust="spacingAndGlyphs">1 <tspan font-style="italic">Ṁ</tspan><tspan font-size="6.7" dy="1.0">Edd</tspan></text>
<text x="300.70" y="70.1" font-size="9.6" fill="#111" textLength="37.20" lengthAdjust="spacingAndGlyphs">10 <tspan font-style="italic">Ṁ</tspan><tspan font-size="6.7" dy="1.0">Edd</tspan></text>
<text x="479.20" y="70.1" font-size="9.6" fill="#111" textLength="43.70" lengthAdjust="spacingAndGlyphs">100 <tspan font-style="italic">Ṁ</tspan><tspan font-size="6.7" dy="1.0">Edd</tspan></text>
<line x1="66.90" y1="391.6" x2="66.90" y2="393.2" stroke="#222" stroke-width="0.6"/>
<text x="66.90" y="398.00" font-size="6.00" text-anchor="middle" fill="#333" font-weight="normal" style="stroke:#333;stroke-width:0.15">3</text>
<line x1="92.50" y1="391.6" x2="92.50" y2="393.2" stroke="#222" stroke-width="0.6"/>
<text x="92.50" y="398.00" font-size="6.00" text-anchor="middle" fill="#333" font-weight="normal" style="stroke:#333;stroke-width:0.15">4</text>
<line x1="118.10" y1="391.6" x2="118.10" y2="393.2" stroke="#222" stroke-width="0.6"/>
<text x="118.10" y="398.00" font-size="6.00" text-anchor="middle" fill="#333" font-weight="normal" style="stroke:#333;stroke-width:0.15">5</text>
<line x1="143.70" y1="391.6" x2="143.70" y2="393.2" stroke="#222" stroke-width="0.6"/>
<text x="143.70" y="398.00" font-size="6.00" text-anchor="middle" fill="#333" font-weight="normal" style="stroke:#333;stroke-width:0.15">6</text>
<line x1="169.30" y1="391.6" x2="169.30" y2="393.2" stroke="#222" stroke-width="0.6"/>
<text x="169.30" y="398.00" font-size="6.00" text-anchor="middle" fill="#333" font-weight="normal" style="stroke:#333;stroke-width:0.15">7</text>
<line x1="194.90" y1="391.6" x2="194.90" y2="393.2" stroke="#222" stroke-width="0.6"/>
<text x="194.90" y="398.00" font-size="6.00" text-anchor="middle" fill="#333" font-weight="normal" style="stroke:#333;stroke-width:0.15">8</text>
<line x1="220.50" y1="391.6" x2="220.50" y2="393.2" stroke="#222" stroke-width="0.6"/>
<text x="220.50" y="398.00" font-size="6.00" text-anchor="middle" fill="#333" font-weight="normal" style="stroke:#333;stroke-width:0.15">9</text>
<text x="104.33" y="407.10" font-size="9.40" fill="#222" textLength="55.80" lengthAdjust="spacingAndGlyphs"><tspan font-style="italic">M</tspan><tspan font-size="6.90" dy="1.80">ZamsHe</tspan><tspan dy="-1.80"> [</tspan><tspan font-style="italic">M</tspan></text>
<circle cx="163.13" cy="406.20" r="2.30" fill="none" stroke="#222" stroke-width="0.65"/><circle cx="163.13" cy="406.20" r="0.69" fill="#222"/>
<text x="167.53" y="407.10" font-size="9.40" fill="#222" textLength="3.10" lengthAdjust="spacingAndGlyphs">]</text>
<line x1="248.70" y1="391.6" x2="248.70" y2="393.2" stroke="#222" stroke-width="0.6"/>
<text x="248.70" y="398.00" font-size="6.00" text-anchor="middle" fill="#333" font-weight="normal" style="stroke:#333;stroke-width:0.15">3</text>
<line x1="274.30" y1="391.6" x2="274.30" y2="393.2" stroke="#222" stroke-width="0.6"/>
<text x="274.30" y="398.00" font-size="6.00" text-anchor="middle" fill="#333" font-weight="normal" style="stroke:#333;stroke-width:0.15">4</text>
<line x1="299.90" y1="391.6" x2="299.90" y2="393.2" stroke="#222" stroke-width="0.6"/>
<text x="299.90" y="398.00" font-size="6.00" text-anchor="middle" fill="#333" font-weight="normal" style="stroke:#333;stroke-width:0.15">5</text>
<line x1="325.50" y1="391.6" x2="325.50" y2="393.2" stroke="#222" stroke-width="0.6"/>
<text x="325.50" y="398.00" font-size="6.00" text-anchor="middle" fill="#333" font-weight="normal" style="stroke:#333;stroke-width:0.15">6</text>
<line x1="351.10" y1="391.6" x2="351.10" y2="393.2" stroke="#222" stroke-width="0.6"/>
<text x="351.10" y="398.00" font-size="6.00" text-anchor="middle" fill="#333" font-weight="normal" style="stroke:#333;stroke-width:0.15">7</text>
<line x1="376.70" y1="391.6" x2="376.70" y2="393.2" stroke="#222" stroke-width="0.6"/>
<text x="376.70" y="398.00" font-size="6.00" text-anchor="middle" fill="#333" font-weight="normal" style="stroke:#333;stroke-width:0.15">8</text>
<line x1="402.30" y1="391.6" x2="402.30" y2="393.2" stroke="#222" stroke-width="0.6"/>
<text x="402.30" y="398.00" font-size="6.00" text-anchor="middle" fill="#333" font-weight="normal" style="stroke:#333;stroke-width:0.15">9</text>
<text x="286.50" y="407.10" font-size="9.40" fill="#222" textLength="55.80" lengthAdjust="spacingAndGlyphs"><tspan font-style="italic">M</tspan><tspan font-size="6.90" dy="1.80">ZamsHe</tspan><tspan dy="-1.80"> [</tspan><tspan font-style="italic">M</tspan></text>
<circle cx="345.30" cy="406.20" r="2.30" fill="none" stroke="#222" stroke-width="0.65"/><circle cx="345.30" cy="406.20" r="0.69" fill="#222"/>
<text x="349.70" y="407.10" font-size="9.40" fill="#222" textLength="3.10" lengthAdjust="spacingAndGlyphs">]</text>
<line x1="430.80" y1="391.6" x2="430.80" y2="393.2" stroke="#222" stroke-width="0.6"/>
<text x="430.80" y="398.00" font-size="6.00" text-anchor="middle" fill="#333" font-weight="normal" style="stroke:#333;stroke-width:0.15">3</text>
<line x1="456.40" y1="391.6" x2="456.40" y2="393.2" stroke="#222" stroke-width="0.6"/>
<text x="456.40" y="398.00" font-size="6.00" text-anchor="middle" fill="#333" font-weight="normal" style="stroke:#333;stroke-width:0.15">4</text>
<line x1="482.00" y1="391.6" x2="482.00" y2="393.2" stroke="#222" stroke-width="0.6"/>
<text x="482.00" y="398.00" font-size="6.00" text-anchor="middle" fill="#333" font-weight="normal" style="stroke:#333;stroke-width:0.15">5</text>
<line x1="507.60" y1="391.6" x2="507.60" y2="393.2" stroke="#222" stroke-width="0.6"/>
<text x="507.60" y="398.00" font-size="6.00" text-anchor="middle" fill="#333" font-weight="normal" style="stroke:#333;stroke-width:0.15">6</text>
<line x1="533.20" y1="391.6" x2="533.20" y2="393.2" stroke="#222" stroke-width="0.6"/>
<text x="533.20" y="398.00" font-size="6.00" text-anchor="middle" fill="#333" font-weight="normal" style="stroke:#333;stroke-width:0.15">7</text>
<line x1="558.80" y1="391.6" x2="558.80" y2="393.2" stroke="#222" stroke-width="0.6"/>
<text x="558.80" y="398.00" font-size="6.00" text-anchor="middle" fill="#333" font-weight="normal" style="stroke:#333;stroke-width:0.15">8</text>
<line x1="584.40" y1="391.6" x2="584.40" y2="393.2" stroke="#222" stroke-width="0.6"/>
<text x="584.40" y="398.00" font-size="6.00" text-anchor="middle" fill="#333" font-weight="normal" style="stroke:#333;stroke-width:0.15">9</text>
<text x="468.30" y="407.10" font-size="9.40" fill="#222" textLength="55.80" lengthAdjust="spacingAndGlyphs"><tspan font-style="italic">M</tspan><tspan font-size="6.90" dy="1.80">ZamsHe</tspan><tspan dy="-1.80"> [</tspan><tspan font-style="italic">M</tspan></text>
<circle cx="527.10" cy="406.20" r="2.30" fill="none" stroke="#222" stroke-width="0.65"/><circle cx="527.10" cy="406.20" r="0.69" fill="#222"/>
<text x="531.50" y="407.10" font-size="9.40" fill="#222" textLength="3.10" lengthAdjust="spacingAndGlyphs">]</text>
<g class="hv2">
<defs><clipPath id="cp"><rect x="67.8" y="450.9" width="251.5" height="259.9"/></clipPath></defs>
<g clip-path="url(#cp)">
<rect x="67.8" y="450.9" width="251.5" height="259.9" fill="#8000ff"/>
<path d="M68.8,450.9 319.3,450.9 319.3,503.2 307.8,510.8 297.2,518.5 275.6,535.9 254.5,555.2 232.9,577.5 211.5,601.6 188.6,629.6 164.7,660.6 127.4,710.8 67.8,710.8 67.8,450.9Z" fill="#7c06ff"/>
<path d="M68.8,450.9 319.3,450.9 319.3,501.7 297.4,516.6 275.4,534.0 253.9,553.3 231.9,575.5 210.2,599.7 187.6,626.7 164.1,656.7 122.8,710.8 67.8,710.8 67.8,450.9Z" fill="#7511ff"/>
<path d="M68.8,450.9 319.3,450.9 319.3,500.3 297.7,514.7 286.0,523.4 275.2,532.1 253.3,551.4 231.0,573.6 209.7,596.8 186.7,623.8 164.2,651.9 118.0,710.8 67.8,710.8 67.8,450.9Z" fill="#6e1cff"/>
<path d="M68.8,450.9 319.3,450.9 319.3,498.9 308.1,506.0 296.7,513.7 275.1,530.1 252.8,549.4 230.0,571.7 208.4,594.9 185.8,620.9 165.1,646.1 113.0,710.8 67.8,710.8 67.8,450.9Z" fill="#6627fe"/>
<path d="M68.8,450.9 319.3,450.9 319.3,497.6 297.1,511.8 275.0,528.2 252.3,547.5 229.1,569.7 208.0,592.0 185.8,617.1 107.8,710.8 67.8,710.8 67.8,450.9Z" fill="#5f32fe"/>
<path d="M68.8,450.9 319.3,450.9 319.3,496.3 297.6,509.8 275.0,526.3 251.8,545.6 229.2,566.8 208.5,588.1 186.7,612.3 122.2,688.1 102.3,710.8 67.8,710.8 67.8,450.9Z" fill="#583dfd"/>
<path d="M68.8,450.9 319.3,450.9 319.3,495.0 296.6,508.9 275.0,524.3 252.5,542.7 229.4,563.9 210.1,583.3 188.5,606.5 121.2,683.6 96.5,710.8 67.8,710.8 67.8,450.9Z" fill="#5148fc"/>
<path d="M68.8,450.9 319.3,450.9 319.3,493.8 308.1,500.2 295.8,507.9 273.8,523.4 251.0,541.7 228.6,562.0 209.9,580.4 190.6,600.7 170.3,622.9 119.3,680.3 103.7,697.0 90.3,710.8 67.8,710.8 67.8,450.9Z" fill="#4a53fb"/>
<path d="M68.8,450.9 319.3,450.9 319.3,492.5 297.9,505.0 275.2,520.5 253.0,537.9 229.9,558.1 212.7,574.6 193.7,593.9 172.9,616.1 116.4,677.9 98.9,696.0 83.6,710.8 67.8,710.8 67.8,450.9Z" fill="#425efb"/>
<path d="M68.8,450.9 319.3,450.9 319.3,491.3 297.1,504.0 275.4,518.5 252.7,535.9 230.2,555.2 210.7,573.6 190.4,593.9 128.0,660.3 109.6,679.5 92.1,696.6 76.2,710.8 67.8,710.8 67.8,450.9Z" fill="#3b68f9"/>
<path d="M68.8,450.9 319.3,450.9 319.3,490.2 297.9,502.1 275.7,516.6 253.7,533.0 231.7,551.4 212.7,568.8 191.9,589.1 128.0,655.3 107.6,675.8 87.2,694.9 68.1,710.8 67.8,710.8 67.8,450.9Z" fill="#3472f8"/>
<path d="M68.8,450.9 319.3,450.9 319.3,489.0 297.2,501.1 276.0,514.7 254.8,530.1 232.3,548.5 212.8,565.9 192.5,585.2 129.0,649.5 107.6,670.4 86.2,689.7 67.8,704.4 67.8,450.9Z" fill="#2d7cf7"/>
<path d="M68.8,450.9 319.3,450.9 319.3,487.9 298.1,499.2 276.4,512.7 256.0,527.2 234.0,544.6 215.1,561.0 194.2,580.4 129.9,643.8 108.6,664.1 87.2,682.9 67.8,697.9 67.8,450.9Z" fill="#2686f5"/>
<path d="M68.8,450.9 319.3,450.9 319.3,486.8 297.5,498.2 276.9,510.8 256.0,525.3 234.8,541.7 215.4,558.1 195.0,576.5 130.9,638.2 109.6,658.0 87.2,677.1 67.8,691.5 67.8,450.9Z" fill="#1f8ff4"/>
<path d="M68.8,450.9 319.3,450.9 319.3,485.7 298.6,496.3 277.4,508.9 257.4,522.4 235.6,538.8 216.8,554.3 196.0,572.6 132.9,631.9 110.5,652.1 88.2,670.6 77.5,678.6 67.8,685.3 67.8,450.9Z" fill="#1799f2"/>
<path d="M68.8,450.9 319.3,450.9 319.3,484.7 298.0,495.3 278.0,506.9 257.5,520.5 236.5,535.9 217.3,551.4 197.0,568.8 133.8,626.6 111.5,646.3 88.2,665.1 77.5,672.8 67.8,679.2 67.8,450.9Z" fill="#10a1f0"/>
<path d="M68.8,450.9 319.3,450.9 319.3,483.7 299.3,493.4 278.7,505.0 257.7,518.5 237.5,533.0 219.0,547.5 198.2,564.9 133.8,622.3 111.5,641.5 88.2,659.7 77.5,667.1 67.8,673.3 67.8,450.9Z" fill="#09aaee"/>
<path d="M68.8,450.9 319.3,450.9 319.3,482.7 298.8,492.4 279.5,503.1 259.4,515.6 238.7,530.1 219.7,544.6 199.5,561.0 135.8,616.5 112.5,636.0 89.2,653.6 78.5,660.9 67.8,667.5 67.8,450.9Z" fill="#02b2ec"/>
<path d="M68.8,450.9 319.3,450.9 319.3,481.7 298.4,491.5 278.7,502.1 258.3,514.7 238.6,528.2 220.4,541.7 199.8,558.1 136.7,611.6 113.4,630.6 89.2,648.5 78.5,655.4 67.8,661.8 67.8,450.9Z" fill="#05baea"/>
<path d="M68.8,450.9 319.3,450.9 319.3,480.8 299.9,489.5 279.7,500.2 260.2,511.8 239.9,525.3 221.2,538.8 201.3,554.3 136.7,607.6 113.4,626.1 100.8,635.4 89.2,643.4 78.5,650.1 67.8,656.2 67.8,450.9Z" fill="#0dc2e8"/>
<path d="M68.8,450.9 319.3,450.9 319.3,479.8 299.6,488.6 280.7,498.2 260.7,509.8 241.3,522.4 223.5,535.0 203.0,550.4 137.7,603.0 114.4,621.0 90.1,637.8 78.5,644.9 67.8,650.7 67.8,450.9Z" fill="#14c9e5"/>
<path d="M68.8,450.9 319.3,450.9 319.3,478.9 299.3,487.6 280.0,497.3 261.3,507.9 241.4,520.5 223.2,533.0 203.5,547.5 138.7,598.5 115.4,616.0 101.8,625.4 90.1,632.9 78.5,639.8 67.8,645.4 67.8,450.9Z" fill="#1bd0e3"/>
<path d="M68.8,450.9 319.3,450.9 319.3,478.0 301.1,485.7 281.2,495.3 262.0,506.0 243.1,517.6 224.4,530.1 204.2,544.6 139.7,594.0 115.4,611.8 102.8,620.3 90.1,628.2 78.5,634.8 67.8,640.2 67.8,450.9Z" fill="#22d6e0"/>
<path d="M68.8,450.9 319.3,450.9 319.3,477.2 300.9,484.7 282.6,493.4 262.8,504.0 243.4,515.6 225.6,527.2 206.3,540.8 140.6,589.7 116.4,607.0 103.7,615.3 91.1,623.0 79.5,629.4 67.8,635.1 67.8,450.9Z" fill="#29dcdd"/>
<path d="M68.8,450.9 319.3,450.9 319.3,476.3 300.8,483.7 282.0,492.4 263.6,502.1 243.8,513.7 225.6,525.3 207.1,537.9 141.6,585.5 117.3,602.4 103.7,611.0 91.1,618.5 79.5,624.6 67.8,630.1 67.8,450.9Z" fill="#30e1da"/>
<path d="M68.8,450.9 319.3,450.9 319.3,475.5 300.7,482.8 283.6,490.5 264.6,500.2 245.8,510.8 227.1,522.4 208.1,535.0 141.6,582.1 117.3,598.5 103.7,606.9 91.1,614.0 79.5,620.0 67.8,625.2 67.8,450.9Z" fill="#38e6d7"/>
<path d="M68.8,450.9 319.3,450.9 319.3,474.7 300.7,481.8 283.1,489.5 265.6,498.2 246.3,508.9 228.7,519.5 209.2,532.1 142.6,578.1 118.3,594.0 104.7,602.2 92.1,609.2 79.5,615.4 67.8,620.4 67.8,450.9Z" fill="#3febd4"/>
<path d="M68.8,450.9 319.3,450.9 319.3,473.9 300.7,480.9 282.8,488.6 264.9,497.3 247.0,506.9 228.9,517.6 208.9,530.1 143.5,574.2 118.3,590.3 104.7,598.2 92.1,604.9 79.5,610.9 67.8,615.7 67.8,450.9Z" fill="#46efd1"/>
<path d="M68.8,450.9 319.3,450.9 319.3,473.1 300.7,479.9 284.6,486.6 266.1,495.3 247.7,505.0 229.1,515.6 210.3,527.2 144.5,570.4 119.3,586.1 104.7,594.3 92.1,600.8 79.5,606.6 67.8,611.1 67.8,450.9Z" fill="#4df3ce"/>
<path d="M68.8,450.9 319.3,450.9 319.3,472.4 300.9,478.9 284.3,485.7 267.5,493.4 248.5,503.1 231.1,512.7 211.7,524.3 145.5,566.7 120.2,582.0 106.6,589.5 93.0,596.3 80.4,601.9 67.8,606.6 67.8,450.9Z" fill="#54f6cb"/>
<path d="M68.8,450.9 319.3,450.9 319.3,471.6 301.0,478.0 284.1,484.7 266.9,492.4 249.4,501.1 231.6,510.8 213.3,521.4 145.5,563.6 120.2,578.5 106.6,585.8 93.0,592.3 80.4,597.7 67.8,602.3 67.8,450.9Z" fill="#5cf9c7"/>
<path d="M68.8,450.9 319.3,450.9 319.3,470.9 304.0,476.0 286.3,482.8 268.4,490.5 250.4,499.2 232.1,508.9 213.3,519.5 147.4,559.5 120.2,575.1 105.7,582.6 93.0,588.5 80.4,593.6 67.8,598.0 67.8,450.9Z" fill="#63fbc4"/>
<path d="M68.8,450.9 319.3,450.9 319.3,470.2 301.6,476.0 286.2,481.8 270.1,488.6 251.5,497.3 234.5,506.0 215.2,516.6 147.4,556.6 121.2,571.2 106.6,578.6 93.0,584.7 80.4,589.6 67.8,593.8 67.8,450.9Z" fill="#6afdc0"/>
<path d="M68.8,450.9 319.3,450.9 319.3,469.5 302.0,475.1 286.2,480.9 269.8,487.6 252.8,495.3 235.3,504.0 215.4,514.7 147.4,553.8 122.2,567.5 106.6,575.1 93.0,581.0 80.4,585.7 67.8,589.7 67.8,450.9Z" fill="#71febc"/>
<path d="M68.8,450.9 319.3,450.9 319.3,468.8 302.4,474.1 286.2,479.9 269.4,486.6 252.1,494.4 234.2,503.1 215.8,512.7 149.4,550.0 122.2,564.3 107.6,571.2 94.0,577.0 80.4,581.9 67.8,585.7 67.8,450.9Z" fill="#78ffb8"/>
<path d="M68.8,450.9 319.3,450.9 319.3,468.2 303.0,473.1 286.3,478.9 269.1,485.7 253.5,492.4 235.2,501.1 216.2,510.8 150.3,546.8 123.1,560.8 108.6,567.5 94.0,573.4 80.4,578.2 67.8,581.8 67.8,450.9Z" fill="#7fffb4"/>
<path d="M68.8,450.9 319.3,450.9 319.3,467.5 303.6,472.2 286.5,478.0 271.2,483.7 255.1,490.5 238.2,498.2 218.6,507.9 150.3,544.2 123.1,557.7 107.6,564.6 94.0,570.0 80.4,574.5 67.8,578.0 67.8,450.9Z" fill="#87ffb0"/>
<path d="M68.8,450.9 319.3,450.9 319.3,466.9 304.3,471.2 286.7,477.0 271.1,482.8 254.6,489.5 237.3,497.3 219.2,506.0 151.3,541.2 123.1,554.8 107.6,561.5 94.0,566.6 80.4,571.0 67.8,574.2 67.8,450.9Z" fill="#8efeac"/>
<path d="M68.8,450.9 319.3,450.9 319.3,466.3 302.0,471.2 287.0,476.0 271.0,481.8 256.4,487.6 238.6,495.3 220.0,504.0 152.3,538.2 124.1,551.5 108.6,558.0 94.0,563.3 80.4,567.5 67.8,570.6 67.8,450.9Z" fill="#95fda8"/>
<path d="M68.8,450.9 319.3,450.9 319.3,465.7 306.1,469.3 290.3,474.1 273.5,479.9 258.4,485.7 240.0,493.4 220.8,502.1 151.3,536.2 124.1,548.6 108.6,554.9 95.0,559.7 81.4,563.8 67.8,567.0 67.8,450.9Z" fill="#9cfba4"/>
<path d="M68.8,450.9 319.3,450.9 319.3,465.1 303.7,469.3 284.8,475.1 265.6,481.8 248.4,488.6 215.5,503.1 145.5,536.5 116.4,549.0 103.7,553.7 91.1,557.8 79.5,561.0 67.8,563.5 67.8,450.9Z" fill="#a3f99f"/>
<path d="M68.8,450.9 319.3,450.9 319.3,464.6 301.3,469.3 285.3,474.1 268.2,479.9 248.0,487.6 214.3,502.1 146.5,533.7 117.3,545.8 103.7,550.7 91.1,554.6 79.5,557.7 67.8,560.1 67.8,450.9Z" fill="#abf69b"/>
<path d="M68.8,450.9 319.3,450.9 319.3,464.0 302.4,468.3 282.7,474.1 265.5,479.9 247.5,486.6 215.3,500.2 146.5,531.3 117.3,543.1 103.7,547.8 91.1,551.6 79.5,554.5 67.8,556.8 67.8,450.9Z" fill="#b2f396"/>
<path d="M68.8,450.9 319.3,450.9 319.3,463.5 303.5,467.3 286.4,472.2 268.4,478.0 249.6,484.7 216.3,498.2 147.4,528.6 118.3,540.1 104.7,544.6 92.1,548.3 79.5,551.3 67.8,553.5 67.8,450.9Z" fill="#b9ef92"/>
<path d="M68.8,450.9 319.3,450.9 319.3,463.0 301.1,467.3 283.8,472.2 265.7,478.0 249.3,483.7 217.6,496.3 148.4,526.0 119.3,537.1 105.7,541.6 93.0,545.1 80.4,548.1 67.8,550.4 67.8,450.9Z" fill="#c0eb8d"/>
<path d="M68.8,450.9 319.3,450.9 319.3,462.5 302.4,466.4 284.5,471.2 265.8,477.0 249.1,482.8 216.6,495.3 150.3,523.0 120.2,534.2 106.6,538.6 93.0,542.3 80.4,545.1 67.8,547.3 67.8,450.9Z" fill="#c7e688"/>
<path d="M68.8,450.9 319.3,450.9 319.3,462.0 303.9,465.4 285.4,470.2 266.1,476.0 248.8,481.8 218.0,493.4 150.3,520.9 120.2,531.8 105.7,536.2 93.0,539.5 80.4,542.2 67.8,544.2 67.8,450.9Z" fill="#cfe184"/>
<path d="M68.8,450.9 319.3,450.9 319.3,461.5 301.5,465.4 286.3,469.3 269.5,474.1 251.5,479.9 219.6,491.5 150.3,518.8 121.2,529.0 106.6,533.4 94.0,536.6 80.4,539.3 67.8,541.3 67.8,450.9Z" fill="#d6dc7f"/>
<path d="M68.8,450.9 319.3,450.9 319.3,461.0 303.1,464.4 287.3,468.3 270.0,473.1 251.5,478.9 218.8,490.5 151.3,516.4 121.2,526.7 106.6,530.8 93.0,534.1 80.4,536.6 67.8,538.4 67.8,450.9Z" fill="#ddd67a"/>
<path d="M68.8,450.9 319.3,450.9 319.3,460.6 300.6,464.4 284.7,468.3 251.6,478.0 218.0,489.5 152.3,514.1 122.2,524.1 107.6,528.1 94.0,531.3 80.4,533.8 67.8,535.6 67.8,450.9Z" fill="#e4d075"/>
<path d="M68.8,450.9 319.3,450.9 319.3,460.1 302.5,463.5 285.9,467.3 267.8,472.2 251.7,477.0 219.9,487.6 152.3,512.2 122.2,521.8 107.6,525.7 94.0,528.8 80.4,531.2 67.8,532.8 67.8,450.9Z" fill="#ebc970"/>
<path d="M68.8,450.9 319.3,450.9 319.3,459.7 304.6,462.5 287.3,466.4 268.5,471.2 251.9,476.0 219.3,486.6 152.3,510.3 123.1,519.3 108.6,523.1 94.0,526.3 80.4,528.6 67.8,530.1 67.8,450.9Z" fill="#f2c26b"/>
<path d="M68.8,450.9 319.3,450.9 319.3,459.3 302.1,462.5 284.6,466.4 252.1,475.1 221.5,484.7 153.3,508.1 124.1,516.9 108.6,520.9 95.0,523.7 81.4,525.9 67.8,527.5 67.8,450.9Z" fill="#faba65"/>
<path d="M68.8,450.9 319.3,450.9 319.3,458.9 304.5,461.5 286.1,465.4 252.5,474.1 221.0,483.7 153.3,506.3 124.1,514.9 109.6,518.4 95.0,521.4 81.4,523.5 67.8,524.9 67.8,450.9Z" fill="#ffb260"/>
<path d="M68.8,450.9 319.3,450.9 319.3,458.5 287.8,464.4 271.3,468.3 252.9,473.1 220.6,482.8 154.2,504.3 125.1,512.6 109.6,516.2 95.0,519.1 81.4,521.1 67.8,522.4 67.8,450.9Z" fill="#ffaa5b"/>
<path d="M68.8,450.9 319.3,450.9 319.3,458.1 304.6,460.6 285.2,464.4 253.5,472.2 223.4,480.9 155.2,502.3 125.1,510.6 109.6,514.1 95.0,516.8 81.4,518.7 67.8,520.0 67.8,450.9Z" fill="#ffa156"/>
<path d="M68.8,450.9 319.3,450.9 319.3,457.7 287.1,463.5 254.1,471.2 223.1,479.9 155.2,500.6 126.1,508.4 110.5,511.8 96.0,514.5 81.4,516.4 67.8,517.6 67.8,450.9Z" fill="#ff9950"/>
<path d="M68.8,450.9 319.3,450.9 319.3,457.4 289.2,462.5 254.9,470.2 222.9,478.9 156.2,498.7 126.1,506.5 110.5,509.8 96.0,512.3 81.4,514.2 67.8,515.3 67.8,450.9Z" fill="#ff8f4b"/>
<path d="M68.8,450.9 319.3,450.9 319.3,457.0 286.5,462.5 251.9,470.2 222.8,478.0 157.1,496.9 126.1,504.7 110.5,507.8 96.0,510.2 81.4,512.0 67.8,513.0 67.8,450.9Z" fill="#ff8646"/>
<path d="M68.8,450.9 319.3,450.9 319.3,456.7 288.9,461.5 252.7,469.3 222.8,477.0 158.1,495.1 127.0,502.7 111.5,505.7 96.0,508.2 81.4,509.9 67.8,510.8 67.8,450.9Z" fill="#ff7c40"/>
<path d="M68.8,450.9 319.3,450.9 319.3,456.4 286.2,461.5 253.8,468.3 222.9,476.0 157.1,493.8 127.0,500.9 111.5,503.9 96.0,506.2 81.4,507.8 67.8,508.7 67.8,450.9Z" fill="#ff723b"/>
<path d="M68.8,450.9 319.3,450.9 319.3,456.1 288.9,460.6 255.0,467.3 223.0,475.1 158.1,492.1 128.0,499.0 112.5,501.9 96.9,504.2 82.4,505.7 67.8,506.6 67.8,450.9Z" fill="#ff6835"/>
<path d="M68.8,450.9 319.3,450.9 319.3,455.8 286.2,460.6 256.3,466.4 223.2,474.1 157.1,490.9 127.0,497.5 110.5,500.4 96.0,502.4 81.4,503.8 67.8,504.5 67.8,450.9Z" fill="#ff5e30"/>
<path d="M68.8,450.9 319.3,450.9 319.3,455.5 289.2,459.6 253.2,466.4 223.6,473.1 159.1,489.1 128.0,495.7 111.5,498.5 96.9,500.4 82.4,501.8 67.8,502.5 67.8,450.9Z" fill="#ff532a"/>
<path d="M68.8,450.9 319.3,450.9 319.3,455.2 286.5,459.6 254.7,465.4 224.0,472.2 158.1,487.9 128.0,494.1 112.5,496.6 96.9,498.6 82.4,499.9 67.8,500.6 67.8,450.9Z" fill="#ff4825"/>
<path d="M68.8,450.9 319.3,450.9 319.3,454.9 290.0,458.6 256.5,464.4 224.6,471.2 160.0,486.2 128.0,492.5 112.5,495.0 96.9,496.9 82.4,498.1 67.8,498.7 67.8,450.9Z" fill="#ff3d1f"/>
<path d="M68.8,450.9 319.3,450.9 319.3,454.7 287.2,458.6 253.3,464.4 225.3,470.2 160.0,484.9 129.0,490.9 113.4,493.2 97.9,495.1 82.4,496.3 67.8,496.9 67.8,450.9Z" fill="#ff3219"/>
<path d="M68.8,450.9 319.3,450.9 319.3,454.4 291.2,457.7 255.3,463.5 226.1,469.3 161.0,483.4 129.9,489.2 113.4,491.7 97.9,493.4 82.4,494.6 67.8,495.1 67.8,450.9Z" fill="#ff2714"/>
<path d="M68.8,450.9 319.3,450.9 319.3,454.2 288.4,457.7 257.5,462.5 227.2,468.3 160.0,482.4 129.0,488.0 112.5,490.3 96.9,491.9 82.4,492.9 67.8,493.3 67.8,450.9Z" fill="#ff1c0e"/>
<path d="M68.8,450.9 319.3,450.9 319.3,453.9 285.6,457.7 254.3,462.5 223.5,468.3 160.0,481.2 129.9,486.4 113.4,488.6 97.9,490.2 82.4,491.2 67.8,491.6 67.8,450.9Z" fill="#ff1108"/>
<path d="M68.8,450.9 319.3,450.9 319.3,453.7 290.3,456.7 256.8,461.5 224.6,467.3 162.0,479.7 129.9,485.0 113.4,487.2 97.9,488.7 82.4,489.6 67.8,490.0 67.8,450.9Z" fill="#ff0603"/>
<path d="M68.8,450.9 319.3,450.9 319.3,453.5 287.5,456.7 253.6,461.5 226.0,466.4 162.0,478.6 130.9,483.6 113.4,485.8 97.9,487.2 82.4,488.1 67.8,488.4 67.8,450.9Z" fill="#ff0000"/>
<path d="M319.3,502.5 297.4,517.6 275.6,535.0 253.4,555.2 231.7,577.5 210.2,601.6 187.9,628.7 164.6,658.6 125.4,710.8M319.3,501.9 297.7,516.6 275.6,534.0 253.2,554.3 231.3,576.5 209.7,600.7 187.2,627.7 164.5,656.7 123.3,710.8M319.3,501.2 297.9,515.6 275.7,533.0 253.1,553.3 231.0,575.5 209.2,599.7 186.5,626.7 121.2,710.8M319.3,500.6 296.9,515.6 274.6,533.0 252.9,552.3 230.7,574.6 209.5,597.8 186.7,624.8 119.1,710.8M319.3,500.0 297.2,514.7 274.7,532.1 252.8,551.4 230.3,573.6 209.0,596.8 186.0,623.8 117.0,710.8M319.3,499.4 297.5,513.7 274.7,531.1 252.6,550.4 230.0,572.6 208.6,595.8 186.1,621.9 114.8,710.8M319.3,498.8 296.4,513.7 274.8,530.1 252.5,549.4 229.7,571.7 208.1,594.9 185.5,620.9 112.5,710.8M319.3,498.2 296.8,512.7 274.9,529.2 252.4,548.5 229.4,570.7 208.5,592.9 185.6,619.0 110.2,710.8M319.3,497.6 297.1,511.8 275.0,528.2 252.3,547.5 229.1,569.7 208.0,592.0 185.8,617.1 107.9,710.8M319.3,497.0 296.0,511.8 273.9,528.2 251.2,547.5 228.8,568.8 208.5,590.0 186.0,615.1 105.5,710.8M319.3,496.4 296.4,510.8 274.0,527.2 252.1,545.6 229.5,566.8 208.9,588.1 187.1,612.3 103.0,710.8M319.3,495.9 296.8,509.8 274.2,526.3 252.1,544.6 229.3,565.9 209.4,586.2 187.3,610.3 122.2,686.3 100.5,710.8M319.3,495.3 297.2,508.9 274.3,525.3 252.0,543.7 229.0,564.9 209.0,585.2 187.5,608.4 121.2,684.9 97.9,710.8M319.3,494.7 296.1,508.9 274.5,524.3 252.0,542.7 228.8,563.9 209.5,583.3 188.7,605.5 120.2,683.6 95.2,710.8M319.3,494.2 296.6,507.9 274.6,523.4 251.9,541.7 228.5,563.0 210.0,581.3 189.9,602.6 119.3,682.2 92.5,710.8M319.3,493.6 297.0,506.9 274.8,522.4 251.9,540.8 229.3,561.0 210.6,579.4 191.1,599.7 118.3,680.8 89.7,710.8M319.3,493.1 297.5,506.0 275.0,521.4 251.8,539.8 229.1,560.1 211.1,577.5 192.4,596.8 117.3,679.4 86.7,710.8M319.3,492.5 297.9,505.0 275.3,520.5 253.0,537.9 229.9,558.1 212.7,574.6 193.7,593.9 116.4,678.0 98.9,696.1 83.7,710.8M319.3,492.0 296.9,505.0 274.2,520.5 251.8,537.9 229.7,557.2 213.4,572.6 195.1,591.0 115.4,676.6 96.9,695.3 80.5,710.8M319.3,491.5 297.4,504.0 275.7,518.5 253.0,535.9 230.6,555.2 211.0,573.6 189.9,594.9 109.6,680.2 93.0,696.4 77.2,710.8M319.3,491.0 296.4,504.0 274.6,518.5 253.1,535.0 230.4,554.3 210.7,572.6 190.3,592.9 108.6,678.7 90.1,696.4 73.7,710.8M319.3,490.4 298.5,502.1 276.3,516.6 254.3,533.0 231.3,552.3 212.4,569.7 191.7,590.0 107.6,677.2 88.2,695.5 70.1,710.8M319.3,489.9 297.4,502.1 276.6,515.6 254.4,532.1 232.3,550.4 213.1,567.8 192.2,588.1 128.0,654.3 107.6,674.7 86.2,694.5 67.8,709.6M319.3,489.4 298.0,501.1 275.5,515.6 254.4,531.1 232.1,549.4 212.8,566.8 192.6,586.2 129.0,651.2 107.6,672.3 86.2,691.8 67.8,706.7M319.3,488.9 298.6,500.2 277.2,513.7 255.8,529.2 233.1,547.5 213.5,564.9 193.2,584.2 129.0,649.0 107.6,669.9 86.2,689.1 67.8,703.8M319.3,488.4 297.6,500.2 276.1,513.7 254.6,529.2 233.0,546.6 214.3,563.0 193.7,582.3 129.9,646.0 108.6,666.6 87.2,685.6 67.8,700.9M319.3,487.9 298.2,499.2 276.5,512.7 256.0,527.2 234.1,544.6 215.1,561.0 194.3,580.4 129.9,643.9 108.6,664.2 87.2,683.0 67.8,698.0M319.3,487.4 298.8,498.2 276.8,511.8 256.2,526.3 234.0,543.7 214.9,560.1 193.8,579.4 130.9,640.9 109.6,661.0 87.2,680.4 67.8,695.2M319.3,487.0 297.8,498.2 277.2,510.8 256.3,525.3 234.0,542.7 214.6,559.1 194.4,577.5 130.9,638.8 109.6,658.7 87.2,677.8 67.8,692.4M319.3,486.5 298.5,497.3 277.6,509.8 256.5,524.3 235.1,540.8 215.5,557.2 195.1,575.5 131.9,635.9 109.6,656.4 87.2,675.3 67.8,689.6M319.3,486.0 299.2,496.3 278.0,508.9 256.7,523.4 235.1,539.8 216.4,555.2 195.7,573.6 131.9,633.9 110.5,653.3 88.2,672.0 67.8,686.8M319.3,485.5 298.1,496.3 276.9,508.9 256.9,522.4 235.0,538.8 216.2,554.3 196.4,571.7 132.9,631.0 110.5,651.1 88.2,669.5 67.8,684.1M319.3,485.1 298.8,495.3 277.4,507.9 257.1,521.4 236.3,536.9 217.2,552.3 197.1,569.7 132.9,629.1 110.5,648.9 88.2,667.1 67.8,681.4M319.3,484.6 297.8,495.3 277.8,506.9 257.3,520.5 236.3,535.9 217.0,551.4 196.8,568.8 133.8,626.2 111.5,645.9 88.2,664.6 67.8,678.7M319.3,484.2 298.6,494.4 278.3,506.0 257.5,519.5 236.3,535.0 218.0,549.4 197.5,566.8 133.8,624.3 111.5,643.7 88.2,662.2 67.8,676.1M319.3,483.7 299.4,493.4 278.8,505.0 257.8,518.5 237.6,533.0 219.1,547.5 198.3,564.9 133.8,622.5 111.5,641.6 88.2,659.8 67.8,673.4M319.3,483.3 300.2,492.4 279.3,504.0 259.5,516.6 237.7,532.1 219.0,546.6 199.1,563.0 134.8,619.7 112.5,638.7 89.2,656.7 67.8,670.8M319.3,482.8 299.1,492.4 278.2,504.0 258.3,516.6 237.7,531.1 218.8,545.6 198.8,562.0 134.8,617.9 112.5,636.6 89.2,654.4 67.8,668.3M319.3,482.4 298.1,492.4 278.8,503.1 258.6,515.6 237.8,530.1 220.0,543.7 199.7,560.1 135.8,615.2 112.5,634.5 89.2,652.0 67.8,665.7M319.3,482.0 299.0,491.5 279.4,502.1 259.0,514.7 239.2,528.2 221.1,541.7 200.6,558.1 135.8,613.4 113.4,631.7 89.2,649.7 67.8,663.2M319.3,481.5 299.8,490.5 279.9,501.1 259.3,513.7 239.4,527.2 221.1,540.8 200.3,557.2 136.7,610.8 113.4,629.7 89.2,647.5 67.8,660.7M319.3,481.1 300.8,489.5 280.6,500.2 259.7,512.7 239.5,526.3 221.0,539.8 201.3,555.2 136.7,609.1 113.4,627.7 89.2,645.2 67.8,658.2M319.3,480.7 299.7,489.5 279.5,500.2 260.0,511.8 239.7,525.3 221.0,538.8 201.0,554.3 137.7,606.5 114.4,625.0 90.1,642.3 67.8,655.7M319.3,480.3 300.7,488.6 280.1,499.2 260.4,510.8 239.8,524.3 221.0,537.9 202.0,552.3 137.7,604.8 114.4,623.0 90.1,640.1 67.8,653.3M319.3,479.9 299.6,488.6 280.8,498.2 260.8,509.8 241.4,522.4 223.6,535.0 203.1,550.4 137.7,603.1 114.4,621.1 90.1,637.9 67.8,650.9M319.3,479.5 300.6,487.6 281.5,497.3 261.3,508.9 241.6,521.4 223.6,534.0 202.9,549.4 137.7,601.4 114.4,619.2 90.1,635.8 67.8,648.5M319.3,479.0 299.6,487.6 280.4,497.3 261.7,507.9 241.8,520.5 223.6,533.0 204.0,547.5 138.7,599.0 115.4,616.6 90.1,633.6 67.8,646.1M319.3,478.7 300.6,486.6 281.1,496.3 262.2,506.9 242.1,519.5 223.7,532.1 203.8,546.6 138.7,597.3 115.4,614.7 90.1,631.5 67.8,643.8M319.3,478.3 299.6,486.6 281.9,495.3 262.7,506.0 242.3,518.5 223.7,531.1 205.0,544.6 139.7,595.0 115.4,612.8 90.1,629.4 67.8,641.5M319.3,477.9 300.7,485.7 280.8,495.3 261.5,506.0 242.6,517.6 223.8,530.1 204.9,543.7 139.7,593.4 115.4,611.0 90.1,627.3 67.8,639.2M319.3,477.5 299.6,485.7 281.6,494.4 262.0,505.0 242.9,516.6 223.9,529.2 204.8,542.7 140.6,591.0 116.4,608.5 91.1,624.7 67.8,636.9M319.3,477.1 300.8,484.7 282.4,493.4 262.6,504.0 243.2,515.6 206.0,540.8 140.6,589.5 116.4,606.7 91.1,622.6 67.8,634.7M319.3,476.7 299.7,484.7 281.3,493.4 263.1,503.1 243.5,514.7 225.5,526.3 205.9,539.8 140.6,587.9 116.4,604.9 91.1,620.6 67.8,632.4M319.3,476.3 300.9,483.7 282.1,492.4 263.7,502.1 243.9,513.7 225.7,525.3 205.9,538.8 141.6,585.6 116.4,603.1 91.1,618.6 67.8,630.2M319.3,476.0 302.1,482.8 283.0,491.5 264.3,501.1 244.2,512.7 207.2,536.9 141.6,584.1 117.3,600.8 91.1,616.6 67.8,628.1M319.3,475.6 301.1,482.8 281.9,491.5 263.2,501.1 244.6,511.8 207.2,535.9 142.6,581.9 117.3,599.0 91.1,614.7 67.8,625.9M319.3,475.2 300.0,482.8 282.8,490.5 263.8,500.2 245.0,510.8 207.2,535.0 142.6,580.4 117.3,597.3 91.1,612.7 67.8,623.7M319.3,474.9 301.3,481.8 281.7,490.5 264.5,499.2 245.4,509.8 208.6,533.0 142.6,579.0 118.3,595.0 91.1,610.8 67.8,621.6M319.3,474.5 300.2,481.8 282.7,489.5 265.2,498.2 245.8,508.9 208.6,532.1 143.5,576.8 118.3,593.3 91.1,608.9 67.8,619.5M319.3,474.2 301.6,480.9 283.7,488.6 265.9,497.3 246.3,507.9 208.7,531.1 143.5,575.4 118.3,591.7 92.1,606.5 79.5,612.6 67.8,617.4M319.3,473.8 300.5,480.9 282.6,488.6 264.7,497.3 246.8,506.9 210.2,529.2 143.5,574.0 119.3,589.4 92.1,604.7 79.5,610.6 67.8,615.4M319.3,473.5 301.9,479.9 283.6,487.6 265.5,496.3 247.3,506.0 210.3,528.2 144.5,571.9 119.3,587.8 92.1,602.8 79.5,608.7 67.8,613.3M319.3,473.1 300.8,479.9 284.7,486.6 266.2,495.3 247.8,505.0 210.4,527.2 144.5,570.5 119.3,586.2 92.1,601.0 79.5,606.7 67.8,611.3M319.3,472.8 302.3,478.9 283.6,486.6 267.0,494.4 248.4,504.0 210.5,526.3 144.5,569.1 119.3,584.6 92.1,599.2 79.5,604.8 67.8,609.3M319.3,472.5 301.2,478.9 284.7,485.7 267.9,493.4 248.9,503.1 212.2,524.3 145.5,567.1 119.3,583.1 92.1,597.4 79.5,602.9 67.8,607.3M319.3,472.1 302.7,478.0 285.9,484.7 268.7,492.4 249.5,502.1 212.4,523.4 145.5,565.8 120.2,580.9 93.0,595.1 80.4,600.7 67.8,605.4M319.3,471.8 301.7,478.0 284.8,484.7 267.6,492.4 250.1,501.1 212.5,522.4 145.5,564.4 120.2,579.4 93.0,593.4 80.4,598.8 67.8,603.4M319.3,471.5 300.6,478.0 283.7,484.7 266.4,492.4 248.9,501.1 212.7,521.4 146.5,562.5 120.2,577.9 93.0,591.7 80.4,597.0 67.8,601.5M319.3,471.2 302.2,477.0 284.9,483.7 267.3,491.5 249.6,500.2 212.9,520.5 146.5,561.2 120.2,576.4 93.0,589.9 80.4,595.2 67.8,599.6M319.3,470.8 303.8,476.0 286.1,482.8 268.3,490.5 250.3,499.2 213.1,519.5 147.4,559.3 121.2,574.3 93.0,588.2 80.4,593.4 67.8,597.7M319.3,470.5 302.8,476.0 285.0,482.8 267.1,490.5 251.0,498.2 213.4,518.5 146.5,558.6 121.2,572.9 93.0,586.5 80.4,591.6 67.8,595.9M319.3,470.2 301.7,476.0 286.3,481.8 270.3,488.6 251.7,497.3 213.6,517.6 147.4,556.8 121.2,571.4 93.0,584.9 80.4,589.8 67.8,594.0M319.3,469.9 303.4,475.1 285.2,481.8 252.4,496.3 215.6,515.6 147.4,555.5 121.2,570.0 93.0,583.2 80.4,588.1 67.8,592.2M319.3,469.6 302.4,475.1 286.6,480.9 270.2,487.6 251.2,496.3 214.2,515.6 148.4,553.7 121.2,568.5 93.0,581.6 80.4,586.4 67.8,590.4M319.3,469.3 301.3,475.1 285.5,480.9 252.0,495.3 214.5,514.7 149.4,552.0 122.2,566.6 93.0,580.0 80.4,584.7 67.8,588.6M319.3,469.0 286.9,479.9 252.8,494.4 216.7,512.7 149.4,550.8 122.2,565.2 94.0,578.0 80.4,583.0 67.8,586.8M319.3,468.7 302.0,474.1 285.8,479.9 253.7,493.4 217.0,511.8 148.4,550.1 122.2,563.8 94.0,576.4 80.4,581.3 67.8,585.0M319.3,468.4 287.3,478.9 254.6,492.4 217.4,510.8 148.4,548.9 122.2,562.4 94.0,574.8 80.4,579.6 67.8,583.3M319.3,468.1 302.9,473.1 286.2,478.9 253.4,492.4 217.9,509.8 149.4,547.2 123.1,560.6 94.0,573.2 80.4,578.0 67.8,581.6M319.3,467.9 287.7,478.0 254.3,491.5 218.3,508.9 149.4,546.0 123.1,559.3 94.0,571.7 80.4,576.4 67.8,579.9M319.3,467.6 286.6,478.0 255.3,490.5 218.8,507.9 150.3,544.4 123.1,557.9 94.0,570.2 80.4,574.7 67.8,578.2M319.3,467.3 288.2,477.0 254.0,490.5 217.3,507.9 150.3,543.2 123.1,556.6 94.0,568.7 80.4,573.1 67.8,576.5M319.3,467.0 287.1,477.0 255.0,489.5 217.8,506.9 150.3,542.1 124.1,554.8 108.6,561.6 94.0,567.2 80.4,571.6 67.8,574.9M319.3,466.7 288.8,476.0 256.1,488.6 218.4,506.0 151.3,540.5 124.1,553.6 95.0,565.3 81.4,569.7 67.8,573.2M319.3,466.5 287.7,476.0 257.2,487.6 220.9,504.0 151.3,539.4 124.1,552.3 108.6,558.8 94.0,564.2 80.4,568.4 67.8,571.6M319.3,466.2 286.6,476.0 256.0,487.6 219.5,504.0 151.3,538.3 124.1,551.0 95.0,562.4 81.4,566.6 67.8,570.0M319.3,465.9 288.3,475.1 257.1,486.6 220.1,503.1 151.3,537.2 124.1,549.7 108.6,556.1 94.0,561.3 80.4,565.4 67.8,568.4M319.3,465.7 290.2,474.1 258.3,485.7 220.7,502.1 152.3,535.7 125.1,548.1 109.6,554.4 95.0,559.6 81.4,563.6 67.8,566.8M319.3,465.4 289.1,474.1 257.0,485.7 221.3,501.1 152.3,534.6 125.1,546.9 109.6,553.1 95.0,558.2 81.4,562.1 67.8,565.3M319.3,465.2 300.5,470.2 282.1,476.0 246.3,489.5 213.7,504.0 145.5,536.7 116.4,549.2 91.1,558.0 67.8,563.8M319.3,464.9 302.8,469.3 283.9,475.1 247.4,488.6 214.2,503.1 145.5,535.6 116.4,547.9 91.1,556.6 67.8,562.2M319.3,464.7 285.7,474.1 268.7,479.9 248.5,487.6 214.9,502.1 145.5,534.6 117.3,546.3 92.1,554.9 67.8,560.7M319.3,464.4 284.6,474.1 267.5,479.9 247.2,487.6 215.5,501.1 147.4,532.6 117.3,545.1 91.1,553.8 67.8,559.2M319.3,464.2 303.1,468.3 283.5,474.1 248.3,486.6 214.0,501.1 147.4,531.6 118.3,543.5 92.1,552.2 67.8,557.7M319.3,463.9 302.0,468.3 282.3,474.1 247.1,486.6 214.7,500.2 147.4,530.6 118.3,542.3 92.1,550.8 67.8,556.3M319.3,463.7 284.3,473.1 248.3,485.7 215.5,499.2 147.4,529.5 118.3,541.1 92.1,549.5 67.8,554.8M319.3,463.5 286.3,472.2 249.5,484.7 216.2,498.2 147.4,528.5 119.3,539.6 92.1,548.2 67.8,553.4M319.3,463.2 285.2,472.2 248.2,484.7 217.0,497.3 148.4,527.1 119.3,538.4 92.1,546.9 67.8,552.0M319.3,463.0 284.0,472.2 249.5,483.7 217.8,496.3 148.4,526.1 119.3,537.3 93.0,545.3 67.8,550.6M319.3,462.8 300.2,467.3 282.9,472.2 248.2,483.7 216.3,496.3 149.4,524.8 119.3,536.2 92.1,544.3 67.8,549.2M319.3,462.6 285.0,471.2 249.6,482.8 217.2,495.3 149.4,523.8 120.2,534.7 93.0,542.8 67.8,547.8M319.3,462.3 283.9,471.2 248.3,482.8 215.7,495.3 149.4,522.8 120.2,533.6 93.0,541.5 67.8,546.5M319.3,462.1 286.1,470.2 249.7,481.8 216.6,494.4 149.4,521.9 120.2,532.5 93.0,540.3 67.8,545.1M319.3,461.9 285.0,470.2 251.2,480.9 217.5,493.4 149.4,521.0 120.2,531.4 93.0,539.1 67.8,543.8M319.3,461.7 283.8,470.2 249.9,480.9 218.5,492.4 150.3,519.7 121.2,530.0 94.0,537.6 67.8,542.5M319.3,461.5 286.2,469.3 251.4,479.9 219.5,491.5 150.3,518.8 121.2,528.9 93.0,536.7 67.8,541.2M319.3,461.3 285.0,469.3 250.1,479.9 218.0,491.5 150.3,517.8 121.2,527.9 93.0,535.5 67.8,539.9M319.3,461.1 287.5,468.3 251.7,478.9 219.0,490.5 150.3,516.9 121.2,526.8 93.0,534.3 67.8,538.6M319.3,460.9 286.4,468.3 250.4,478.9 217.5,490.5 152.3,515.4 122.2,525.5 94.0,532.9 67.8,537.3M319.3,460.7 285.2,468.3 252.1,478.0 218.6,489.5 151.3,514.8 122.2,524.5 94.0,531.8 67.8,536.1M319.3,460.5 284.1,468.3 250.8,478.0 219.8,488.6 151.3,514.0 122.2,523.5 94.0,530.7 67.8,534.8M319.3,460.3 286.7,467.3 252.5,477.0 220.9,487.6 151.3,513.1 123.1,522.2 94.0,529.5 67.8,533.6M319.3,460.1 285.6,467.3 251.2,477.0 219.4,487.6 153.3,511.6 123.1,521.2 94.0,528.4 67.8,532.4M319.3,459.9 284.4,467.3 249.9,477.0 217.9,487.6 154.2,510.4 123.1,520.2 94.0,527.3 67.8,531.2M319.3,459.7 287.2,466.4 251.8,476.0 219.2,486.6 152.3,510.2 123.1,519.3 95.0,526.0 67.8,530.0M319.3,459.5 286.0,466.4 250.4,476.0 220.5,485.7 153.3,509.1 123.1,518.3 95.0,525.0 67.8,528.9M319.3,459.3 284.9,466.4 252.4,475.1 221.8,484.7 153.3,508.3 124.1,517.1 95.0,523.9 67.8,527.7M319.3,459.1 287.8,465.4 251.0,475.1 220.3,484.7 154.2,507.2 124.1,516.2 95.0,522.8 67.8,526.5M319.3,459.0 286.6,465.4 253.1,474.1 221.7,483.7 154.2,506.4 124.1,515.3 95.0,521.8 67.8,525.4M319.3,458.8 285.5,465.4 251.7,474.1 220.2,483.7 154.2,505.6 124.1,514.3 95.0,520.8 67.8,524.3M319.3,458.6 288.6,464.4 253.8,473.1 221.7,482.8 155.2,504.5 124.1,513.4 95.0,519.8 67.8,523.2M319.3,458.4 287.5,464.4 252.5,473.1 220.1,482.8 155.2,503.8 125.1,512.3 95.0,518.7 67.8,522.1M319.3,458.3 286.3,464.4 251.2,473.1 221.7,481.8 156.2,502.7 125.1,511.4 95.0,517.7 67.8,521.0M319.3,458.1 285.1,464.4 253.4,472.2 223.3,480.9 154.2,502.5 125.1,510.5 95.0,516.7 67.8,519.9M319.3,457.9 288.5,463.5 252.1,472.2 221.7,480.9 155.2,501.5 125.1,509.7 95.0,515.8 67.8,518.9M319.3,457.8 287.3,463.5 254.4,471.2 223.4,479.9 156.2,500.5 126.1,508.6 96.0,514.6 67.8,517.8M319.3,457.6 286.1,463.5 253.1,471.2 221.9,479.9 156.2,499.8 126.1,507.7 96.0,513.7 67.8,516.8M319.3,457.5 284.9,463.5 251.7,471.2 220.3,479.9 157.1,498.8 125.1,507.1 95.0,512.9 67.8,515.7M319.3,457.3 288.5,462.5 254.2,470.2 222.1,478.9 157.1,498.1 126.1,506.1 96.0,511.8 67.8,514.7M319.3,457.1 287.3,462.5 252.8,470.2 223.9,478.0 156.2,497.6 126.1,505.2 96.0,510.9 67.8,513.7M319.3,457.0 286.2,462.5 255.4,469.3 222.4,478.0 156.2,496.9 126.1,504.4 96.0,510.0 67.8,512.7M319.3,456.8 285.0,462.5 254.0,469.3 224.3,477.0 157.1,496.0 126.1,503.6 96.0,509.1 67.8,511.7M319.3,456.7 288.8,461.5 252.7,469.3 222.7,477.0 158.1,495.1 127.0,502.6 96.0,508.2 67.8,510.8M319.3,456.6 287.7,461.5 255.4,468.3 224.7,476.0 157.1,494.6 127.0,501.8 96.0,507.3 67.8,509.8M319.3,456.4 286.4,461.5 254.1,468.3 223.2,476.0 158.1,493.7 127.0,501.1 96.0,506.4 67.8,508.9M319.3,456.3 285.2,461.5 252.7,468.3 221.6,476.0 158.1,493.1 127.0,500.3 96.0,505.5 67.8,507.9M319.3,456.1 289.5,460.6 255.6,467.3 223.7,475.1 157.1,492.7 127.0,499.5 96.0,504.7 67.8,507.0M319.3,456.0 288.3,460.6 254.2,467.3 222.1,475.1 158.1,491.8 127.0,498.8 96.9,503.7 67.8,506.1M319.3,455.9 287.0,460.6 252.9,467.3 224.4,474.1 159.1,490.9 128.0,497.8 96.9,502.9 67.8,505.2M319.3,455.7 285.8,460.6 255.9,466.4 226.7,473.1 159.1,490.3 128.0,497.1 96.9,502.0 67.8,504.3M319.3,455.6 290.4,459.6 254.5,466.4 225.1,473.1 158.1,489.9 127.0,496.6 96.0,501.3 67.8,503.4M319.3,455.5 289.2,459.6 253.2,466.4 223.5,473.1 159.1,489.1 128.0,495.7 96.9,500.4 67.8,502.5M319.3,455.4 288.0,459.6 256.4,465.4 226.0,472.2 160.0,488.2 128.0,495.0 96.9,499.6 67.8,501.6M319.3,455.2 286.8,459.6 255.0,465.4 224.4,472.2 159.1,487.9 129.0,494.1 96.9,498.8 67.8,500.8M319.3,455.1 285.5,459.6 253.7,465.4 222.8,472.2 160.0,487.0 128.0,493.6 96.9,498.0 67.8,499.9M319.3,455.0 290.6,458.6 257.1,464.4 225.4,471.2 158.1,486.9 128.0,492.9 96.9,497.2 67.8,499.1M319.3,454.9 289.3,458.6 255.7,464.4 223.8,471.2 159.1,486.1 129.0,492.0 96.9,496.5 67.8,498.3M319.3,454.7 288.1,458.6 254.3,464.4 226.5,470.2 160.0,485.3 129.0,491.4 96.9,495.7 67.8,497.4M319.3,454.6 286.9,458.6 252.9,464.4 161.0,484.5 129.0,490.7 96.9,495.0 67.8,496.6M319.3,454.5 285.6,458.6 256.7,463.5 227.7,469.3 160.0,484.2 129.0,490.0 97.9,494.1 67.8,495.8M319.3,454.4 291.2,457.7 255.3,463.5 226.1,469.3 161.0,483.4 129.9,489.2 97.9,493.4 67.8,495.1M319.3,454.3 290.0,457.7 253.9,463.5 160.0,483.1 129.0,488.7 96.9,492.8 67.8,494.3M319.3,454.2 288.7,457.7 257.8,462.5 227.5,468.3 161.0,482.3 129.0,488.1 96.9,492.1 67.8,493.5M319.3,454.1 287.5,457.7 256.4,462.5 225.9,468.3 160.0,482.0 129.9,487.3 97.9,491.3 67.8,492.7M319.3,454.0 286.2,457.7 255.0,462.5 161.0,481.3 129.0,486.9 96.9,490.6 67.8,492.0M319.3,453.9 285.0,457.7 253.6,462.5 162.0,480.6 129.9,486.1 97.9,489.9 67.8,491.2M319.3,453.8 291.2,456.7 257.9,461.5 225.9,467.3 161.0,480.2 129.9,485.5 97.9,489.2 67.8,490.5M319.3,453.7 290.0,456.7 256.5,461.5 224.2,467.3 162.0,479.6 129.0,485.0 97.9,488.5 67.8,489.8M319.3,453.6 288.7,456.7 255.0,461.5 161.0,479.2 129.9,484.3 97.9,487.8 67.8,489.1" fill="none" stroke="#ffffff" stroke-width="0.45" opacity="0.42"/>
<path d="M319.3,496.9 297.3,510.8 275.0,527.2 252.1,546.6 229.6,567.8 209.2,589.1 186.6,614.2 105.1,710.8" fill="none" stroke="#ffffff" stroke-width="0.8" opacity="0.9"/>
<path d="M319.3,475.9 301.9,482.8 282.8,491.5 264.1,501.1 245.6,511.8 227.0,523.4 206.9,536.9 141.6,583.8 117.3,600.4 91.1,616.2 79.5,622.3 67.8,627.6" fill="none" stroke="#ffffff" stroke-width="0.8" opacity="0.9"/>
<path d="M319.3,462.7 303.7,466.4 285.8,471.2 267.2,477.0 247.9,483.7 215.9,496.3 149.4,524.5 120.2,535.5 93.0,543.7 80.4,546.6 67.8,548.8" fill="none" stroke="#ffffff" stroke-width="0.8" opacity="0.9"/>
<path d="M319.3,455.1 285.1,459.6 253.2,465.4 222.2,472.2 159.1,487.1 129.0,493.1 96.9,497.7 82.4,499.0 67.8,499.6" fill="none" stroke="#ffffff" stroke-width="0.8" opacity="0.9"/>
<path d="M319.3,458.4 287.2,464.4 252.2,473.1 219.7,482.8 155.2,503.6 125.1,512.1 96.0,518.3 81.4,520.5 67.8,521.8" fill="none" stroke="#111" stroke-width="1.55" stroke-dasharray="5.4,3"/>
<path d="M319.3,468.5 304.2,473.1 287.6,478.9 270.4,485.7 252.8,493.4 216.0,511.8 149.4,548.7 122.2,562.8 107.6,569.6 94.0,575.2 80.4,580.0 67.8,583.7" fill="none" stroke="#111" stroke-width="1.55" stroke-dasharray="5.4,3"/>
<path d="M319.3,460.6 300.6,464.4 284.7,468.3 251.6,478.0 218.0,489.5 152.3,514.1 122.2,524.1 94.0,531.3 80.4,533.8 67.8,535.6" fill="none" stroke="#e03020" stroke-width="1.55" stroke-dasharray="5.4,3"/>
<path d="M319.3,490.7 297.5,503.1 275.5,517.6 253.8,534.0 231.0,553.3 211.1,571.7 190.6,592.0 128.0,657.8 108.6,677.7 89.2,696.2 72.3,710.8" fill="none" stroke="#d02030" stroke-width="1.55" stroke-dasharray="5.4,3"/>
<path d="M105.00,695.00 C105.83,696.27 107.33,698.10 109.00,698.60 C110.67,699.10 113.08,698.93 115.00,698.00 C116.92,697.07 118.67,695.50 120.50,693.00 C122.33,690.50 123.42,687.33 126.00,683.00 C128.58,678.67 132.33,672.33 136.00,667.00 C139.67,661.67 143.67,656.33 148.00,651.00 C152.33,645.67 157.33,640.33 162.00,635.00 C166.67,629.67 171.33,624.33 176.00,619.00 C180.67,613.67 185.42,608.33 190.00,603.00 C194.58,597.67 199.92,590.67 203.50,587.00 C207.08,583.33 209.42,583.00 211.50,581.00 C213.58,579.00 215.08,576.83 216.00,575.00 C216.92,573.17 217.50,571.07 217.00,570.00 C216.50,568.93 215.00,568.43 213.00,568.60 C211.00,568.77 207.67,569.60 205.00,571.00 C202.33,572.40 200.67,573.50 197.00,577.00 C193.33,580.50 187.75,586.75 183.00,592.00 C178.25,597.25 173.25,603.33 168.50,608.50 C163.75,613.67 158.83,618.00 154.50,623.00 C150.17,628.00 145.83,634.00 142.50,638.50 C139.17,643.00 137.42,646.08 134.50,650.00 C131.58,653.92 128.00,658.33 125.00,662.00 C122.00,665.67 119.50,668.17 116.50,672.00 C113.50,675.83 109.08,681.83 107.00,685.00 C104.92,688.17 104.33,689.33 104.00,691.00 C103.67,692.67 104.17,693.73 105.00,695.00Z" fill="none" stroke="#d02848" stroke-width="1.2" stroke-linejoin="round"/>
<path d="M209.20,607.00 C209.78,607.93 210.33,609.02 212.20,608.50 C214.07,607.98 217.00,606.37 220.40,603.90 C223.80,601.43 228.87,596.75 232.60,593.70 C236.33,590.65 239.90,588.48 242.80,585.60 C245.70,582.72 247.97,579.28 250.00,576.40 C252.03,573.52 253.98,570.42 255.00,568.30 C256.02,566.18 256.43,564.73 256.10,563.70 C255.77,562.67 254.70,562.02 253.00,562.10 C251.30,562.18 248.78,562.67 245.90,564.20 C243.02,565.73 238.77,569.27 235.70,571.30 C232.63,573.33 230.05,574.18 227.50,576.40 C224.95,578.62 222.95,581.37 220.40,584.60 C217.85,587.83 214.15,592.75 212.20,595.80 C210.25,598.85 209.20,601.03 208.70,602.90 C208.20,604.77 208.62,606.07 209.20,607.00Z" fill="none" stroke="#1a0a3a" stroke-width="1.3" stroke-linejoin="round"/>
</g>
<rect x="67.8" y="450.9" width="251.5" height="259.9" fill="none" stroke="#222" stroke-width="0.9"/>
<line x1="65.6" y1="450.90" x2="67.8" y2="450.90" stroke="#222" stroke-width="0.8"/>
<text x="62.60" y="454.10" font-size="9.60" text-anchor="end" fill="#222" font-weight="normal" textLength="15.50" lengthAdjust="spacingAndGlyphs">1.00</text>
<line x1="65.6" y1="483.39" x2="67.8" y2="483.39" stroke="#222" stroke-width="0.8"/>
<text x="62.60" y="486.59" font-size="9.60" text-anchor="end" fill="#222" font-weight="normal" textLength="15.50" lengthAdjust="spacingAndGlyphs">0.75</text>
<line x1="65.6" y1="515.88" x2="67.8" y2="515.88" stroke="#222" stroke-width="0.8"/>
<text x="62.60" y="519.08" font-size="9.60" text-anchor="end" fill="#222" font-weight="normal" textLength="15.50" lengthAdjust="spacingAndGlyphs">0.50</text>
<line x1="65.6" y1="548.36" x2="67.8" y2="548.36" stroke="#222" stroke-width="0.8"/>
<text x="62.60" y="551.56" font-size="9.60" text-anchor="end" fill="#222" font-weight="normal" textLength="15.50" lengthAdjust="spacingAndGlyphs">0.25</text>
<line x1="65.6" y1="580.85" x2="67.8" y2="580.85" stroke="#222" stroke-width="0.8"/>
<text x="62.60" y="584.05" font-size="9.60" text-anchor="end" fill="#222" font-weight="normal" textLength="15.50" lengthAdjust="spacingAndGlyphs">0.00</text>
<line x1="65.6" y1="613.34" x2="67.8" y2="613.34" stroke="#222" stroke-width="0.8"/>
<text x="62.60" y="616.54" font-size="9.60" text-anchor="end" fill="#222" font-weight="normal" textLength="24.00" lengthAdjust="spacingAndGlyphs">−0.25</text>
<line x1="65.6" y1="645.82" x2="67.8" y2="645.82" stroke="#222" stroke-width="0.8"/>
<text x="62.60" y="649.02" font-size="9.60" text-anchor="end" fill="#222" font-weight="normal" textLength="24.00" lengthAdjust="spacingAndGlyphs">−0.50</text>
<line x1="65.6" y1="678.31" x2="67.8" y2="678.31" stroke="#222" stroke-width="0.8"/>
<text x="62.60" y="681.51" font-size="9.60" text-anchor="end" fill="#222" font-weight="normal" textLength="24.00" lengthAdjust="spacingAndGlyphs">−0.75</text>
<line x1="65.6" y1="710.80" x2="67.8" y2="710.80" stroke="#222" stroke-width="0.8"/>
<text x="62.60" y="714.00" font-size="9.60" text-anchor="end" fill="#222" font-weight="normal" textLength="24.00" lengthAdjust="spacingAndGlyphs">−1.00</text>
<line x1="92.20" y1="710.8" x2="92.20" y2="713.0" stroke="#222" stroke-width="0.8"/>
<text x="92.20" y="721.40" font-size="9.00" text-anchor="middle" fill="#222" font-weight="normal">3</text>
<line x1="129.93" y1="710.8" x2="129.93" y2="713.0" stroke="#222" stroke-width="0.8"/>
<text x="129.93" y="721.40" font-size="9.00" text-anchor="middle" fill="#222" font-weight="normal">4</text>
<line x1="159.20" y1="710.8" x2="159.20" y2="713.0" stroke="#222" stroke-width="0.8"/>
<text x="159.20" y="721.40" font-size="9.00" text-anchor="middle" fill="#222" font-weight="normal">5</text>
<line x1="183.11" y1="710.8" x2="183.11" y2="713.0" stroke="#222" stroke-width="0.8"/>
<text x="183.11" y="721.40" font-size="9.00" text-anchor="middle" fill="#222" font-weight="normal">6</text>
<line x1="203.33" y1="710.8" x2="203.33" y2="713.0" stroke="#222" stroke-width="0.8"/>
<text x="203.33" y="721.40" font-size="9.00" text-anchor="middle" fill="#222" font-weight="normal">7</text>
<line x1="220.84" y1="710.8" x2="220.84" y2="713.0" stroke="#222" stroke-width="0.8"/>
<text x="220.84" y="721.40" font-size="9.00" text-anchor="middle" fill="#222" font-weight="normal">8</text>
<line x1="250.11" y1="710.8" x2="250.11" y2="713.0" stroke="#222" stroke-width="0.8"/>
<text x="250.11" y="721.40" font-size="9.00" text-anchor="middle" fill="#222" font-weight="normal">10</text>
<line x1="274.02" y1="710.8" x2="274.02" y2="713.0" stroke="#222" stroke-width="0.8"/>
<text x="274.02" y="721.40" font-size="9.00" text-anchor="middle" fill="#222" font-weight="normal">12</text>
<line x1="294.24" y1="710.8" x2="294.24" y2="713.0" stroke="#222" stroke-width="0.8"/>
<text x="294.24" y="721.40" font-size="9.00" text-anchor="middle" fill="#222" font-weight="normal">14</text>
<text x="165.40" y="734.60" font-size="12.20" fill="#222" textLength="43.40" lengthAdjust="spacingAndGlyphs"><tspan font-style="italic">M</tspan><tspan font-size="8.50" dy="2.00">BH</tspan><tspan dy="-2.00"> [</tspan><tspan font-style="italic">M</tspan></text>
<circle cx="212.60" cy="732.00" r="2.70" fill="none" stroke="#222" stroke-width="0.70"/><circle cx="212.60" cy="732.00" r="0.81" fill="#222"/>
<text x="215.70" y="734.60" font-size="12.20" fill="#222" textLength="5.50" lengthAdjust="spacingAndGlyphs">]</text>
<text transform="translate(34.5,578) rotate(-90)" font-size="12" text-anchor="middle" fill="#222"><tspan font-style="italic">χ</tspan><tspan font-size="8.4" dy="2">BH</tspan></text>
<defs><linearGradient id="rbv" x1="0" x2="0" y1="1" y2="0">
<stop offset="0.000" stop-color="#8000ff"/>
<stop offset="0.050" stop-color="#6628fe"/>
<stop offset="0.100" stop-color="#4c4ffc"/>
<stop offset="0.150" stop-color="#3374f8"/>
<stop offset="0.200" stop-color="#1996f3"/>
<stop offset="0.250" stop-color="#00b4ec"/>
<stop offset="0.300" stop-color="#19cee3"/>
<stop offset="0.350" stop-color="#33e3d9"/>
<stop offset="0.400" stop-color="#4df3ce"/>
<stop offset="0.450" stop-color="#66fcc2"/>
<stop offset="0.500" stop-color="#80ffb4"/>
<stop offset="0.550" stop-color="#99fca6"/>
<stop offset="0.600" stop-color="#b2f396"/>
<stop offset="0.650" stop-color="#cce385"/>
<stop offset="0.700" stop-color="#e5ce74"/>
<stop offset="0.750" stop-color="#ffb462"/>
<stop offset="0.800" stop-color="#ff964f"/>
<stop offset="0.850" stop-color="#ff743c"/>
<stop offset="0.900" stop-color="#ff4f28"/>
<stop offset="0.950" stop-color="#ff2814"/>
<stop offset="1.000" stop-color="#ff0000"/>
</linearGradient></defs>
<rect x="327.2" y="450.5" width="11.6" height="260" fill="url(#rbv)" stroke="#222" stroke-width="0.6"/>
<line x1="338.8" y1="454.80" x2="341" y2="454.80" stroke="#222" stroke-width="0.7"/>
<text x="342.50" y="458.10" font-size="9.60" text-anchor="start" fill="#222" font-weight="normal" textLength="13.50" lengthAdjust="spacingAndGlyphs">2.4</text>
<line x1="338.8" y1="491.53" x2="341" y2="491.53" stroke="#222" stroke-width="0.7"/>
<text x="342.50" y="494.83" font-size="9.60" text-anchor="start" fill="#222" font-weight="normal" textLength="13.50" lengthAdjust="spacingAndGlyphs">2.2</text>
<line x1="338.8" y1="528.26" x2="341" y2="528.26" stroke="#222" stroke-width="0.7"/>
<text x="342.50" y="531.56" font-size="9.60" text-anchor="start" fill="#222" font-weight="normal" textLength="13.50" lengthAdjust="spacingAndGlyphs">2.0</text>
<line x1="338.8" y1="564.99" x2="341" y2="564.99" stroke="#222" stroke-width="0.7"/>
<text x="342.50" y="568.29" font-size="9.60" text-anchor="start" fill="#222" font-weight="normal" textLength="13.50" lengthAdjust="spacingAndGlyphs">1.8</text>
<line x1="338.8" y1="601.72" x2="341" y2="601.72" stroke="#222" stroke-width="0.7"/>
<text x="342.50" y="605.02" font-size="9.60" text-anchor="start" fill="#222" font-weight="normal" textLength="13.50" lengthAdjust="spacingAndGlyphs">1.6</text>
<line x1="338.8" y1="638.45" x2="341" y2="638.45" stroke="#222" stroke-width="0.7"/>
<text x="342.50" y="641.75" font-size="9.60" text-anchor="start" fill="#222" font-weight="normal" textLength="13.50" lengthAdjust="spacingAndGlyphs">1.4</text>
<line x1="338.8" y1="675.18" x2="341" y2="675.18" stroke="#222" stroke-width="0.7"/>
<text x="342.50" y="678.48" font-size="9.60" text-anchor="start" fill="#222" font-weight="normal" textLength="13.50" lengthAdjust="spacingAndGlyphs">1.2</text>
<text x="305.60" y="446.30" font-size="12.20" fill="#222" textLength="42.30" lengthAdjust="spacingAndGlyphs"><tspan font-style="italic">M</tspan><tspan font-size="8.50" dy="2.00">NS</tspan><tspan dy="-2.00"> [</tspan><tspan font-style="italic">M</tspan></text>
<circle cx="352.00" cy="444.60" r="2.90" fill="none" stroke="#222" stroke-width="0.70"/><circle cx="352.00" cy="444.60" r="0.87" fill="#222"/>
<text x="356.00" y="446.30" font-size="12.20" fill="#222" textLength="4.00" lengthAdjust="spacingAndGlyphs">]</text>
<text x="235.60" y="612.80" font-size="16.50" text-anchor="start" fill="#1a1030" font-weight="normal" textLength="78.70" lengthAdjust="spacingAndGlyphs" style="stroke:#1a1030;stroke-width:0.35">GW200105</text>
<text x="159.50" y="677.80" font-size="16.50" text-anchor="start" fill="#e0104e" font-weight="normal" textLength="77.30" lengthAdjust="spacingAndGlyphs" style="stroke:#e0104e;stroke-width:0.35">GW200115</text>
<text x="288.20" y="461.50" font-size="7.50" text-anchor="middle" fill="#ffffff" font-weight="normal" transform="rotate(-9.00 288.20 461.50)" style="stroke:none" opacity="0.85">2.3</text>
<text x="307.10" y="469.00" font-size="7.50" text-anchor="middle" fill="#ffffff" font-weight="normal" transform="rotate(-15.00 307.10 469.00)" style="stroke:none" opacity="0.85">1.9</text>
<text x="312.20" y="481.50" font-size="7.50" text-anchor="middle" fill="#ffffff" font-weight="normal" transform="rotate(-24.00 312.20 481.50)" style="stroke:none" opacity="0.85">1.5</text>
<text x="261.50" y="536.00" font-size="7.50" text-anchor="middle" fill="#ffffff" font-weight="normal" transform="rotate(-33.00 261.50 536.00)" style="stroke:none" opacity="0.85">1.1</text>
<line x1="206.50" y1="476.50" x2="198.53" y2="467.45" stroke="#fff" stroke-width="1.1"/>
<path d="M193.90,462.20 L200.48,465.73 L196.58,469.17 Z" fill="#fff"/>
<line x1="220.80" y1="494.80" x2="213.86" y2="486.08" stroke="#fff" stroke-width="1.1"/>
<path d="M209.50,480.60 L215.89,484.46 L211.82,487.70 Z" fill="#fff"/>
<line x1="239.10" y1="515.20" x2="234.45" y2="508.38" stroke="#fff" stroke-width="1.1"/>
<path d="M230.50,502.60 L236.59,506.92 L232.30,509.85 Z" fill="#fff"/>
<line x1="269.70" y1="529.50" x2="266.35" y2="521.64" stroke="#fff" stroke-width="1.1"/>
<path d="M263.60,515.20 L268.74,520.62 L263.96,522.66 Z" fill="#fff"/>
</g>
<rect x="421.8" y="458.7" width="229.5" height="248.5" fill="none" stroke="#555" stroke-width="0.9"/>
<line x1="419.6" y1="696.40" x2="421.8" y2="696.40" stroke="#222" stroke-width="0.7"/>
<text x="420.00" y="701.40" font-size="14.20" text-anchor="end" fill="#333" font-weight="normal" textLength="10.80" lengthAdjust="spacingAndGlyphs">0.0</text>
<line x1="419.6" y1="668.35" x2="421.8" y2="668.35" stroke="#222" stroke-width="0.7"/>
<text x="420.00" y="673.35" font-size="14.20" text-anchor="end" fill="#333" font-weight="normal" textLength="10.80" lengthAdjust="spacingAndGlyphs">2.5</text>
<line x1="419.6" y1="640.30" x2="421.8" y2="640.30" stroke="#222" stroke-width="0.7"/>
<text x="420.00" y="645.30" font-size="14.20" text-anchor="end" fill="#333" font-weight="normal" textLength="10.80" lengthAdjust="spacingAndGlyphs">5.0</text>
<line x1="419.6" y1="612.25" x2="421.8" y2="612.25" stroke="#222" stroke-width="0.7"/>
<text x="420.00" y="617.25" font-size="14.20" text-anchor="end" fill="#333" font-weight="normal" textLength="10.80" lengthAdjust="spacingAndGlyphs">7.5</text>
<line x1="419.6" y1="584.20" x2="421.8" y2="584.20" stroke="#222" stroke-width="0.7"/>
<text x="420.00" y="589.20" font-size="14.20" text-anchor="end" fill="#333" font-weight="normal" textLength="14.80" lengthAdjust="spacingAndGlyphs">10.0</text>
<line x1="419.6" y1="556.15" x2="421.8" y2="556.15" stroke="#222" stroke-width="0.7"/>
<text x="420.00" y="561.15" font-size="14.20" text-anchor="end" fill="#333" font-weight="normal" textLength="14.80" lengthAdjust="spacingAndGlyphs">12.5</text>
<line x1="419.6" y1="528.10" x2="421.8" y2="528.10" stroke="#222" stroke-width="0.7"/>
<text x="420.00" y="533.10" font-size="14.20" text-anchor="end" fill="#333" font-weight="normal" textLength="14.80" lengthAdjust="spacingAndGlyphs">15.0</text>
<line x1="419.6" y1="500.05" x2="421.8" y2="500.05" stroke="#222" stroke-width="0.7"/>
<text x="420.00" y="505.05" font-size="14.20" text-anchor="end" fill="#333" font-weight="normal" textLength="14.80" lengthAdjust="spacingAndGlyphs">17.5</text>
<line x1="419.6" y1="472.00" x2="421.8" y2="472.00" stroke="#222" stroke-width="0.7"/>
<text x="420.00" y="477.00" font-size="14.20" text-anchor="end" fill="#333" font-weight="normal" textLength="14.80" lengthAdjust="spacingAndGlyphs">20.0</text>
<line x1="421.80" y1="707.2" x2="421.80" y2="709.4" stroke="#222" stroke-width="0.7"/>
<text x="421.80" y="721.90" font-size="14.50" text-anchor="middle" fill="#333" font-weight="normal" textLength="15.60" lengthAdjust="spacingAndGlyphs">0.00</text>
<line x1="467.70" y1="707.2" x2="467.70" y2="709.4" stroke="#222" stroke-width="0.7"/>
<text x="467.70" y="721.90" font-size="14.50" text-anchor="middle" fill="#333" font-weight="normal" textLength="15.60" lengthAdjust="spacingAndGlyphs">0.05</text>
<line x1="513.60" y1="707.2" x2="513.60" y2="709.4" stroke="#222" stroke-width="0.7"/>
<text x="513.60" y="721.90" font-size="14.50" text-anchor="middle" fill="#333" font-weight="normal" textLength="15.60" lengthAdjust="spacingAndGlyphs">0.10</text>
<line x1="559.50" y1="707.2" x2="559.50" y2="709.4" stroke="#222" stroke-width="0.7"/>
<text x="559.50" y="721.90" font-size="14.50" text-anchor="middle" fill="#333" font-weight="normal" textLength="15.60" lengthAdjust="spacingAndGlyphs">0.15</text>
<line x1="605.40" y1="707.2" x2="605.40" y2="709.4" stroke="#222" stroke-width="0.7"/>
<text x="605.40" y="721.90" font-size="14.50" text-anchor="middle" fill="#333" font-weight="normal" textLength="15.60" lengthAdjust="spacingAndGlyphs">0.20</text>
<line x1="651.30" y1="707.2" x2="651.30" y2="709.4" stroke="#222" stroke-width="0.7"/>
<text x="651.30" y="721.90" font-size="14.50" text-anchor="middle" fill="#333" font-weight="normal" textLength="15.60" lengthAdjust="spacingAndGlyphs">0.25</text>
<text x="523.5" y="736" font-size="13" fill="#333" textLength="25.2" lengthAdjust="spacingAndGlyphs"><tspan font-style="italic">M</tspan><tspan font-size="9" dy="2">total, fit</tspan></text>
<text transform="translate(402.4,582.8) rotate(-90)" font-size="9.8" text-anchor="middle" fill="#222" textLength="25.6" lengthAdjust="spacingAndGlyphs">PDF</text>
<path d="M421.80,476.49 L422.38,472.71 L422.95,470.69 L423.53,469.89 L424.00,469.76 L424.68,471.93 L425.93,483.22 L427.55,517.45 L428.70,535.28 L430.43,556.32 L433.30,586.07 L434.45,593.33 L436.18,599.93 L437.33,602.17 L439.06,604.06 L440.21,604.10 L441.93,603.40 L445.96,600.78 L448.83,598.41 L454.59,592.45 L460.91,584.19 L466.66,574.96 L471.84,568.06 L474.14,564.13 L478.17,555.19 L481.62,545.65 L485.07,535.09 L485.65,533.96 L486.61,533.15 L487.37,534.40 L489.67,546.28 L492.03,568.49 L497.72,652.51 L499.45,673.68 L500.60,682.83 L501.75,689.47 L503.48,694.16 L504.63,695.72 L506.93,696.26 L509.01,696.40 L651.30,696.40" fill="none" stroke="#333" stroke-width="1.20"/>
<path d="M421.80,494.44 L422.95,486.74 L423.53,484.92 L424.10,484.34 L424.68,485.40 L425.25,488.09 L426.40,496.04 L431.00,561.11 L433.30,585.54 L434.65,595.42 L436.18,603.22 L437.33,607.49 L437.91,608.62 L438.32,608.88 L439.63,608.62 L441.93,607.57 L445.38,605.28 L454.01,598.24 L455.31,597.66 L459.19,597.04 L461.49,595.57 L467.24,589.53 L481.04,572.28 L486.80,563.40 L487.95,562.48 L488.52,562.33 L489.10,562.47 L489.67,563.03 L490.82,565.20 L492.55,570.24 L493.70,574.17 L494.85,579.77 L496.57,592.74 L501.18,633.46 L503.48,647.15 L506.35,661.41 L509.23,672.54 L512.10,681.37 L514.98,688.15 L517.86,693.74 L519.01,695.22 L521.31,696.19 L522.78,696.40 L651.30,696.40" fill="none" stroke="#333" stroke-width="1.15" stroke-dasharray="3.4,1.7"/>
<path d="M421.80,610.01 L423.53,601.40 L425.25,594.92 L428.13,587.74 L429.28,586.49 L429.85,586.55 L431.00,588.11 L433.88,594.33 L439.63,608.94 L441.36,612.33 L444.23,616.07 L448.83,620.77 L450.56,622.19 L453.44,623.78 L458.04,625.57 L462.64,626.88 L465.51,627.42 L475.29,627.39 L481.38,626.72 L483.35,627.18 L488.52,630.00 L493.12,633.42 L499.45,638.75 L502.90,640.93 L512.10,644.92 L522.46,648.58 L529.94,651.99 L549.49,662.68 L558.69,669.17 L562.72,671.54 L577.68,678.65 L588.03,682.85 L599.53,686.29 L612.76,689.29 L625.42,691.45 L651.30,695.28" fill="none" stroke="#333" stroke-width="1.00" stroke-dasharray="1.2,1.2"/>
<line x1="586" y1="478.2" x2="604.1" y2="478.2" stroke="#333" stroke-width="1.0"/>
<text x="611.1" y="483.6" font-size="13" fill="#333" textLength="23.3" lengthAdjust="spacingAndGlyphs">1 <tspan font-style="italic">Ṁ</tspan><tspan font-size="9" dy="2">Edd</tspan></text>
<line x1="586" y1="499.9" x2="604.1" y2="499.9" stroke="#333" stroke-width="1.0" stroke-dasharray="3.2,1.6"/>
<text x="611.1" y="505.3" font-size="13" fill="#333" textLength="27.5" lengthAdjust="spacingAndGlyphs">10 <tspan font-style="italic">Ṁ</tspan><tspan font-size="9" dy="2">Edd</tspan></text>
<line x1="586" y1="522.0" x2="604.1" y2="522.0" stroke="#333" stroke-width="1.0" stroke-dasharray="1.2,1.2"/>
<text x="611.1" y="527.4" font-size="13" fill="#333" textLength="31.2" lengthAdjust="spacingAndGlyphs">100 <tspan font-style="italic">Ṁ</tspan><tspan font-size="9" dy="2">Edd</tspan></text>
</svg></body></html>
